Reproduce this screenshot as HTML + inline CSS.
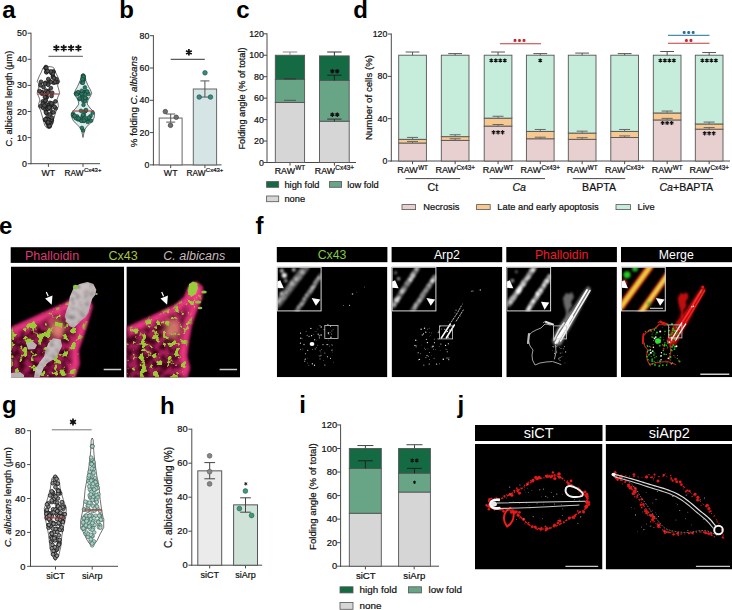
<!DOCTYPE html>
<html><head><meta charset="utf-8"><title>Figure</title>
<style>
html,body{margin:0;padding:0;background:#fff;}
body{width:732px;height:610px;overflow:hidden;}
svg text{font-family:"Liberation Sans",sans-serif;}
</style></head><body>
<svg width="732" height="610" viewBox="0 0 732 610" style="display:block">
<defs>
<filter id="bl2" x="-20%" y="-20%" width="140%" height="140%"><feGaussianBlur stdDeviation="2"/></filter>
<filter id="bl05"><feGaussianBlur stdDeviation="0.5"/></filter>
<filter id="bl03"><feGaussianBlur stdDeviation="0.35"/></filter>
<filter id="bl08" x="-20%" y="-20%" width="140%" height="140%"><feGaussianBlur stdDeviation="1"/></filter>
<filter id="bl15" x="-20%" y="-20%" width="140%" height="140%"><feGaussianBlur stdDeviation="1.5"/></filter>
<filter id="bl3" x="-50%" y="-50%" width="200%" height="200%"><feGaussianBlur stdDeviation="3"/></filter>

<filter id="funtex" color-interpolation-filters="sRGB" filterUnits="userSpaceOnUse" x="0" y="250" width="260" height="140">
<feTurbulence type="fractalNoise" baseFrequency="0.2" numOctaves="3" seed="21"/>
<feColorMatrix type="matrix" values="0 0 0 0 0.5  0 0 0 0 0.47  0 0 0 0 0.48  -2.6 0 0 0 1.4"/><feGaussianBlur stdDeviation="0.9"/></filter>
<linearGradient id="gdark" x1="0" y1="1" x2="1" y2="0"><stop offset="0" stop-color="#fff"/><stop offset="0.45" stop-color="#eee"/><stop offset="0.75" stop-color="#555"/><stop offset="1" stop-color="#222"/></linearGradient>
<linearGradient id="gfun" x1="0" y1="0" x2="1" y2="1"><stop offset="0" stop-color="#d6cfd0"/><stop offset="0.6" stop-color="#c2b9ba"/><stop offset="1" stop-color="#a39a9b"/></linearGradient>
<filter id="darke1" color-interpolation-filters="sRGB" filterUnits="userSpaceOnUse" x="0" y="250" width="260" height="140">
<feTurbulence type="fractalNoise" baseFrequency="0.16" numOctaves="3" seed="3"/>
<feColorMatrix type="matrix" values="0 0 0 0 0.22  0 0 0 0 0.01  0 0 0 0 0.08  -4 0 0 0 2.5"/><feGaussianBlur stdDeviation="0.8"/></filter>
<filter id="greene1" color-interpolation-filters="sRGB" filterUnits="userSpaceOnUse" x="0" y="250" width="260" height="140">
<feTurbulence type="fractalNoise" baseFrequency="0.13" numOctaves="3" seed="11"/>
<feColorMatrix type="matrix" values="0 0 0 0 0.60  0 0 0 0 0.80  0 0 0 0 0.20  16 0 0 0 -9.1"/></filter>
<filter id="darke2" color-interpolation-filters="sRGB" filterUnits="userSpaceOnUse" x="0" y="250" width="260" height="140">
<feTurbulence type="fractalNoise" baseFrequency="0.16" numOctaves="3" seed="5"/>
<feColorMatrix type="matrix" values="0 0 0 0 0.22  0 0 0 0 0.01  0 0 0 0 0.08  -4 0 0 0 2.5"/><feGaussianBlur stdDeviation="0.8"/></filter>
<filter id="greene2" color-interpolation-filters="sRGB" filterUnits="userSpaceOnUse" x="0" y="250" width="260" height="140">
<feTurbulence type="fractalNoise" baseFrequency="0.15" numOctaves="3" seed="13"/>
<feColorMatrix type="matrix" values="0 0 0 0 0.60  0 0 0 0 0.80  0 0 0 0 0.20  16 0 0 0 -9.1"/></filter>
</defs>
<text x="2.3" y="17.8" font-size="24" font-weight="bold" fill="#000" >a</text>
<line x1="31" y1="32.7" x2="31" y2="164.2" stroke="#4a4a4a" stroke-width="1" />
<line x1="27.6" y1="163.7" x2="31" y2="163.7" stroke="#4a4a4a" stroke-width="1" />
<text x="26.9" y="166.78" font-size="8.8" text-anchor="end" fill="#111" stroke="#111" stroke-width="0.22" >0</text>
<line x1="27.6" y1="137.6" x2="31" y2="137.6" stroke="#4a4a4a" stroke-width="1" />
<text x="26.9" y="140.68" font-size="8.8" text-anchor="end" fill="#111" stroke="#111" stroke-width="0.22" >10</text>
<line x1="27.6" y1="111.5" x2="31" y2="111.5" stroke="#4a4a4a" stroke-width="1" />
<text x="26.9" y="114.58" font-size="8.8" text-anchor="end" fill="#111" stroke="#111" stroke-width="0.22" >20</text>
<line x1="27.6" y1="85.4" x2="31" y2="85.4" stroke="#4a4a4a" stroke-width="1" />
<text x="26.9" y="88.48" font-size="8.8" text-anchor="end" fill="#111" stroke="#111" stroke-width="0.22" >30</text>
<line x1="27.6" y1="59.3" x2="31" y2="59.3" stroke="#4a4a4a" stroke-width="1" />
<text x="26.9" y="62.38" font-size="8.8" text-anchor="end" fill="#111" stroke="#111" stroke-width="0.22" >40</text>
<line x1="27.6" y1="33.2" x2="31" y2="33.2" stroke="#4a4a4a" stroke-width="1" />
<text x="26.9" y="36.28" font-size="8.8" text-anchor="end" fill="#111" stroke="#111" stroke-width="0.22" >50</text>
<line x1="30.5" y1="163.7" x2="100" y2="163.7" stroke="#4a4a4a" stroke-width="1" />
<line x1="48.4" y1="163.7" x2="48.4" y2="166.9" stroke="#4a4a4a" stroke-width="1" />
<line x1="83" y1="163.7" x2="83" y2="166.9" stroke="#4a4a4a" stroke-width="1" />
<text x="48.4" y="175.8" font-size="8.8" text-anchor="middle" fill="#111" stroke="#111" stroke-width="0.22" >WT</text>
<text x="64.56" y="175.8" font-size="8.3" fill="#111" stroke="#111" stroke-width="0.22" >RAW</text>
<text x="83.93" y="172" font-size="6" fill="#111" stroke="#111" stroke-width="0.22" >Cx43+</text>
<text x="11.6" y="98.6" font-size="9.3" text-anchor="middle" fill="#111" transform="rotate(-90 11.6 98.6)" stroke="#111" stroke-width="0.22" >C. albicans length (μm)</text>
<line x1="48.4" y1="56.3" x2="82.9" y2="56.3" stroke="#7a7a7a" stroke-width="1.2" />
<path d="M56.38,44.7L56.38,51.5M53.43,46.4L59.32,49.8M59.32,46.4L53.43,49.8M63.73,44.7L63.73,51.5M60.78,46.4L66.67,49.8M66.67,46.4L60.78,49.8M71.08,44.7L71.08,51.5M68.13,46.4L74.02,49.8M74.02,46.4L68.13,49.8M78.43,44.7L78.43,51.5M75.48,46.4L81.37,49.8M81.37,46.4L75.48,49.8" stroke="#111" stroke-width="1.7" stroke-linecap="butt" fill="none"/>
<path d="M48.4,66.5 L44.4,67 L42.9,68 L41.4,72 L38.9,77 L37.2,81.5 L38.9,84 L39.1,86 L37.9,90 L37.2,93.5 L38.9,97 L39.9,100 L38.9,103 L38.4,106.5 L40.4,110 L41.9,115 L43.4,120 L44.6,125 L46.4,127.5 L48.4,128.5 L48.4,128.5 L50.4,127.5 L52.2,125 L53.4,120 L54.9,115 L56.4,110 L58.4,106.5 L57.9,103 L56.9,100 L57.9,97 L59.6,93.5 L58.9,90 L57.7,86 L57.9,84 L59.6,81.5 L57.9,77 L55.4,72 L53.9,68 L52.4,67 L48.4,66.5Z" fill="none" stroke="#333" stroke-width="0.7" stroke-linejoin="round"/>
<circle cx="51.9" cy="112.49" r="1.9" fill="#505050" stroke="#111" stroke-width="0.7"/>
<circle cx="53.43" cy="112.37" r="1.9" fill="#505050" stroke="#111" stroke-width="0.7"/>
<circle cx="40.67" cy="106.2" r="1.9" fill="#505050" stroke="#111" stroke-width="0.7"/>
<circle cx="47.81" cy="91.81" r="1.9" fill="#505050" stroke="#111" stroke-width="0.7"/>
<circle cx="49.88" cy="121.97" r="1.9" fill="#505050" stroke="#111" stroke-width="0.7"/>
<circle cx="56.21" cy="82.22" r="1.9" fill="#505050" stroke="#111" stroke-width="0.7"/>
<circle cx="53.08" cy="76.4" r="1.9" fill="#505050" stroke="#111" stroke-width="0.7"/>
<circle cx="51.82" cy="120.2" r="1.9" fill="#505050" stroke="#111" stroke-width="0.7"/>
<circle cx="57.3" cy="81.79" r="1.9" fill="#505050" stroke="#111" stroke-width="0.7"/>
<circle cx="49.14" cy="80.5" r="1.9" fill="#505050" stroke="#111" stroke-width="0.7"/>
<circle cx="56.34" cy="79.2" r="1.9" fill="#505050" stroke="#111" stroke-width="0.7"/>
<circle cx="49.54" cy="126.43" r="1.9" fill="#505050" stroke="#111" stroke-width="0.7"/>
<circle cx="47.01" cy="96.96" r="1.9" fill="#505050" stroke="#111" stroke-width="0.7"/>
<circle cx="45.39" cy="82.86" r="1.9" fill="#505050" stroke="#111" stroke-width="0.7"/>
<circle cx="49.96" cy="102.84" r="1.9" fill="#505050" stroke="#111" stroke-width="0.7"/>
<circle cx="46.91" cy="70.59" r="1.9" fill="#505050" stroke="#111" stroke-width="0.7"/>
<circle cx="42.08" cy="93.72" r="1.9" fill="#505050" stroke="#111" stroke-width="0.7"/>
<circle cx="53.38" cy="71.66" r="1.9" fill="#505050" stroke="#111" stroke-width="0.7"/>
<circle cx="46.43" cy="108.8" r="1.9" fill="#505050" stroke="#111" stroke-width="0.7"/>
<circle cx="45.89" cy="67.06" r="1.9" fill="#505050" stroke="#111" stroke-width="0.7"/>
<circle cx="41.04" cy="81.82" r="1.9" fill="#505050" stroke="#111" stroke-width="0.7"/>
<circle cx="48.82" cy="105.16" r="1.9" fill="#505050" stroke="#111" stroke-width="0.7"/>
<circle cx="51.51" cy="73.2" r="1.9" fill="#505050" stroke="#111" stroke-width="0.7"/>
<circle cx="44.94" cy="119.8" r="1.9" fill="#505050" stroke="#111" stroke-width="0.7"/>
<circle cx="46.57" cy="72.15" r="1.9" fill="#505050" stroke="#111" stroke-width="0.7"/>
<circle cx="47.49" cy="123.42" r="1.9" fill="#505050" stroke="#111" stroke-width="0.7"/>
<circle cx="45.67" cy="100.3" r="1.9" fill="#505050" stroke="#111" stroke-width="0.7"/>
<circle cx="53.79" cy="82.74" r="1.9" fill="#505050" stroke="#111" stroke-width="0.7"/>
<circle cx="45.99" cy="111.21" r="1.9" fill="#505050" stroke="#111" stroke-width="0.7"/>
<circle cx="53.17" cy="71.89" r="1.9" fill="#505050" stroke="#111" stroke-width="0.7"/>
<circle cx="47.41" cy="122.06" r="1.9" fill="#505050" stroke="#111" stroke-width="0.7"/>
<circle cx="50.45" cy="108.71" r="1.9" fill="#505050" stroke="#111" stroke-width="0.7"/>
<circle cx="43.52" cy="87.22" r="1.9" fill="#505050" stroke="#111" stroke-width="0.7"/>
<circle cx="42.77" cy="101.47" r="1.9" fill="#505050" stroke="#111" stroke-width="0.7"/>
<circle cx="42.04" cy="92.16" r="1.9" fill="#505050" stroke="#111" stroke-width="0.7"/>
<circle cx="52.84" cy="73.53" r="1.9" fill="#505050" stroke="#111" stroke-width="0.7"/>
<circle cx="43.22" cy="107.96" r="1.9" fill="#505050" stroke="#111" stroke-width="0.7"/>
<circle cx="51.59" cy="104.95" r="1.9" fill="#505050" stroke="#111" stroke-width="0.7"/>
<circle cx="41.55" cy="92.59" r="1.9" fill="#505050" stroke="#111" stroke-width="0.7"/>
<circle cx="51.21" cy="122.57" r="1.9" fill="#505050" stroke="#111" stroke-width="0.7"/>
<circle cx="45.81" cy="97.46" r="1.9" fill="#505050" stroke="#111" stroke-width="0.7"/>
<circle cx="48.45" cy="90.99" r="1.9" fill="#505050" stroke="#111" stroke-width="0.7"/>
<circle cx="52.19" cy="92.81" r="1.9" fill="#505050" stroke="#111" stroke-width="0.7"/>
<circle cx="46.87" cy="113.6" r="1.9" fill="#505050" stroke="#111" stroke-width="0.7"/>
<circle cx="48.16" cy="83.91" r="1.9" fill="#505050" stroke="#111" stroke-width="0.7"/>
<circle cx="45.49" cy="109.33" r="1.9" fill="#505050" stroke="#111" stroke-width="0.7"/>
<circle cx="49.77" cy="106.78" r="1.9" fill="#505050" stroke="#111" stroke-width="0.7"/>
<circle cx="46.87" cy="121.21" r="1.9" fill="#505050" stroke="#111" stroke-width="0.7"/>
<circle cx="49.52" cy="119.59" r="1.9" fill="#505050" stroke="#111" stroke-width="0.7"/>
<circle cx="50.88" cy="88.07" r="1.9" fill="#505050" stroke="#111" stroke-width="0.7"/>
<circle cx="47.11" cy="117.85" r="1.9" fill="#505050" stroke="#111" stroke-width="0.7"/>
<circle cx="49.74" cy="120.43" r="1.9" fill="#505050" stroke="#111" stroke-width="0.7"/>
<circle cx="48.47" cy="125.8" r="1.9" fill="#505050" stroke="#111" stroke-width="0.7"/>
<circle cx="55.15" cy="81.98" r="1.9" fill="#505050" stroke="#111" stroke-width="0.7"/>
<circle cx="50.8" cy="71.44" r="1.9" fill="#505050" stroke="#111" stroke-width="0.7"/>
<circle cx="53.01" cy="77.15" r="1.9" fill="#505050" stroke="#111" stroke-width="0.7"/>
<circle cx="47.14" cy="107.76" r="1.9" fill="#505050" stroke="#111" stroke-width="0.7"/>
<circle cx="49.85" cy="114.53" r="1.9" fill="#505050" stroke="#111" stroke-width="0.7"/>
<circle cx="45.51" cy="68.21" r="1.9" fill="#505050" stroke="#111" stroke-width="0.7"/>
<circle cx="50.9" cy="81.97" r="1.9" fill="#505050" stroke="#111" stroke-width="0.7"/>
<circle cx="55.68" cy="108.39" r="1.9" fill="#505050" stroke="#111" stroke-width="0.7"/>
<circle cx="48.12" cy="84.72" r="1.9" fill="#505050" stroke="#111" stroke-width="0.7"/>
<circle cx="47.89" cy="108.69" r="1.9" fill="#505050" stroke="#111" stroke-width="0.7"/>
<circle cx="49.79" cy="121.97" r="1.9" fill="#505050" stroke="#111" stroke-width="0.7"/>
<circle cx="46.53" cy="93.47" r="1.9" fill="#505050" stroke="#111" stroke-width="0.7"/>
<circle cx="49.16" cy="107.63" r="1.9" fill="#505050" stroke="#111" stroke-width="0.7"/>
<circle cx="45.47" cy="100.6" r="1.9" fill="#505050" stroke="#111" stroke-width="0.7"/>
<circle cx="47.14" cy="119.18" r="1.9" fill="#505050" stroke="#111" stroke-width="0.7"/>
<circle cx="49.55" cy="125.91" r="1.9" fill="#505050" stroke="#111" stroke-width="0.7"/>
<circle cx="45.78" cy="120.04" r="1.9" fill="#505050" stroke="#111" stroke-width="0.7"/>
<circle cx="55.4" cy="101.46" r="1.9" fill="#505050" stroke="#111" stroke-width="0.7"/>
<circle cx="45.91" cy="104.23" r="1.9" fill="#505050" stroke="#111" stroke-width="0.7"/>
<circle cx="51.51" cy="119.8" r="1.9" fill="#505050" stroke="#111" stroke-width="0.7"/>
<circle cx="46.09" cy="90.68" r="1.9" fill="#505050" stroke="#111" stroke-width="0.7"/>
<circle cx="48.28" cy="79.05" r="1.9" fill="#505050" stroke="#111" stroke-width="0.7"/>
<circle cx="42.76" cy="103.66" r="1.9" fill="#505050" stroke="#111" stroke-width="0.7"/>
<circle cx="46.03" cy="112.44" r="1.9" fill="#505050" stroke="#111" stroke-width="0.7"/>
<circle cx="46.33" cy="72.1" r="1.9" fill="#505050" stroke="#111" stroke-width="0.7"/>
<circle cx="44.91" cy="96.99" r="1.9" fill="#505050" stroke="#111" stroke-width="0.7"/>
<circle cx="46.42" cy="67.82" r="1.9" fill="#505050" stroke="#111" stroke-width="0.7"/>
<circle cx="54" cy="78.06" r="1.9" fill="#505050" stroke="#111" stroke-width="0.7"/>
<circle cx="48.21" cy="119.89" r="1.9" fill="#505050" stroke="#111" stroke-width="0.7"/>
<circle cx="44.43" cy="105.56" r="1.9" fill="#505050" stroke="#111" stroke-width="0.7"/>
<circle cx="47.91" cy="92.41" r="1.9" fill="#505050" stroke="#111" stroke-width="0.7"/>
<circle cx="52.44" cy="103.94" r="1.9" fill="#505050" stroke="#111" stroke-width="0.7"/>
<circle cx="45.04" cy="83.61" r="1.9" fill="#505050" stroke="#111" stroke-width="0.7"/>
<circle cx="39.52" cy="91.04" r="1.9" fill="#505050" stroke="#111" stroke-width="0.7"/>
<circle cx="45.55" cy="119.3" r="1.9" fill="#505050" stroke="#111" stroke-width="0.7"/>
<circle cx="51.81" cy="117.57" r="1.9" fill="#505050" stroke="#111" stroke-width="0.7"/>
<circle cx="47.66" cy="70.98" r="1.9" fill="#505050" stroke="#111" stroke-width="0.7"/>
<circle cx="51.51" cy="103.38" r="1.9" fill="#505050" stroke="#111" stroke-width="0.7"/>
<circle cx="54.53" cy="106.73" r="1.9" fill="#505050" stroke="#111" stroke-width="0.7"/>
<circle cx="51.56" cy="95.99" r="1.9" fill="#505050" stroke="#111" stroke-width="0.7"/>
<circle cx="48.18" cy="122.23" r="1.9" fill="#505050" stroke="#111" stroke-width="0.7"/>
<circle cx="40.41" cy="85.33" r="1.9" fill="#505050" stroke="#111" stroke-width="0.7"/>
<line x1="37.5" y1="94" x2="59.3" y2="94" stroke="#a33" stroke-width="1.1" />
<path d="M83,74 L81.4,74.5 L80.4,80 L77.5,86.5 L75.5,90 L74.3,93.3 L76,97 L78,100 L78.8,104 L76,108 L73,111 L71.3,114 L72,118 L73.5,121 L76.5,124 L79.5,127 L81.5,130 L82.3,134 L83,137.5 L83,137.5 L83.7,134 L84.5,130 L86.5,127 L89.5,124 L92.5,121 L94,118 L94.7,114 L93,111 L90,108 L87.2,104 L88,100 L90,97 L91.7,93.3 L90.5,90 L88.5,86.5 L85.6,80 L84.6,74.5 L83,74Z" fill="#d9eeee" stroke="#333" stroke-width="0.7" stroke-linejoin="round"/>
<circle cx="85.57" cy="110.96" r="1.85" fill="#2b7a64" stroke="#173d33" stroke-width="0.6"/>
<circle cx="78.18" cy="93.75" r="1.85" fill="#2b7a64" stroke="#173d33" stroke-width="0.6"/>
<circle cx="83.11" cy="130.43" r="1.85" fill="#2b7a64" stroke="#173d33" stroke-width="0.6"/>
<circle cx="83.29" cy="101.02" r="1.85" fill="#2b7a64" stroke="#173d33" stroke-width="0.6"/>
<circle cx="88.26" cy="119.37" r="1.85" fill="#2b7a64" stroke="#173d33" stroke-width="0.6"/>
<circle cx="83.23" cy="75.62" r="1.85" fill="#2b7a64" stroke="#173d33" stroke-width="0.6"/>
<circle cx="83.53" cy="77.1" r="1.85" fill="#2b7a64" stroke="#173d33" stroke-width="0.6"/>
<circle cx="87.71" cy="121.94" r="1.85" fill="#2b7a64" stroke="#173d33" stroke-width="0.6"/>
<circle cx="82.21" cy="95.5" r="1.85" fill="#2b7a64" stroke="#173d33" stroke-width="0.6"/>
<circle cx="81.75" cy="92.91" r="1.85" fill="#2b7a64" stroke="#173d33" stroke-width="0.6"/>
<circle cx="85.87" cy="119.47" r="1.85" fill="#2b7a64" stroke="#173d33" stroke-width="0.6"/>
<circle cx="83.97" cy="91.77" r="1.85" fill="#2b7a64" stroke="#173d33" stroke-width="0.6"/>
<circle cx="90.61" cy="115.98" r="1.85" fill="#2b7a64" stroke="#173d33" stroke-width="0.6"/>
<circle cx="82.79" cy="116.04" r="1.85" fill="#2b7a64" stroke="#173d33" stroke-width="0.6"/>
<circle cx="80.85" cy="120.32" r="1.85" fill="#2b7a64" stroke="#173d33" stroke-width="0.6"/>
<circle cx="86.38" cy="118.42" r="1.85" fill="#2b7a64" stroke="#173d33" stroke-width="0.6"/>
<circle cx="83.82" cy="120.99" r="1.85" fill="#2b7a64" stroke="#173d33" stroke-width="0.6"/>
<circle cx="86.44" cy="91.84" r="1.85" fill="#2b7a64" stroke="#173d33" stroke-width="0.6"/>
<circle cx="81.72" cy="82.5" r="1.85" fill="#2b7a64" stroke="#173d33" stroke-width="0.6"/>
<circle cx="80.91" cy="118.61" r="1.85" fill="#2b7a64" stroke="#173d33" stroke-width="0.6"/>
<circle cx="85.4" cy="92.62" r="1.85" fill="#2b7a64" stroke="#173d33" stroke-width="0.6"/>
<circle cx="83.09" cy="92.44" r="1.85" fill="#2b7a64" stroke="#173d33" stroke-width="0.6"/>
<circle cx="82.66" cy="98.76" r="1.85" fill="#2b7a64" stroke="#173d33" stroke-width="0.6"/>
<circle cx="83.1" cy="80.83" r="1.85" fill="#2b7a64" stroke="#173d33" stroke-width="0.6"/>
<circle cx="86.31" cy="98.42" r="1.85" fill="#2b7a64" stroke="#173d33" stroke-width="0.6"/>
<circle cx="85.03" cy="101.26" r="1.85" fill="#2b7a64" stroke="#173d33" stroke-width="0.6"/>
<circle cx="83.97" cy="79.32" r="1.85" fill="#2b7a64" stroke="#173d33" stroke-width="0.6"/>
<circle cx="84.91" cy="87.43" r="1.85" fill="#2b7a64" stroke="#173d33" stroke-width="0.6"/>
<circle cx="85.86" cy="92.09" r="1.85" fill="#2b7a64" stroke="#173d33" stroke-width="0.6"/>
<circle cx="85.24" cy="98.01" r="1.85" fill="#2b7a64" stroke="#173d33" stroke-width="0.6"/>
<circle cx="88.96" cy="117.58" r="1.85" fill="#2b7a64" stroke="#173d33" stroke-width="0.6"/>
<circle cx="84.35" cy="111.87" r="1.85" fill="#2b7a64" stroke="#173d33" stroke-width="0.6"/>
<circle cx="79.54" cy="99.11" r="1.85" fill="#2b7a64" stroke="#173d33" stroke-width="0.6"/>
<circle cx="78.61" cy="92.76" r="1.85" fill="#2b7a64" stroke="#173d33" stroke-width="0.6"/>
<circle cx="82.11" cy="96.13" r="1.85" fill="#2b7a64" stroke="#173d33" stroke-width="0.6"/>
<circle cx="82.35" cy="120.25" r="1.85" fill="#2b7a64" stroke="#173d33" stroke-width="0.6"/>
<circle cx="76.5" cy="118.33" r="1.85" fill="#2b7a64" stroke="#173d33" stroke-width="0.6"/>
<circle cx="84.06" cy="115.22" r="1.85" fill="#2b7a64" stroke="#173d33" stroke-width="0.6"/>
<circle cx="86.41" cy="91.68" r="1.85" fill="#2b7a64" stroke="#173d33" stroke-width="0.6"/>
<circle cx="83.47" cy="76.11" r="1.85" fill="#2b7a64" stroke="#173d33" stroke-width="0.6"/>
<circle cx="73.17" cy="113.78" r="1.85" fill="#2b7a64" stroke="#173d33" stroke-width="0.6"/>
<circle cx="81.9" cy="127.9" r="1.85" fill="#2b7a64" stroke="#173d33" stroke-width="0.6"/>
<circle cx="82.37" cy="94.59" r="1.85" fill="#2b7a64" stroke="#173d33" stroke-width="0.6"/>
<circle cx="76.18" cy="93.51" r="1.85" fill="#2b7a64" stroke="#173d33" stroke-width="0.6"/>
<circle cx="85.57" cy="110.49" r="1.85" fill="#2b7a64" stroke="#173d33" stroke-width="0.6"/>
<circle cx="76.79" cy="117.21" r="1.85" fill="#2b7a64" stroke="#173d33" stroke-width="0.6"/>
<circle cx="78.16" cy="92.72" r="1.85" fill="#2b7a64" stroke="#173d33" stroke-width="0.6"/>
<circle cx="77.19" cy="116.47" r="1.85" fill="#2b7a64" stroke="#173d33" stroke-width="0.6"/>
<circle cx="72.91" cy="115.05" r="1.85" fill="#2b7a64" stroke="#173d33" stroke-width="0.6"/>
<circle cx="81.51" cy="120.84" r="1.85" fill="#2b7a64" stroke="#173d33" stroke-width="0.6"/>
<circle cx="84.1" cy="120.56" r="1.85" fill="#2b7a64" stroke="#173d33" stroke-width="0.6"/>
<circle cx="78.29" cy="119.5" r="1.85" fill="#2b7a64" stroke="#173d33" stroke-width="0.6"/>
<circle cx="82.93" cy="79.84" r="1.85" fill="#2b7a64" stroke="#173d33" stroke-width="0.6"/>
<circle cx="82.95" cy="114.91" r="1.85" fill="#2b7a64" stroke="#173d33" stroke-width="0.6"/>
<circle cx="83.51" cy="77.04" r="1.85" fill="#2b7a64" stroke="#173d33" stroke-width="0.6"/>
<circle cx="74.04" cy="116.38" r="1.85" fill="#2b7a64" stroke="#173d33" stroke-width="0.6"/>
<circle cx="81.6" cy="93.82" r="1.85" fill="#2b7a64" stroke="#173d33" stroke-width="0.6"/>
<circle cx="82.56" cy="79.36" r="1.85" fill="#2b7a64" stroke="#173d33" stroke-width="0.6"/>
<circle cx="91.1" cy="120.72" r="1.85" fill="#2b7a64" stroke="#173d33" stroke-width="0.6"/>
<circle cx="76.03" cy="93.69" r="1.85" fill="#2b7a64" stroke="#173d33" stroke-width="0.6"/>
<circle cx="83.5" cy="104.9" r="1.85" fill="#2b7a64" stroke="#173d33" stroke-width="0.6"/>
<circle cx="75.92" cy="118.13" r="1.85" fill="#2b7a64" stroke="#173d33" stroke-width="0.6"/>
<circle cx="92.68" cy="112.73" r="1.85" fill="#2b7a64" stroke="#173d33" stroke-width="0.6"/>
<circle cx="82.91" cy="82.81" r="1.85" fill="#2b7a64" stroke="#173d33" stroke-width="0.6"/>
<circle cx="81.74" cy="90.73" r="1.85" fill="#2b7a64" stroke="#173d33" stroke-width="0.6"/>
<circle cx="74.58" cy="115.88" r="1.85" fill="#2b7a64" stroke="#173d33" stroke-width="0.6"/>
<circle cx="85.32" cy="94.27" r="1.85" fill="#2b7a64" stroke="#173d33" stroke-width="0.6"/>
<circle cx="86.09" cy="110" r="1.85" fill="#2b7a64" stroke="#173d33" stroke-width="0.6"/>
<circle cx="88.48" cy="93.95" r="1.85" fill="#2b7a64" stroke="#173d33" stroke-width="0.6"/>
<circle cx="80.95" cy="110.83" r="1.85" fill="#2b7a64" stroke="#173d33" stroke-width="0.6"/>
<circle cx="87.27" cy="91.46" r="1.85" fill="#2b7a64" stroke="#173d33" stroke-width="0.6"/>
<circle cx="78.61" cy="118.52" r="1.85" fill="#2b7a64" stroke="#173d33" stroke-width="0.6"/>
<circle cx="79.41" cy="98.28" r="1.85" fill="#2b7a64" stroke="#173d33" stroke-width="0.6"/>
<circle cx="77.91" cy="92.22" r="1.85" fill="#2b7a64" stroke="#173d33" stroke-width="0.6"/>
<circle cx="76.62" cy="94.52" r="1.85" fill="#2b7a64" stroke="#173d33" stroke-width="0.6"/>
<line x1="72.5" y1="111" x2="94" y2="111" stroke="#a33" stroke-width="1.1" />
<text x="119.3" y="17.8" font-size="24" font-weight="bold" fill="#000" >b</text>
<line x1="153.4" y1="35.2" x2="153.4" y2="165.4" stroke="#4a4a4a" stroke-width="1" />
<line x1="150" y1="164.9" x2="153.4" y2="164.9" stroke="#4a4a4a" stroke-width="1" />
<text x="149.4" y="167.98" font-size="8.8" text-anchor="end" fill="#111" stroke="#111" stroke-width="0.22" >0</text>
<line x1="150" y1="132.6" x2="153.4" y2="132.6" stroke="#4a4a4a" stroke-width="1" />
<text x="149.4" y="135.68" font-size="8.8" text-anchor="end" fill="#111" stroke="#111" stroke-width="0.22" >20</text>
<line x1="150" y1="100.3" x2="153.4" y2="100.3" stroke="#4a4a4a" stroke-width="1" />
<text x="149.4" y="103.38" font-size="8.8" text-anchor="end" fill="#111" stroke="#111" stroke-width="0.22" >40</text>
<line x1="150" y1="68" x2="153.4" y2="68" stroke="#4a4a4a" stroke-width="1" />
<text x="149.4" y="71.08" font-size="8.8" text-anchor="end" fill="#111" stroke="#111" stroke-width="0.22" >60</text>
<line x1="150" y1="35.7" x2="153.4" y2="35.7" stroke="#4a4a4a" stroke-width="1" />
<text x="149.4" y="38.78" font-size="8.8" text-anchor="end" fill="#111" stroke="#111" stroke-width="0.22" >80</text>
<line x1="152.9" y1="164.9" x2="221.5" y2="164.9" stroke="#4a4a4a" stroke-width="1" />
<line x1="170.7" y1="164.9" x2="170.7" y2="168.1" stroke="#4a4a4a" stroke-width="1" />
<line x1="204.9" y1="164.9" x2="204.9" y2="168.1" stroke="#4a4a4a" stroke-width="1" />
<rect x="159.2" y="118.06" width="22.9" height="46.84" fill="#fff" stroke="#666" stroke-width="1" />
<rect x="193.3" y="89" width="23.3" height="75.91" fill="#d5e5e5" stroke="#666" stroke-width="1" />
<line x1="170.7" y1="122.1" x2="170.7" y2="114.03" stroke="#555" stroke-width="1" />
<line x1="166.2" y1="114.03" x2="175.2" y2="114.03" stroke="#555" stroke-width="1" />
<line x1="166.2" y1="122.1" x2="175.2" y2="122.1" stroke="#555" stroke-width="1" />
<line x1="204.9" y1="97.07" x2="204.9" y2="80.92" stroke="#555" stroke-width="1" />
<line x1="200.4" y1="80.92" x2="209.4" y2="80.92" stroke="#555" stroke-width="1" />
<line x1="200.4" y1="97.07" x2="209.4" y2="97.07" stroke="#555" stroke-width="1" />
<circle cx="165.3" cy="111.61" r="2.3" fill="#707070" stroke="#333" stroke-width="0.6"/>
<circle cx="176.2" cy="117.26" r="2.3" fill="#707070" stroke="#333" stroke-width="0.6"/>
<circle cx="170.5" cy="125.33" r="2.3" fill="#707070" stroke="#333" stroke-width="0.6"/>
<circle cx="205" cy="72.85" r="2.3" fill="#3b8a82" stroke="#1c4a45" stroke-width="0.6"/>
<circle cx="199.2" cy="97.07" r="2.3" fill="#3b8a82" stroke="#1c4a45" stroke-width="0.6"/>
<circle cx="210.5" cy="97.07" r="2.3" fill="#3b8a82" stroke="#1c4a45" stroke-width="0.6"/>
<line x1="170.7" y1="59.3" x2="204.8" y2="59.3" stroke="#333" stroke-width="1" />
<path d="M188.9,49L188.9,55.6M186.04,50.65L191.76,53.95M191.76,50.65L186.04,53.95" stroke="#111" stroke-width="1.7" stroke-linecap="butt" fill="none"/>
<text x="170.7" y="176.2" font-size="8.8" text-anchor="middle" fill="#111" stroke="#111" stroke-width="0.22" >WT</text>
<text x="186.46" y="176.2" font-size="8.3" fill="#111" stroke="#111" stroke-width="0.22" >RAW</text>
<text x="205.83" y="172.4" font-size="6" fill="#111" stroke="#111" stroke-width="0.22" >Cx43+</text>
<text x="137.4" y="101.7" font-size="9.75" text-anchor="middle" fill="#111" transform="rotate(-90 137.4 101.7)" stroke="#111" stroke-width="0.22" >% folding <tspan font-style="italic">C. albicans</tspan></text>
<text x="236.3" y="17.8" font-size="24" font-weight="bold" fill="#000" >c</text>
<line x1="267" y1="33.3" x2="267" y2="163" stroke="#4a4a4a" stroke-width="1" />
<line x1="263.6" y1="162.5" x2="267" y2="162.5" stroke="#4a4a4a" stroke-width="1" />
<text x="263.9" y="165.58" font-size="8.8" text-anchor="end" fill="#111" stroke="#111" stroke-width="0.22" >0</text>
<line x1="263.6" y1="141.05" x2="267" y2="141.05" stroke="#4a4a4a" stroke-width="1" />
<text x="263.9" y="144.13" font-size="8.8" text-anchor="end" fill="#111" stroke="#111" stroke-width="0.22" >20</text>
<line x1="263.6" y1="119.6" x2="267" y2="119.6" stroke="#4a4a4a" stroke-width="1" />
<text x="263.9" y="122.68" font-size="8.8" text-anchor="end" fill="#111" stroke="#111" stroke-width="0.22" >40</text>
<line x1="263.6" y1="98.15" x2="267" y2="98.15" stroke="#4a4a4a" stroke-width="1" />
<text x="263.9" y="101.23" font-size="8.8" text-anchor="end" fill="#111" stroke="#111" stroke-width="0.22" >60</text>
<line x1="263.6" y1="76.7" x2="267" y2="76.7" stroke="#4a4a4a" stroke-width="1" />
<text x="263.9" y="79.78" font-size="8.8" text-anchor="end" fill="#111" stroke="#111" stroke-width="0.22" >80</text>
<line x1="263.6" y1="55.25" x2="267" y2="55.25" stroke="#4a4a4a" stroke-width="1" />
<text x="263.9" y="58.33" font-size="8.8" text-anchor="end" fill="#111" stroke="#111" stroke-width="0.22" >100</text>
<line x1="263.6" y1="33.8" x2="267" y2="33.8" stroke="#4a4a4a" stroke-width="1" />
<text x="263.9" y="36.88" font-size="8.8" text-anchor="end" fill="#111" stroke="#111" stroke-width="0.22" >120</text>
<line x1="266.5" y1="162.5" x2="356" y2="162.5" stroke="#4a4a4a" stroke-width="1" />
<line x1="290" y1="162.5" x2="290" y2="165.7" stroke="#4a4a4a" stroke-width="1" />
<line x1="334.4" y1="162.5" x2="334.4" y2="165.7" stroke="#4a4a4a" stroke-width="1" />
<rect x="275.3" y="102.44" width="29.3" height="60.06" fill="#d6d6d6" stroke="#555" stroke-width="0.9" />
<rect x="275.3" y="79.38" width="29.3" height="23.06" fill="#68a486" stroke="#555" stroke-width="0.9" />
<rect x="275.3" y="55.25" width="29.3" height="24.13" fill="#146a43" stroke="#555" stroke-width="0.9" />
<rect x="319.5" y="121.21" width="29.7" height="41.29" fill="#d6d6d6" stroke="#555" stroke-width="0.9" />
<rect x="319.5" y="80.45" width="29.7" height="40.76" fill="#68a486" stroke="#555" stroke-width="0.9" />
<rect x="319.5" y="55.89" width="29.7" height="24.56" fill="#146a43" stroke="#555" stroke-width="0.9" />
<line x1="290" y1="55.25" x2="290" y2="52" stroke="#8a8a8a" stroke-width="1" />
<line x1="282.8" y1="52" x2="297.2" y2="52" stroke="#8a8a8a" stroke-width="1" />
<line x1="334.4" y1="55.89" x2="334.4" y2="52" stroke="#333" stroke-width="1" />
<line x1="327.2" y1="52" x2="341.6" y2="52" stroke="#333" stroke-width="1" />
<line x1="284" y1="78.84" x2="296" y2="78.84" stroke="#333" stroke-width="1" />
<line x1="284" y1="100.3" x2="296" y2="100.3" stroke="#555" stroke-width="1" />
<line x1="334.4" y1="80.5" x2="334.4" y2="75.2" stroke="#222" stroke-width="1" />
<line x1="327.2" y1="75.2" x2="341.6" y2="75.2" stroke="#222" stroke-width="1" />
<line x1="334.4" y1="121.4" x2="334.4" y2="119.1" stroke="#333" stroke-width="1" />
<line x1="327.2" y1="119.1" x2="341.6" y2="119.1" stroke="#333" stroke-width="1" />
<path d="M332.35,69L332.35,73.4M330.44,70.1L334.26,72.3M334.26,70.1L330.44,72.3M337.25,69L337.25,73.4M335.34,70.1L339.16,72.3M339.16,70.1L335.34,72.3" stroke="#111" stroke-width="1.3" stroke-linecap="butt" fill="none"/>
<path d="M332.35,112.5L332.35,116.9M330.44,113.6L334.26,115.8M334.26,113.6L330.44,115.8M337.25,112.5L337.25,116.9M335.34,113.6L339.16,115.8M339.16,113.6L335.34,115.8" stroke="#111" stroke-width="1.3" stroke-linecap="butt" fill="none"/>
<text x="274.76" y="173.8" font-size="8.8" fill="#111" stroke="#111" stroke-width="0.22" >RAW</text>
<text x="295.29" y="170" font-size="6.4" fill="#111" stroke="#111" stroke-width="0.22" >WT</text>
<text x="314.8" y="173.8" font-size="8.8" fill="#111" stroke="#111" stroke-width="0.22" >RAW</text>
<text x="335.33" y="170" font-size="6.4" fill="#111" stroke="#111" stroke-width="0.22" >Cx43+</text>
<text x="244.6" y="98.5" font-size="9.2" text-anchor="middle" fill="#111" transform="rotate(-90 244.6 98.5)" stroke="#111" stroke-width="0.22" >Folding angle (% of total)</text>
<rect x="266.6" y="181.6" width="12.1" height="5.7" fill="#146a43" stroke="#555" stroke-width="0.8" />
<text x="284.4" y="187.5" font-size="9.3" fill="#111" stroke="#111" stroke-width="0.22" >high fold</text>
<rect x="329.5" y="181.6" width="12.1" height="5.7" fill="#68a486" stroke="#555" stroke-width="0.8" />
<text x="347.2" y="187.5" font-size="9.3" fill="#111" stroke="#111" stroke-width="0.22" >low fold</text>
<rect x="266.6" y="196" width="12.1" height="5.7" fill="#d6d6d6" stroke="#555" stroke-width="0.8" />
<text x="284.4" y="201.8" font-size="9.3" fill="#111" stroke="#111" stroke-width="0.22" >none</text>
<text x="353.3" y="17.8" font-size="24" font-weight="bold" fill="#000" >d</text>
<line x1="391.3" y1="33.54" x2="391.3" y2="161.5" stroke="#4a4a4a" stroke-width="1" />
<line x1="387.9" y1="161" x2="391.3" y2="161" stroke="#4a4a4a" stroke-width="1" />
<text x="387.4" y="164.08" font-size="8.8" text-anchor="end" fill="#111" stroke="#111" stroke-width="0.22" >0</text>
<line x1="387.9" y1="118.68" x2="391.3" y2="118.68" stroke="#4a4a4a" stroke-width="1" />
<text x="387.4" y="121.76" font-size="8.8" text-anchor="end" fill="#111" stroke="#111" stroke-width="0.22" >40</text>
<line x1="387.9" y1="76.36" x2="391.3" y2="76.36" stroke="#4a4a4a" stroke-width="1" />
<text x="387.4" y="79.44" font-size="8.8" text-anchor="end" fill="#111" stroke="#111" stroke-width="0.22" >80</text>
<line x1="387.9" y1="34.04" x2="391.3" y2="34.04" stroke="#4a4a4a" stroke-width="1" />
<text x="387.4" y="37.12" font-size="8.8" text-anchor="end" fill="#111" stroke="#111" stroke-width="0.22" >120</text>
<line x1="390.8" y1="161" x2="730" y2="161" stroke="#4a4a4a" stroke-width="1" />
<line x1="412.55" y1="161" x2="412.55" y2="164.2" stroke="#4a4a4a" stroke-width="1" />
<line x1="455.15" y1="161" x2="455.15" y2="164.2" stroke="#4a4a4a" stroke-width="1" />
<line x1="498.05" y1="161" x2="498.05" y2="164.2" stroke="#4a4a4a" stroke-width="1" />
<line x1="540.25" y1="161" x2="540.25" y2="164.2" stroke="#4a4a4a" stroke-width="1" />
<line x1="582.15" y1="161" x2="582.15" y2="164.2" stroke="#4a4a4a" stroke-width="1" />
<line x1="624.65" y1="161" x2="624.65" y2="164.2" stroke="#4a4a4a" stroke-width="1" />
<line x1="667.15" y1="161" x2="667.15" y2="164.2" stroke="#4a4a4a" stroke-width="1" />
<line x1="709.15" y1="161" x2="709.15" y2="164.2" stroke="#4a4a4a" stroke-width="1" />
<rect x="398.7" y="143.01" width="27.7" height="17.99" fill="#e8d0d0" stroke="#555" stroke-width="0.9" />
<rect x="398.7" y="139.31" width="27.7" height="3.7" fill="#f8c891" stroke="#555" stroke-width="0.9" />
<rect x="398.7" y="55.2" width="27.7" height="84.11" fill="#c6ecdc" stroke="#555" stroke-width="0.9" />
<line x1="412.55" y1="55.2" x2="412.55" y2="52.03" stroke="#555" stroke-width="1" />
<line x1="405.65" y1="52.03" x2="419.45" y2="52.03" stroke="#555" stroke-width="1" />
<line x1="412.55" y1="139.31" x2="412.55" y2="137.41" stroke="#666" stroke-width="1" />
<line x1="407.05" y1="137.41" x2="418.05" y2="137.41" stroke="#666" stroke-width="1" />
<line x1="412.55" y1="143.01" x2="412.55" y2="141.43" stroke="#666" stroke-width="1" />
<line x1="407.05" y1="141.43" x2="418.05" y2="141.43" stroke="#666" stroke-width="1" />
<rect x="441.3" y="140.37" width="27.7" height="20.63" fill="#e8d0d0" stroke="#555" stroke-width="0.9" />
<rect x="441.3" y="136.67" width="27.7" height="3.7" fill="#f8c891" stroke="#555" stroke-width="0.9" />
<rect x="441.3" y="55.2" width="27.7" height="81.47" fill="#c6ecdc" stroke="#555" stroke-width="0.9" />
<line x1="455.15" y1="55.2" x2="455.15" y2="53.61" stroke="#555" stroke-width="1" />
<line x1="448.25" y1="53.61" x2="462.05" y2="53.61" stroke="#555" stroke-width="1" />
<line x1="455.15" y1="136.67" x2="455.15" y2="134.76" stroke="#666" stroke-width="1" />
<line x1="449.65" y1="134.76" x2="460.65" y2="134.76" stroke="#666" stroke-width="1" />
<line x1="455.15" y1="140.37" x2="455.15" y2="138.78" stroke="#666" stroke-width="1" />
<line x1="449.65" y1="138.78" x2="460.65" y2="138.78" stroke="#666" stroke-width="1" />
<rect x="484.2" y="126.09" width="27.7" height="34.91" fill="#e8d0d0" stroke="#555" stroke-width="0.9" />
<rect x="484.2" y="118.15" width="27.7" height="7.94" fill="#f8c891" stroke="#555" stroke-width="0.9" />
<rect x="484.2" y="55.2" width="27.7" height="62.95" fill="#c6ecdc" stroke="#555" stroke-width="0.9" />
<line x1="498.05" y1="55.2" x2="498.05" y2="52.03" stroke="#555" stroke-width="1" />
<line x1="491.15" y1="52.03" x2="504.95" y2="52.03" stroke="#555" stroke-width="1" />
<line x1="498.05" y1="118.15" x2="498.05" y2="116.25" stroke="#666" stroke-width="1" />
<line x1="492.55" y1="116.25" x2="503.55" y2="116.25" stroke="#666" stroke-width="1" />
<line x1="498.05" y1="126.09" x2="498.05" y2="124.5" stroke="#666" stroke-width="1" />
<line x1="492.55" y1="124.5" x2="503.55" y2="124.5" stroke="#666" stroke-width="1" />
<rect x="526.4" y="138.78" width="27.7" height="22.22" fill="#e8d0d0" stroke="#555" stroke-width="0.9" />
<rect x="526.4" y="131.38" width="27.7" height="7.41" fill="#f8c891" stroke="#555" stroke-width="0.9" />
<rect x="526.4" y="55.2" width="27.7" height="76.18" fill="#c6ecdc" stroke="#555" stroke-width="0.9" />
<line x1="540.25" y1="55.2" x2="540.25" y2="53.61" stroke="#555" stroke-width="1" />
<line x1="533.35" y1="53.61" x2="547.15" y2="53.61" stroke="#555" stroke-width="1" />
<line x1="540.25" y1="131.38" x2="540.25" y2="129.47" stroke="#666" stroke-width="1" />
<line x1="534.75" y1="129.47" x2="545.75" y2="129.47" stroke="#666" stroke-width="1" />
<line x1="540.25" y1="138.78" x2="540.25" y2="137.19" stroke="#666" stroke-width="1" />
<line x1="534.75" y1="137.19" x2="545.75" y2="137.19" stroke="#666" stroke-width="1" />
<rect x="568.3" y="139.31" width="27.7" height="21.69" fill="#e8d0d0" stroke="#555" stroke-width="0.9" />
<rect x="568.3" y="133.07" width="27.7" height="6.24" fill="#f8c891" stroke="#555" stroke-width="0.9" />
<rect x="568.3" y="55.2" width="27.7" height="77.87" fill="#c6ecdc" stroke="#555" stroke-width="0.9" />
<line x1="582.15" y1="55.2" x2="582.15" y2="53.08" stroke="#555" stroke-width="1" />
<line x1="575.25" y1="53.08" x2="589.05" y2="53.08" stroke="#555" stroke-width="1" />
<line x1="582.15" y1="133.07" x2="582.15" y2="131.16" stroke="#666" stroke-width="1" />
<line x1="576.65" y1="131.16" x2="587.65" y2="131.16" stroke="#666" stroke-width="1" />
<line x1="582.15" y1="139.31" x2="582.15" y2="137.72" stroke="#666" stroke-width="1" />
<line x1="576.65" y1="137.72" x2="587.65" y2="137.72" stroke="#666" stroke-width="1" />
<rect x="610.8" y="137.51" width="27.7" height="23.49" fill="#e8d0d0" stroke="#555" stroke-width="0.9" />
<rect x="610.8" y="131.38" width="27.7" height="6.14" fill="#f8c891" stroke="#555" stroke-width="0.9" />
<rect x="610.8" y="55.2" width="27.7" height="76.18" fill="#c6ecdc" stroke="#555" stroke-width="0.9" />
<line x1="624.65" y1="55.2" x2="624.65" y2="53.61" stroke="#555" stroke-width="1" />
<line x1="617.75" y1="53.61" x2="631.55" y2="53.61" stroke="#555" stroke-width="1" />
<line x1="624.65" y1="131.38" x2="624.65" y2="129.47" stroke="#666" stroke-width="1" />
<line x1="619.15" y1="129.47" x2="630.15" y2="129.47" stroke="#666" stroke-width="1" />
<line x1="624.65" y1="137.51" x2="624.65" y2="135.93" stroke="#666" stroke-width="1" />
<line x1="619.15" y1="135.93" x2="630.15" y2="135.93" stroke="#666" stroke-width="1" />
<rect x="653.3" y="119.95" width="27.7" height="41.05" fill="#e8d0d0" stroke="#555" stroke-width="0.9" />
<rect x="653.3" y="112.97" width="27.7" height="6.98" fill="#f8c891" stroke="#555" stroke-width="0.9" />
<rect x="653.3" y="55.2" width="27.7" height="57.77" fill="#c6ecdc" stroke="#555" stroke-width="0.9" />
<line x1="667.15" y1="55.2" x2="667.15" y2="51.5" stroke="#555" stroke-width="1" />
<line x1="660.25" y1="51.5" x2="674.05" y2="51.5" stroke="#555" stroke-width="1" />
<line x1="667.15" y1="112.97" x2="667.15" y2="111.06" stroke="#666" stroke-width="1" />
<line x1="661.65" y1="111.06" x2="672.65" y2="111.06" stroke="#666" stroke-width="1" />
<line x1="667.15" y1="119.95" x2="667.15" y2="118.36" stroke="#666" stroke-width="1" />
<line x1="661.65" y1="118.36" x2="672.65" y2="118.36" stroke="#666" stroke-width="1" />
<rect x="695.3" y="129.15" width="27.7" height="31.85" fill="#e8d0d0" stroke="#555" stroke-width="0.9" />
<rect x="695.3" y="123.97" width="27.7" height="5.18" fill="#f8c891" stroke="#555" stroke-width="0.9" />
<rect x="695.3" y="55.2" width="27.7" height="68.77" fill="#c6ecdc" stroke="#555" stroke-width="0.9" />
<line x1="709.15" y1="55.2" x2="709.15" y2="52.55" stroke="#555" stroke-width="1" />
<line x1="702.25" y1="52.55" x2="716.05" y2="52.55" stroke="#555" stroke-width="1" />
<line x1="709.15" y1="123.97" x2="709.15" y2="122.07" stroke="#666" stroke-width="1" />
<line x1="703.65" y1="122.07" x2="714.65" y2="122.07" stroke="#666" stroke-width="1" />
<line x1="709.15" y1="129.15" x2="709.15" y2="127.57" stroke="#666" stroke-width="1" />
<line x1="703.65" y1="127.57" x2="714.65" y2="127.57" stroke="#666" stroke-width="1" />
<path d="M491.3,58.4L491.3,62.6M489.48,59.45L493.12,61.55M493.12,59.45L489.48,61.55M495.8,58.4L495.8,62.6M493.98,59.45L497.62,61.55M497.62,59.45L493.98,61.55M500.3,58.4L500.3,62.6M498.48,59.45L502.12,61.55M502.12,59.45L498.48,61.55M504.8,58.4L504.8,62.6M502.98,59.45L506.62,61.55M506.62,59.45L502.98,61.55" stroke="#111" stroke-width="1.15" stroke-linecap="butt" fill="none"/>
<path d="M540.25,58.4L540.25,62.6M538.43,59.45L542.07,61.55M542.07,59.45L538.43,61.55" stroke="#111" stroke-width="1.15" stroke-linecap="butt" fill="none"/>
<path d="M660.4,58.4L660.4,62.6M658.58,59.45L662.22,61.55M662.22,59.45L658.58,61.55M664.9,58.4L664.9,62.6M663.08,59.45L666.72,61.55M666.72,59.45L663.08,61.55M669.4,58.4L669.4,62.6M667.58,59.45L671.22,61.55M671.22,59.45L667.58,61.55M673.9,58.4L673.9,62.6M672.08,59.45L675.72,61.55M675.72,59.45L672.08,61.55" stroke="#111" stroke-width="1.15" stroke-linecap="butt" fill="none"/>
<path d="M702.4,58.4L702.4,62.6M700.58,59.45L704.22,61.55M704.22,59.45L700.58,61.55M706.9,58.4L706.9,62.6M705.08,59.45L708.72,61.55M708.72,59.45L705.08,61.55M711.4,58.4L711.4,62.6M709.58,59.45L713.22,61.55M713.22,59.45L709.58,61.55M715.9,58.4L715.9,62.6M714.08,59.45L717.72,61.55M717.72,59.45L714.08,61.55" stroke="#111" stroke-width="1.15" stroke-linecap="butt" fill="none"/>
<path d="M493.55,130.2L493.55,134.4M491.73,131.25L495.37,133.35M495.37,131.25L491.73,133.35M498.05,130.2L498.05,134.4M496.23,131.25L499.87,133.35M499.87,131.25L496.23,133.35M502.55,130.2L502.55,134.4M500.73,131.25L504.37,133.35M504.37,131.25L500.73,133.35" stroke="#111" stroke-width="1.15" stroke-linecap="butt" fill="none"/>
<path d="M662.65,120.9L662.65,125.1M660.83,121.95L664.47,124.05M664.47,121.95L660.83,124.05M667.15,120.9L667.15,125.1M665.33,121.95L668.97,124.05M668.97,121.95L665.33,124.05M671.65,120.9L671.65,125.1M669.83,121.95L673.47,124.05M673.47,121.95L669.83,124.05" stroke="#111" stroke-width="1.15" stroke-linecap="butt" fill="none"/>
<path d="M704.65,131.2L704.65,135.4M702.83,132.25L706.47,134.35M706.47,132.25L702.83,134.35M709.15,131.2L709.15,135.4M707.33,132.25L710.97,134.35M710.97,132.25L707.33,134.35M713.65,131.2L713.65,135.4M711.83,132.25L715.47,134.35M715.47,132.25L711.83,134.35" stroke="#111" stroke-width="1.15" stroke-linecap="butt" fill="none"/>
<line x1="499.9" y1="43.7" x2="541" y2="43.7" stroke="#c8383a" stroke-width="1.1" />
<path d="M515,38.9L515,42.1M513.61,39.7L516.39,41.3M516.39,39.7L513.61,41.3M519.5,38.9L519.5,42.1M518.11,39.7L520.89,41.3M520.89,39.7L518.11,41.3M524,38.9L524,42.1M522.61,39.7L525.39,41.3M525.39,39.7L522.61,41.3" stroke="#c0282a" stroke-width="1.1" stroke-linecap="butt" fill="none"/>
<line x1="668" y1="35.4" x2="709.5" y2="35.4" stroke="#4a8cad" stroke-width="1.1" />
<path d="M684.2,30.9L684.2,34.1M682.81,31.7L685.59,33.3M685.59,31.7L682.81,33.3M688.7,30.9L688.7,34.1M687.31,31.7L690.09,33.3M690.09,31.7L687.31,33.3M693.2,30.9L693.2,34.1M691.81,31.7L694.59,33.3M694.59,31.7L691.81,33.3" stroke="#2b6f95" stroke-width="1.1" stroke-linecap="butt" fill="none"/>
<line x1="668" y1="43.3" x2="709.5" y2="43.3" stroke="#c8383a" stroke-width="1.1" />
<path d="M686.45,38.9L686.45,42.1M685.06,39.7L687.84,41.3M687.84,39.7L685.06,41.3M690.95,38.9L690.95,42.1M689.56,39.7L692.34,41.3M692.34,39.7L689.56,41.3" stroke="#c0282a" stroke-width="1.1" stroke-linecap="butt" fill="none"/>
<text x="397.15" y="173.4" font-size="9" fill="#111" stroke="#111" stroke-width="0.22" >RAW</text>
<text x="418.15" y="169.6" font-size="6.3" fill="#111" stroke="#111" stroke-width="0.22" >WT</text>
<text x="435.46" y="173.4" font-size="9" fill="#111" stroke="#111" stroke-width="0.22" >RAW</text>
<text x="456.46" y="169.6" font-size="6.3" fill="#111" stroke="#111" stroke-width="0.22" >Cx43+</text>
<text x="482.65" y="173.4" font-size="9" fill="#111" stroke="#111" stroke-width="0.22" >RAW</text>
<text x="503.65" y="169.6" font-size="6.3" fill="#111" stroke="#111" stroke-width="0.22" >WT</text>
<text x="520.56" y="173.4" font-size="9" fill="#111" stroke="#111" stroke-width="0.22" >RAW</text>
<text x="541.56" y="169.6" font-size="6.3" fill="#111" stroke="#111" stroke-width="0.22" >Cx43+</text>
<text x="566.75" y="173.4" font-size="9" fill="#111" stroke="#111" stroke-width="0.22" >RAW</text>
<text x="587.75" y="169.6" font-size="6.3" fill="#111" stroke="#111" stroke-width="0.22" >WT</text>
<text x="604.96" y="173.4" font-size="9" fill="#111" stroke="#111" stroke-width="0.22" >RAW</text>
<text x="625.96" y="169.6" font-size="6.3" fill="#111" stroke="#111" stroke-width="0.22" >Cx43+</text>
<text x="651.75" y="173.4" font-size="9" fill="#111" stroke="#111" stroke-width="0.22" >RAW</text>
<text x="672.75" y="169.6" font-size="6.3" fill="#111" stroke="#111" stroke-width="0.22" >WT</text>
<text x="689.46" y="173.4" font-size="9" fill="#111" stroke="#111" stroke-width="0.22" >RAW</text>
<text x="710.46" y="169.6" font-size="6.3" fill="#111" stroke="#111" stroke-width="0.22" >Cx43+</text>
<line x1="405.5" y1="178.6" x2="460.2" y2="178.6" stroke="#333" stroke-width="0.9" />
<text x="432.85" y="191.2" font-size="10.6" text-anchor="middle" fill="#111" stroke="#111" stroke-width="0.22" >Ct</text>
<line x1="489.5" y1="178.6" x2="545" y2="178.6" stroke="#333" stroke-width="0.9" />
<text x="519.25" y="191.2" font-size="10.6" text-anchor="middle" fill="#111" stroke="#111" stroke-width="0.22" ><tspan font-style="italic">Ca</tspan></text>
<line x1="572.8" y1="178.6" x2="625.3" y2="178.6" stroke="#333" stroke-width="0.9" />
<text x="599.05" y="191.2" font-size="10.6" text-anchor="middle" fill="#111" stroke="#111" stroke-width="0.22" >BAPTA</text>
<line x1="659.4" y1="178.6" x2="713.2" y2="178.6" stroke="#333" stroke-width="0.9" />
<text x="686.3" y="191.2" font-size="10.6" text-anchor="middle" fill="#111" stroke="#111" stroke-width="0.22" ><tspan font-style="italic">Ca</tspan>+BAPTA</text>
<text x="372" y="97.5" font-size="9.7" text-anchor="middle" fill="#111" transform="rotate(-90 372 97.5)" stroke="#111" stroke-width="0.22" >Number of cells (%)</text>
<rect x="402" y="204.6" width="13.6" height="5" fill="#e8d0d0" stroke="#555" stroke-width="0.8" />
<text x="423.3" y="210.3" font-size="9.3" fill="#111" stroke="#111" stroke-width="0.22" >Necrosis</text>
<rect x="476.6" y="204.6" width="13.6" height="5" fill="#f8c891" stroke="#555" stroke-width="0.8" />
<text x="497.3" y="210.3" font-size="9.3" fill="#111" stroke="#111" stroke-width="0.22" >Late and early apoptosis</text>
<rect x="616" y="204.6" width="14.5" height="5" fill="#c6ecdc" stroke="#555" stroke-width="0.8" />
<text x="637.6" y="210.3" font-size="9.3" fill="#111" stroke="#111" stroke-width="0.22" >Live</text>
<text x="-1" y="233.8" font-size="24" font-weight="bold" fill="#000" >e</text>
<rect x="10.7" y="247.2" width="229.3" height="15.7" fill="#000" />
<text x="24.9" y="259.8" font-size="12.5" fill="#dc3a72" >Phalloidin</text>
<text x="108.6" y="259.8" font-size="12.5" fill="#a6c53a" >Cx43</text>
<text x="163.3" y="259.8" font-size="12.5" fill="#c9b9bb" font-style="italic" >C. albicans</text>
<svg x="11" y="266.5" width="113.2" height="111" viewBox="11 266.5 113.2 111" overflow="hidden">
<rect x="11" y="266.5" width="113.2" height="111" fill="#000" />
<mask id="cpe1" maskUnits="userSpaceOnUse" x="11" y="266.5" width="113.2" height="111"><path d="M11,329 L35,318 L55,309 L66,304 L76,297 L86,296 L91,306 L87,320 L82,336 L77,350 L78,364 L73,378 L11,378Z" fill="#fff" filter="url(#bl15)"/></mask>
<path d="M11,329 L35,318 L55,309 L66,304 L76,297 L86,296 L91,306 L87,320 L82,336 L77,350 L78,364 L73,378 L11,378Z" fill="#a81c5a" filter="url(#bl2)"/>
<mask id="mke1" maskUnits="userSpaceOnUse" x="11" y="266.5" width="113.2" height="111"><rect x="11" y="266.5" width="113.2" height="111" fill="url(#gdark)"/></mask>
<g mask="url(#cpe1)"><g mask="url(#mke1)"><rect x="11" y="266.5" width="113.2" height="111" filter="url(#darke1)"/></g></g>
<g mask="url(#cpe1)"><path d="M11,329 L35,318 L55,309 L66,304 L76,297 L86,296 L91,306 L87,320 L82,336 L77,350 L78,364 L73,378" fill="none" stroke="#ff3d8e" stroke-width="12" stroke-linejoin="round" filter="url(#bl3)"/></g>
<path d="M11,329 L35,318 L55,309 L66,304 L76,297 L86,296 L91,306 L87,320 L82,336 L77,350 L78,364 L73,378" fill="none" stroke="#e83080" stroke-width="3" stroke-linejoin="round" filter="url(#bl15)" opacity="0.8"/>
<g mask="url(#cpe1)"><ellipse cx="57" cy="329" rx="8" ry="10" fill="#f6a27e" opacity="0.75" filter="url(#bl3)"/></g>
<g mask="url(#cpe1)"><rect x="11" y="266.5" width="113.2" height="111" filter="url(#greene1)"/></g>
<path d="M69.8,296.7 L73.7,287.8 L79.6,283.9 L87.5,281.9 L93.4,283.9 L96.3,289.8 L95.4,294.7 L92.4,298.6 L90.4,304.5 L88.5,312.4 L85.5,317.3 L81.6,320.3 L77.6,324.2 L73.7,328.1 L69.8,326.2 L66.8,322.2 L64.8,316.3 L66.8,309.4 L68.8,304.5Z" fill="url(#gfun)" filter="url(#bl05)"/>
<path d="M53.2,338.3 L60.8,339.6 L62.1,346 L58.3,353.7 L54.5,358.8 L48.1,362.6 L44.2,366.5 L41.7,372.8 L39.1,378 L34,378 L35.3,369 L40.4,361.3 L44.2,356.2 L45.5,351.1 L48.1,343.4Z" fill="url(#gfun)" filter="url(#bl05)"/>
<path d="M26,343 L33,341.5 L37,345 L35,349 L28,349.5Z" fill="#b8b0b1" filter="url(#bl05)"/>
<clipPath id="fcl"><path d="M69.8,296.7 L73.7,287.8 L79.6,283.9 L87.5,281.9 L93.4,283.9 L96.3,289.8 L95.4,294.7 L92.4,298.6 L90.4,304.5 L88.5,312.4 L85.5,317.3 L81.6,320.3 L77.6,324.2 L73.7,328.1 L69.8,326.2 L66.8,322.2 L64.8,316.3 L66.8,309.4 L68.8,304.5Z M53.2,338.3 L60.8,339.6 L62.1,346 L58.3,353.7 L54.5,358.8 L48.1,362.6 L44.2,366.5 L41.7,372.8 L39.1,378 L34,378 L35.3,369 L40.4,361.3 L44.2,356.2 L45.5,351.1 L48.1,343.4Z"/></clipPath>
<g clip-path="url(#fcl)"><rect x="11" y="266" width="113" height="112" filter="url(#funtex)"/>
</g>
<path d="M11,373 L20,372 L24,375 L24,378 L11,378Z" fill="#b8b0b1" filter="url(#bl05)"/>
<ellipse cx="75.5" cy="287" rx="2.6" ry="2.2" fill="#8cc63f" filter="url(#bl03)"/>
<ellipse cx="96.5" cy="294" rx="1.2" ry="1" fill="#8cc63f"/>
<line x1="46.3" y1="291.9" x2="48.2" y2="296.3" stroke="#fff" stroke-width="1.2" />
<path d="M45.1,298.5 L52.5,295.6 L51.7,304.7Z" fill="#fff" />
<line x1="103.7" y1="369.5" x2="121.2" y2="369.5" stroke="#cfcfcf" stroke-width="1.5" />
</svg>
<svg x="126.4" y="266.5" width="113.7" height="111" viewBox="126.4 266.5 113.7 111" overflow="hidden">
<rect x="126.4" y="266.5" width="113.7" height="111" fill="#000" />
<mask id="cpe2" maskUnits="userSpaceOnUse" x="126.4" y="266.5" width="113.7" height="111"><path d="M126.4,329 L150.4,318 L167.4,310 L177.4,305 L185.4,298 L189.4,288 L195.4,283 L201.4,288 L200.4,298 L195.4,310 L190.4,324 L187.4,340 L185.4,356 L188.4,368 L185.4,378 L126.4,378Z" fill="#fff" filter="url(#bl15)"/></mask>
<path d="M126.4,329 L150.4,318 L167.4,310 L177.4,305 L185.4,298 L189.4,288 L195.4,283 L201.4,288 L200.4,298 L195.4,310 L190.4,324 L187.4,340 L185.4,356 L188.4,368 L185.4,378 L126.4,378Z" fill="#a81c5a" filter="url(#bl2)"/>
<mask id="mke2" maskUnits="userSpaceOnUse" x="126.4" y="266.5" width="113.7" height="111"><rect x="126.4" y="266.5" width="113.7" height="111" fill="url(#gdark)"/></mask>
<g mask="url(#cpe2)"><g mask="url(#mke2)"><rect x="126.4" y="266.5" width="113.7" height="111" filter="url(#darke2)"/></g></g>
<g mask="url(#cpe2)"><path d="M126.4,329 L150.4,318 L167.4,310 L177.4,305 L185.4,298 L189.4,288 L195.4,283 L201.4,288 L200.4,298 L195.4,310 L190.4,324 L187.4,340 L185.4,356 L188.4,368 L185.4,378" fill="none" stroke="#ff3d8e" stroke-width="12" stroke-linejoin="round" filter="url(#bl3)"/></g>
<path d="M126.4,329 L150.4,318 L167.4,310 L177.4,305 L185.4,298 L189.4,288 L195.4,283 L201.4,288 L200.4,298 L195.4,310 L190.4,324 L187.4,340 L185.4,356 L188.4,368 L185.4,378" fill="none" stroke="#e83080" stroke-width="3" stroke-linejoin="round" filter="url(#bl15)" opacity="0.8"/>
<g mask="url(#cpe2)"><ellipse cx="172.4" cy="329" rx="8" ry="10" fill="#f6a27e" opacity="0.75" filter="url(#bl3)"/></g>
<g mask="url(#cpe2)"><rect x="126.4" y="266.5" width="113.7" height="111" filter="url(#greene2)"/></g>
<path d="M189,284 L193,281.5 L197,283 L198,288 L196,294 L191,297 L188,292Z" fill="#98cc3c" filter="url(#bl03)"/>
<ellipse cx="204" cy="292" rx="2.8" ry="1.5" fill="#8cc63f"/>
<ellipse cx="198" cy="302" rx="3" ry="1.6" fill="#8cc63f"/>
<ellipse cx="200" cy="308" rx="2.4" ry="1.3" fill="#8cc63f"/>
<line x1="161.7" y1="291.9" x2="163.6" y2="296.3" stroke="#fff" stroke-width="1.2" />
<path d="M160.5,298.5 L167.9,295.6 L167.1,304.7Z" fill="#fff" />
<line x1="219.6" y1="369.5" x2="237.1" y2="369.5" stroke="#cfcfcf" stroke-width="1.5" />
</svg>
<text x="255.5" y="233.7" font-size="24" font-weight="bold" fill="#000" >f</text>
<rect x="276.8" y="247" width="110.6" height="15.2" fill="#000" />
<text x="332.1" y="259.2" font-size="12.3" text-anchor="middle" fill="#80cc3c" >Cx43</text>
<rect x="391.6" y="247" width="110.6" height="15.2" fill="#000" />
<text x="446.9" y="259.2" font-size="12.3" text-anchor="middle" fill="#fff" >Arp2</text>
<rect x="506.3" y="247" width="110.6" height="15.2" fill="#000" />
<text x="561.6" y="259.2" font-size="12.3" text-anchor="middle" fill="#ee1c24" >Phalloidin</text>
<rect x="621" y="247" width="111" height="15.2" fill="#000" />
<text x="676.3" y="259.2" font-size="12.3" text-anchor="middle" fill="#fff" >Merge</text>
<svg x="276.8" y="266.8" width="110.6" height="110.4" viewBox="276.8 266.8 110.6 110.4" overflow="hidden">
<rect x="276.8" y="266.8" width="110.6" height="110.4" fill="#000" />
<circle cx="305.6" cy="353.66" r="0.52" fill="#ddd"/>
<circle cx="322.99" cy="344.6" r="0.58" fill="#ddd"/>
<circle cx="307.49" cy="358.08" r="0.38" fill="#888"/>
<circle cx="329.39" cy="346.04" r="0.39" fill="#fff"/>
<circle cx="318.19" cy="334.15" r="0.57" fill="#fff"/>
<circle cx="321.16" cy="326.98" r="0.66" fill="#fff"/>
<circle cx="328.87" cy="333.99" r="0.47" fill="#fff"/>
<circle cx="331.88" cy="350.48" r="0.48" fill="#ddd"/>
<circle cx="300.76" cy="338.14" r="0.68" fill="#ddd"/>
<circle cx="317.91" cy="328.98" r="0.41" fill="#aaa"/>
<circle cx="305.23" cy="359.15" r="0.64" fill="#ddd"/>
<circle cx="316.27" cy="347.74" r="0.47" fill="#aaa"/>
<circle cx="312.19" cy="344.84" r="0.63" fill="#aaa"/>
<circle cx="331.54" cy="334.1" r="0.67" fill="#888"/>
<circle cx="328.37" cy="332.97" r="0.73" fill="#fff"/>
<circle cx="327.43" cy="356.8" r="0.55" fill="#fff"/>
<circle cx="320.99" cy="355.38" r="0.53" fill="#aaa"/>
<circle cx="304.03" cy="344.48" r="0.74" fill="#aaa"/>
<circle cx="330.1" cy="332.65" r="0.43" fill="#ddd"/>
<circle cx="333.66" cy="362.17" r="0.33" fill="#aaa"/>
<circle cx="314.66" cy="339.7" r="0.74" fill="#aaa"/>
<circle cx="316.2" cy="340.59" r="0.33" fill="#888"/>
<circle cx="317.85" cy="345.14" r="0.35" fill="#fff"/>
<circle cx="319.87" cy="356.17" r="0.59" fill="#888"/>
<circle cx="307.72" cy="350.18" r="0.53" fill="#fff"/>
<circle cx="320.09" cy="350.77" r="0.61" fill="#888"/>
<circle cx="306.19" cy="331.31" r="0.51" fill="#888"/>
<circle cx="312.38" cy="363.86" r="0.69" fill="#fff"/>
<circle cx="312.32" cy="349.68" r="0.4" fill="#fff"/>
<circle cx="310.84" cy="328.44" r="0.6" fill="#fff"/>
<circle cx="328.25" cy="340.12" r="0.41" fill="#888"/>
<circle cx="324.78" cy="353.06" r="0.63" fill="#888"/>
<circle cx="332.18" cy="345.11" r="0.66" fill="#888"/>
<circle cx="313.4" cy="334.63" r="0.47" fill="#888"/>
<circle cx="331.92" cy="330.98" r="0.4" fill="#fff"/>
<circle cx="328.13" cy="344.78" r="0.32" fill="#ddd"/>
<circle cx="330.47" cy="326.24" r="0.52" fill="#ddd"/>
<circle cx="309.05" cy="336.46" r="0.65" fill="#aaa"/>
<circle cx="315.02" cy="331.34" r="0.41" fill="#888"/>
<circle cx="302.07" cy="338.54" r="0.47" fill="#888"/>
<circle cx="327.1" cy="344.6" r="0.67" fill="#fff"/>
<circle cx="308.83" cy="365.23" r="0.37" fill="#ddd"/>
<circle cx="318.95" cy="355.33" r="0.44" fill="#888"/>
<circle cx="300.55" cy="333.12" r="0.62" fill="#fff"/>
<circle cx="330.52" cy="358.19" r="0.55" fill="#fff"/>
<circle cx="332.11" cy="349.86" r="0.54" fill="#888"/>
<circle cx="315.27" cy="348.99" r="0.63" fill="#888"/>
<circle cx="330.93" cy="337.24" r="0.74" fill="#ddd"/>
<circle cx="319.27" cy="335.87" r="0.62" fill="#ddd"/>
<circle cx="327.93" cy="324.44" r="0.61" fill="#aaa"/>
<circle cx="324.86" cy="365.02" r="0.59" fill="#ddd"/>
<circle cx="300.37" cy="349.53" r="0.42" fill="#fff"/>
<circle cx="323.32" cy="360.62" r="0.44" fill="#aaa"/>
<circle cx="321.12" cy="335.06" r="0.73" fill="#ddd"/>
<circle cx="314.51" cy="365.22" r="0.7" fill="#ddd"/>
<circle cx="333.01" cy="329.74" r="0.41" fill="#aaa"/>
<circle cx="300.44" cy="343.21" r="0.62" fill="#ddd"/>
<circle cx="304.71" cy="361.3" r="0.72" fill="#888"/>
<circle cx="323.75" cy="329.44" r="0.48" fill="#888"/>
<circle cx="319.43" cy="337.94" r="0.58" fill="#aaa"/>
<circle cx="343.59" cy="305.41" r="0.42" fill="#fff"/>
<circle cx="311.6" cy="335.66" r="0.59" fill="#fff"/>
<circle cx="302.85" cy="349" r="0.47" fill="#888"/>
<circle cx="356.83" cy="292.19" r="0.33" fill="#888"/>
<circle cx="307.14" cy="335.41" r="0.58" fill="#888"/>
<circle cx="320.99" cy="352.9" r="0.44" fill="#888"/>
<circle cx="316.81" cy="331.31" r="0.35" fill="#888"/>
<circle cx="332.61" cy="352.01" r="0.31" fill="#fff"/>
<circle cx="349.49" cy="305.26" r="0.54" fill="#fff"/>
<circle cx="324.76" cy="329.39" r="0.39" fill="#aaa"/>
<circle cx="331.65" cy="344.27" r="0.35" fill="#aaa"/>
<circle cx="321.33" cy="349.37" r="0.35" fill="#fff"/>
<circle cx="307.39" cy="362.91" r="0.32" fill="#fff"/>
<circle cx="320.03" cy="358.92" r="0.56" fill="#888"/>
<circle cx="320.01" cy="325.69" r="0.58" fill="#888"/>
<ellipse cx="312" cy="344" rx="2.4" ry="2.1" fill="#fff" filter="url(#bl03)"/>
<circle cx="352.5" cy="294" r="0.8" fill="#bbb"/>
<circle cx="364.5" cy="287" r="0.5" fill="#777"/>
<rect x="276.8" y="266.8" width="44.8" height="44.6" fill="#000" />
<svg x="276.8" y="266.8" width="44.8" height="44.6" viewBox="0 0 44.8 44.6" overflow="hidden">
<path d="M1,37 L29,0" stroke="#555" stroke-width="8" stroke-linecap="round" fill="none" filter="url(#bl08)"/>
<g filter="url(#bl08)">
<circle cx="1.97" cy="34.87" r="1.92" fill="#bbb"/>
<circle cx="3.71" cy="32.43" r="1.9" fill="#aaa"/>
<circle cx="6.65" cy="30.59" r="2.18" fill="#888"/>
<circle cx="8.06" cy="27.81" r="2.14" fill="#777"/>
<circle cx="9.54" cy="25.31" r="1.65" fill="#aaa"/>
<circle cx="12.35" cy="22.31" r="2.34" fill="#888"/>
<circle cx="13.75" cy="19.09" r="2.06" fill="#888"/>
<circle cx="15.91" cy="16.56" r="2.49" fill="#bbb"/>
<circle cx="17.47" cy="15.47" r="1.71" fill="#777"/>
<circle cx="19.61" cy="12.29" r="2.24" fill="#bbb"/>
<circle cx="22.04" cy="10.34" r="2.41" fill="#888"/>
<circle cx="23.55" cy="6.75" r="1.61" fill="#777"/>
<circle cx="25.51" cy="5.29" r="2.41" fill="#aaa"/>
<circle cx="29.18" cy="0.29" r="1.74" fill="#777"/>
</g>
<path d="M19.5,45 L44,8.5" stroke="#555" stroke-width="4.5" stroke-linecap="round" fill="none" filter="url(#bl08)"/>
<g filter="url(#bl08)">
<circle cx="20.74" cy="43.89" r="1.5" fill="#888"/>
<circle cx="21.62" cy="40.72" r="1.29" fill="#bbb"/>
<circle cx="22.23" cy="39.78" r="1.23" fill="#999"/>
<circle cx="24.8" cy="37.45" r="1.55" fill="#bbb"/>
<circle cx="26.66" cy="35.37" r="1.43" fill="#888"/>
<circle cx="27.51" cy="32.09" r="1.39" fill="#bbb"/>
<circle cx="29.6" cy="28.97" r="1.36" fill="#888"/>
<circle cx="29.93" cy="28.21" r="1.28" fill="#bbb"/>
<circle cx="32.54" cy="25.38" r="1.8" fill="#888"/>
<circle cx="34.19" cy="24.07" r="1.82" fill="#999"/>
<circle cx="35.61" cy="21.02" r="1.84" fill="#bbb"/>
<circle cx="37.45" cy="19.43" r="1.34" fill="#bbb"/>
<circle cx="38.34" cy="16.02" r="1.65" fill="#999"/>
<circle cx="39.73" cy="13.58" r="1.44" fill="#999"/>
<circle cx="41.87" cy="11.42" r="1.42" fill="#bbb"/>
<circle cx="42.19" cy="10.85" r="1.45" fill="#bbb"/>
</g>
<g filter="url(#bl08)"><circle cx="7.5" cy="8.5" r="2.6" fill="#eee"/><circle cx="5" cy="4" r="2" fill="#bbb"/><circle cx="9" cy="14" r="1.8" fill="#999"/><circle cx="5" cy="27" r="2.2" fill="#aaa"/><circle cx="17" cy="3" r="2" fill="#aaa"/><circle cx="3" cy="20" r="1.8" fill="#888"/></g>
<path d="M0 15 L3.5 13.5 L7 21.5 L0 21 Z" fill="#fff"/>
<path d="M34.8 31.3 L43.6 32.6 L39.1 39 Z" fill="#fff"/>
</svg>
<rect x="277.3" y="267.3" width="43.8" height="43.6" fill="none" stroke="#d8d8d8" stroke-width="1" />
<rect x="324.8" y="325.5" width="13.2" height="13" fill="none" stroke="#cfcfcf" stroke-width="0.8" />
</svg>
<svg x="391.6" y="266.8" width="110.6" height="110.4" viewBox="391.6 266.8 110.6 110.4" overflow="hidden">
<rect x="391.6" y="266.8" width="110.6" height="110.4" fill="#000" />
<circle cx="449.75" cy="330.04" r="0.57" fill="#fff"/>
<circle cx="421.12" cy="329.19" r="0.68" fill="#fff"/>
<circle cx="438.4" cy="338.86" r="0.42" fill="#fff"/>
<circle cx="447.21" cy="333.96" r="0.4" fill="#888"/>
<circle cx="436.54" cy="364.08" r="0.68" fill="#ddd"/>
<circle cx="439.65" cy="363.73" r="0.5" fill="#888"/>
<circle cx="440.5" cy="326.08" r="0.36" fill="#aaa"/>
<circle cx="446.91" cy="349.35" r="0.42" fill="#fff"/>
<circle cx="425.8" cy="332.18" r="0.62" fill="#fff"/>
<circle cx="445.74" cy="349.06" r="0.38" fill="#aaa"/>
<circle cx="449.01" cy="357.28" r="0.43" fill="#aaa"/>
<circle cx="440.14" cy="350.33" r="0.38" fill="#aaa"/>
<circle cx="423.86" cy="365.14" r="0.54" fill="#aaa"/>
<circle cx="425.86" cy="357.59" r="0.68" fill="#888"/>
<circle cx="419.56" cy="359.48" r="0.61" fill="#ddd"/>
<circle cx="439" cy="331.96" r="0.74" fill="#ddd"/>
<circle cx="416.12" cy="346.87" r="0.52" fill="#aaa"/>
<circle cx="433.03" cy="346.24" r="0.69" fill="#fff"/>
<circle cx="429.45" cy="352.42" r="0.47" fill="#ddd"/>
<circle cx="448.21" cy="337.21" r="0.62" fill="#fff"/>
<circle cx="428.13" cy="349.05" r="0.32" fill="#888"/>
<circle cx="425.3" cy="349.61" r="0.45" fill="#fff"/>
<circle cx="434.4" cy="342.64" r="0.53" fill="#ddd"/>
<circle cx="439.21" cy="346.71" r="0.39" fill="#aaa"/>
<circle cx="427.46" cy="342.57" r="0.69" fill="#fff"/>
<circle cx="429.2" cy="363.97" r="0.54" fill="#fff"/>
<circle cx="429.12" cy="328.15" r="0.35" fill="#fff"/>
<circle cx="447.43" cy="331.37" r="0.66" fill="#fff"/>
<circle cx="434.53" cy="339.01" r="0.34" fill="#fff"/>
<circle cx="426.45" cy="339.36" r="0.71" fill="#aaa"/>
<circle cx="434.11" cy="358.22" r="0.53" fill="#aaa"/>
<circle cx="438.24" cy="332.66" r="0.71" fill="#888"/>
<circle cx="439.97" cy="326.24" r="0.56" fill="#aaa"/>
<circle cx="429.5" cy="359.61" r="0.44" fill="#fff"/>
<circle cx="448.38" cy="343.8" r="0.71" fill="#aaa"/>
<circle cx="445.62" cy="345.44" r="0.61" fill="#fff"/>
<circle cx="433.69" cy="349.14" r="0.41" fill="#fff"/>
<circle cx="431.8" cy="355.27" r="0.35" fill="#aaa"/>
<circle cx="438.1" cy="339.21" r="0.43" fill="#fff"/>
<circle cx="443.31" cy="359.25" r="0.72" fill="#fff"/>
<circle cx="436.81" cy="364.54" r="0.35" fill="#888"/>
<circle cx="414.97" cy="345.5" r="0.67" fill="#ddd"/>
<circle cx="437.78" cy="338.64" r="0.37" fill="#aaa"/>
<circle cx="420.64" cy="353.76" r="0.49" fill="#aaa"/>
<circle cx="430.37" cy="335.57" r="0.36" fill="#888"/>
<circle cx="427.33" cy="329.08" r="0.44" fill="#ddd"/>
<circle cx="422.3" cy="334.96" r="0.7" fill="#aaa"/>
<circle cx="446.35" cy="331.77" r="0.71" fill="#888"/>
<circle cx="424.53" cy="328.19" r="0.73" fill="#ddd"/>
<circle cx="431.69" cy="332.93" r="0.34" fill="#ddd"/>
<circle cx="427.03" cy="355.6" r="0.64" fill="#ddd"/>
<circle cx="448.53" cy="359.87" r="0.5" fill="#aaa"/>
<circle cx="415.72" cy="340.24" r="0.75" fill="#ddd"/>
<circle cx="421.82" cy="345.07" r="0.35" fill="#888"/>
<circle cx="428.45" cy="356.26" r="0.45" fill="#ddd"/>
<circle cx="440.87" cy="343.97" r="0.53" fill="#fff"/>
<circle cx="423.51" cy="333.92" r="0.6" fill="#ddd"/>
<circle cx="438.93" cy="330.79" r="0.47" fill="#888"/>
<circle cx="447.21" cy="351.78" r="0.5" fill="#fff"/>
<circle cx="416.4" cy="345.45" r="0.48" fill="#888"/>
<circle cx="418.16" cy="352.64" r="0.51" fill="#fff"/>
<circle cx="462.38" cy="303.93" r="0.48" fill="#aaa"/>
<circle cx="418.51" cy="359.75" r="0.54" fill="#aaa"/>
<circle cx="472.87" cy="290.92" r="0.51" fill="#fff"/>
<circle cx="429.22" cy="336.55" r="0.31" fill="#aaa"/>
<circle cx="434.23" cy="339.42" r="0.42" fill="#aaa"/>
<circle cx="432.12" cy="346.96" r="0.52" fill="#fff"/>
<circle cx="456.04" cy="310.14" r="0.57" fill="#aaa"/>
<circle cx="471.43" cy="291.14" r="0.52" fill="#888"/>
<circle cx="460.3" cy="316.32" r="0.36" fill="#aaa"/>
<circle cx="448.17" cy="321.6" r="0.36" fill="#888"/>
<circle cx="435.6" cy="349.39" r="0.4" fill="#aaa"/>
<circle cx="444.77" cy="329.32" r="0.55" fill="#fff"/>
<circle cx="424.33" cy="348.1" r="0.4" fill="#fff"/>
<circle cx="429.31" cy="332.25" r="0.36" fill="#fff"/>
<circle cx="454.98" cy="312.79" r="0.39" fill="#fff"/>
<circle cx="441.64" cy="329" r="0.58" fill="#888"/>
<circle cx="448.87" cy="358.93" r="0.55" fill="#fff"/>
<circle cx="427.08" cy="348.78" r="0.37" fill="#aaa"/>
<circle cx="447" cy="357.98" r="0.56" fill="#fff"/>
<g transform="translate(-114.7,0)" fill="none" stroke-linecap="round">
<path d="M556,338 L565,324 M561,338 L569,325" stroke="#fff" stroke-width="1.5"/>
<path d="M566,322 L572,313 L576,306 M571,321 L578,310" stroke="#ccc" stroke-width="0.9" stroke-dasharray="1.5 1.5"/>
</g>
<circle cx="480.3" cy="290" r="0.8" fill="#aaa"/>
<rect x="391.6" y="266.8" width="44.8" height="44.6" fill="#000" />
<svg x="391.6" y="266.8" width="44.8" height="44.6" viewBox="0 0 44.8 44.6" overflow="hidden">
<path d="M1.5,39 L26,1" stroke="#5a5a5a" stroke-width="5.5" stroke-linecap="round" fill="none" filter="url(#bl08)"/>
<g filter="url(#bl08)">
<circle cx="2.59" cy="37.85" r="1.8" fill="#bbb"/>
<circle cx="4.9" cy="33.5" r="2.22" fill="#bbb"/>
<circle cx="5.24" cy="33.16" r="2.25" fill="#ddd"/>
<circle cx="7.17" cy="30.8" r="1.65" fill="#ddd"/>
<circle cx="9.69" cy="26.06" r="1.8" fill="#999"/>
<circle cx="10.92" cy="24.02" r="2.14" fill="#ddd"/>
<circle cx="12.26" cy="22.34" r="1.9" fill="#999"/>
<circle cx="15.3" cy="17.27" r="1.7" fill="#888"/>
<circle cx="15.74" cy="16.57" r="2.23" fill="#888"/>
<circle cx="18.72" cy="13.06" r="2.12" fill="#ddd"/>
<circle cx="20.82" cy="9.59" r="1.91" fill="#ddd"/>
<circle cx="21.57" cy="7.91" r="2.2" fill="#bbb"/>
<circle cx="24.45" cy="4.13" r="1.6" fill="#888"/>
<circle cx="25.05" cy="2.02" r="1.42" fill="#ddd"/>
</g>
<path d="M21,43.5 L43.5,10" stroke="#5a5a5a" stroke-width="5" stroke-linecap="round" fill="none" filter="url(#bl08)"/>
<g filter="url(#bl08)">
<circle cx="22.71" cy="41.9" r="1.57" fill="#888"/>
<circle cx="23.36" cy="40.2" r="1.6" fill="#bbb"/>
<circle cx="24.41" cy="37.8" r="1.71" fill="#bbb"/>
<circle cx="26.86" cy="35.38" r="1.41" fill="#999"/>
<circle cx="28.26" cy="33.51" r="1.79" fill="#bbb"/>
<circle cx="30.39" cy="30.26" r="2" fill="#888"/>
<circle cx="31.12" cy="28.05" r="2.14" fill="#888"/>
<circle cx="32.91" cy="25" r="1.37" fill="#999"/>
<circle cx="34.57" cy="23.23" r="1.76" fill="#999"/>
<circle cx="37" cy="19.74" r="2.18" fill="#888"/>
<circle cx="37.96" cy="18" r="1.42" fill="#bbb"/>
<circle cx="40.15" cy="15.07" r="1.83" fill="#999"/>
<circle cx="41.13" cy="13.73" r="2.08" fill="#eee"/>
<circle cx="42.83" cy="11.11" r="2.16" fill="#888"/>
</g>
<g filter="url(#bl08)"><circle cx="7" cy="12" r="1.8" fill="#999"/><circle cx="4" cy="6" r="1.5" fill="#777"/></g>
<path d="M0 15 L3.5 13.5 L7 21.5 L0 21 Z" fill="#fff"/>
<path d="M34.8 31.3 L43.6 32.6 L39.1 39 Z" fill="#fff"/>
</svg>
<rect x="392.1" y="267.3" width="43.8" height="43.6" fill="none" stroke="#d8d8d8" stroke-width="1" />
<rect x="439.4" y="325.9" width="13.2" height="13" fill="none" stroke="#cfcfcf" stroke-width="0.8" />
</svg>
<svg x="506.3" y="266.8" width="110.6" height="110.4" viewBox="506.3 266.8 110.6 110.4" overflow="hidden">
<rect x="506.3" y="266.8" width="110.6" height="110.4" fill="#000" />
<g transform="translate(0,0)" fill="none" stroke-linecap="round" stroke-linejoin="round">
<path d="M552,341 L556,331 L561,323 L566,316 L572,309 L578,300 L584,291 L588,286 L591,289 L587,297 L582,306 L577,316 L572,325 L566,335 L561,345 L555,346 Z" fill="#7a7a7a" stroke="none" filter="url(#bl08)"/>
<path d="M564,305 L563,298 L566,293 L569,294 L572,292 L574,297 L571,302 L572,306 L569,310 L568,318 L566,318 L566,311 Z" fill="#6a6a6a" stroke="none" filter="url(#bl08)"/>
<path d="M554,340 L559,330 L564,323 M557,343 L563,333 L569,324" stroke="#e8e8e8" stroke-width="1.6" filter="url(#bl05)"/>
<path d="M555.5,343 L561,333.5 L567,323 L574,312 L581,300 L587,290" stroke="#fff" stroke-width="1.8" filter="url(#bl03)"/>
<path d="M560.5,341 L566,331.5 L572,321 L579,309 L585,299 L590,290.5" stroke="#f0f0f0" stroke-width="1.5" filter="url(#bl03)"/>
<path d="M558,338 L566,326 L572,316" stroke="#fff" stroke-width="2.6" filter="url(#bl05)"/>
<path d="M551,325 L545,324 L541,328 L536,330 L531.5,332.5 L528.5,336 L528.5,341 L530,346 L533,350 L532,355 L532.5,360 L535,365 L540,363 L546,362 L552.5,361.5 L557,363 L561,364.5 M555.5,345 L556,352 L554.5,359 M549,325 L546,321 L543.5,322.5" stroke="#a0a0a0" stroke-width="1" filter="url(#bl03)"/>
<path d="M546,322 L553,324.5" stroke="#ddd" stroke-width="2"/>
<path d="M529,334 L528,343" stroke="#bbb" stroke-width="2.2" filter="url(#bl05)"/>
</g>
<circle cx="564.95" cy="363.02" r="0.42" fill="#888"/>
<circle cx="564.49" cy="346.59" r="0.66" fill="#888"/>
<circle cx="560.29" cy="353.05" r="0.52" fill="#888"/>
<circle cx="559.42" cy="347.48" r="0.36" fill="#ccc"/>
<circle cx="554.69" cy="353.45" r="0.61" fill="#ccc"/>
<circle cx="555.09" cy="353.65" r="0.62" fill="#888"/>
<circle cx="552.35" cy="346.63" r="0.4" fill="#ccc"/>
<circle cx="561.94" cy="353" r="0.36" fill="#ccc"/>
<circle cx="559.18" cy="358.95" r="0.54" fill="#888"/>
<circle cx="557.03" cy="346.09" r="0.37" fill="#aaa"/>
<circle cx="562.96" cy="356.19" r="0.32" fill="#888"/>
<circle cx="561.21" cy="356.8" r="0.46" fill="#aaa"/>
<circle cx="565.59" cy="351.89" r="0.62" fill="#ccc"/>
<circle cx="562.64" cy="352" r="0.31" fill="#aaa"/>
<circle cx="560.01" cy="357.55" r="0.62" fill="#aaa"/>
<circle cx="556.4" cy="346.63" r="0.52" fill="#888"/>
<circle cx="558.64" cy="358.64" r="0.6" fill="#888"/>
<circle cx="560.27" cy="353.5" r="0.31" fill="#888"/>
<circle cx="560.99" cy="348.46" r="0.5" fill="#aaa"/>
<circle cx="554.5" cy="351.14" r="0.33" fill="#888"/>
<circle cx="563.42" cy="348.72" r="0.52" fill="#888"/>
<circle cx="553.6" cy="346.87" r="0.68" fill="#aaa"/>
<circle cx="552.55" cy="350.24" r="0.34" fill="#ccc"/>
<circle cx="560.02" cy="360.59" r="0.51" fill="#aaa"/>
<circle cx="556.63" cy="352.02" r="0.58" fill="#ccc"/>
<rect x="506.3" y="266.8" width="44.8" height="44.6" fill="#000" />
<svg x="506.3" y="266.8" width="44.8" height="44.6" viewBox="0 0 44.8 44.6" overflow="hidden">
<path d="M2.5,37.5 L28,1" stroke="#707070" stroke-width="5.5" stroke-linecap="round" fill="none" filter="url(#bl08)"/>
<g filter="url(#bl08)">
<circle cx="4.14" cy="35.29" r="1.97" fill="#ddd"/>
<circle cx="5.54" cy="32.57" r="2.49" fill="#aaa"/>
<circle cx="7.38" cy="30.85" r="2.16" fill="#bbb"/>
<circle cx="9.18" cy="28.09" r="1.55" fill="#bbb"/>
<circle cx="11.77" cy="24.86" r="2.36" fill="#fff"/>
<circle cx="13.11" cy="23.01" r="2.27" fill="#fff"/>
<circle cx="14.18" cy="20.39" r="1.7" fill="#fff"/>
<circle cx="16.96" cy="17.45" r="2.26" fill="#ddd"/>
<circle cx="17.15" cy="15.51" r="1.97" fill="#bbb"/>
<circle cx="20.1" cy="12.29" r="1.56" fill="#ddd"/>
<circle cx="22.22" cy="10.37" r="1.63" fill="#ddd"/>
<circle cx="22.73" cy="8.15" r="1.64" fill="#aaa"/>
<circle cx="25.12" cy="3.99" r="2.25" fill="#aaa"/>
<circle cx="26.98" cy="3.15" r="1.65" fill="#fff"/>
</g>
<path d="M21.5,43.5 L43.5,9.5" stroke="#707070" stroke-width="5" stroke-linecap="round" fill="none" filter="url(#bl08)"/>
<g filter="url(#bl08)">
<circle cx="22.13" cy="42.69" r="1.7" fill="#fff"/>
<circle cx="23.38" cy="40.12" r="1.64" fill="#fff"/>
<circle cx="25.17" cy="37.18" r="1.98" fill="#aaa"/>
<circle cx="26.94" cy="34.35" r="1.8" fill="#fff"/>
<circle cx="29.54" cy="31.4" r="1.8" fill="#aaa"/>
<circle cx="30.6" cy="29.97" r="1.85" fill="#bbb"/>
<circle cx="31.56" cy="27.05" r="2.26" fill="#fff"/>
<circle cx="33.92" cy="24.61" r="2.34" fill="#aaa"/>
<circle cx="34.57" cy="23.1" r="1.57" fill="#fff"/>
<circle cx="37.16" cy="20.05" r="1.62" fill="#aaa"/>
<circle cx="37.84" cy="18.14" r="1.49" fill="#fff"/>
<circle cx="38.9" cy="15.82" r="1.78" fill="#aaa"/>
<circle cx="40.77" cy="14.19" r="2.29" fill="#ddd"/>
<circle cx="43.46" cy="10.17" r="2.14" fill="#aaa"/>
</g>
<g filter="url(#bl08)"><circle cx="6" cy="14" r="2" fill="#888"/><circle cx="10" cy="5" r="1.5" fill="#666"/></g>
<path d="M0 15 L3.5 13.5 L7 21.5 L0 21 Z" fill="#fff"/>
<path d="M34.7 35 L43 35.6 L38.3 43 Z" fill="#fff"/>
</svg>
<rect x="506.8" y="267.3" width="43.8" height="43.6" fill="none" stroke="#d8d8d8" stroke-width="1" />
<rect x="553.4" y="325.9" width="13.2" height="13" fill="none" stroke="#cfcfcf" stroke-width="0.8" />
</svg>
<svg x="621" y="266.8" width="111" height="110.4" viewBox="621 266.8 111 110.4" overflow="hidden">
<rect x="621" y="266.8" width="111" height="110.4" fill="#000" />
<g transform="translate(114.7,0)" fill="none" stroke-linecap="round" stroke-linejoin="round">
<path d="M552,341 L556,331 L561,323 L566,316 L572,309 L578,300 L584,291 L588,286 L591,289 L587,297 L582,306 L577,316 L572,325 L566,335 L561,345 L555,346 Z" fill="#b80e0e" stroke="none" filter="url(#bl08)"/>
<path d="M564,305 L563,298 L566,293 L569,294 L572,292 L574,297 L571,302 L572,306 L569,310 L568,318 L566,318 L566,311 Z" fill="#c01010" stroke="none" filter="url(#bl08)"/>
<path d="M555.5,343 L561,333.5 L567,323 L574,312 L581,300 L587,290" stroke="#ff2a2a" stroke-width="1.8" filter="url(#bl03)"/>
<path d="M560.5,341 L566,331.5 L572,321 L579,309 L585,299 L590,290.5" stroke="#f02020" stroke-width="1.5" filter="url(#bl03)"/>
<path d="M556.5,340 L562,331 L567,323 M561,340 L567,330 L571,324" stroke="#fff" stroke-width="1.3"/>
<path d="M551,325 L545,324 L541,328 L536,330 L531.5,332.5 L528.5,336 L528.5,341 L530,346 L533,350 L532,355 L532.5,360 L535,365 L540,363 L546,362 L552.5,361.5 L557,363 L561,364.5 M555.5,345 L556,352 L554.5,359 M549,325 L546,321 L543.5,322.5" stroke="#d01818" stroke-width="1.2" filter="url(#bl03)"/>
<path d="M546,322 L553,324.5" stroke="#e01818" stroke-width="2.2"/>
<path d="M529,334 L528,343" stroke="#e01818" stroke-width="2.2" filter="url(#bl05)"/>
<circle cx="588" cy="287" r="1.5" fill="#e01818" stroke="none"/>
</g>
<circle cx="670.06" cy="360.11" r="0.58" fill="#e02020"/>
<circle cx="650.88" cy="352.85" r="1.03" fill="#fff"/>
<circle cx="647.1" cy="356.58" r="0.68" fill="#18b818"/>
<circle cx="649.3" cy="354.38" r="0.98" fill="#1aa01a"/>
<circle cx="670.5" cy="356.94" r="1.03" fill="#22c822"/>
<circle cx="660.03" cy="361.23" r="0.93" fill="#22c822"/>
<circle cx="662.83" cy="365.2" r="0.93" fill="#1aa01a"/>
<circle cx="671.05" cy="343.1" r="0.41" fill="#e02020"/>
<circle cx="654.97" cy="364.98" r="0.98" fill="#18b818"/>
<circle cx="646.85" cy="356.7" r="0.81" fill="#22c822"/>
<circle cx="674.9" cy="330.78" r="1.05" fill="#22c822"/>
<circle cx="655.79" cy="337.13" r="0.83" fill="#fff"/>
<circle cx="663.76" cy="339.78" r="0.59" fill="#18b818"/>
<circle cx="655.4" cy="362.48" r="0.51" fill="#22c822"/>
<circle cx="668.31" cy="358.36" r="0.78" fill="#fff"/>
<circle cx="675.51" cy="335.46" r="0.56" fill="#e02020"/>
<circle cx="671.18" cy="363.76" r="0.63" fill="#fff"/>
<circle cx="647.16" cy="345.26" r="0.61" fill="#2ad82a"/>
<circle cx="649.41" cy="330.15" r="0.84" fill="#e02020"/>
<circle cx="661.44" cy="352.83" r="0.77" fill="#fff"/>
<circle cx="679.73" cy="329.65" r="0.63" fill="#2ad82a"/>
<circle cx="672.01" cy="346.88" r="1.03" fill="#1aa01a"/>
<circle cx="652.68" cy="351.13" r="0.84" fill="#fff"/>
<circle cx="653.36" cy="351.69" r="0.55" fill="#1aa01a"/>
<circle cx="667.7" cy="340.82" r="0.96" fill="#e02020"/>
<circle cx="673.11" cy="341.35" r="0.55" fill="#18b818"/>
<circle cx="661.05" cy="359.76" r="0.65" fill="#fff"/>
<circle cx="652.97" cy="331.98" r="0.47" fill="#2ad82a"/>
<circle cx="664.95" cy="342.69" r="0.66" fill="#22c822"/>
<circle cx="676.04" cy="334.7" r="0.6" fill="#18b818"/>
<circle cx="660.38" cy="337.44" r="1.03" fill="#18b818"/>
<circle cx="660.3" cy="356.85" r="0.48" fill="#2ad82a"/>
<circle cx="670.02" cy="358.89" r="0.48" fill="#18b818"/>
<circle cx="663.64" cy="348.78" r="0.95" fill="#e02020"/>
<circle cx="658.85" cy="341.04" r="0.61" fill="#e02020"/>
<circle cx="651.87" cy="337.03" r="0.77" fill="#1aa01a"/>
<circle cx="654.57" cy="338.45" r="0.87" fill="#fff"/>
<circle cx="677.27" cy="358.33" r="0.61" fill="#22c822"/>
<circle cx="667.42" cy="324.74" r="0.84" fill="#22c822"/>
<circle cx="653.41" cy="347.36" r="0.76" fill="#fff"/>
<circle cx="669.31" cy="342.03" r="0.9" fill="#fff"/>
<circle cx="667.11" cy="362.92" r="0.55" fill="#1aa01a"/>
<circle cx="653.6" cy="340.43" r="0.53" fill="#2ad82a"/>
<circle cx="671.83" cy="337.7" r="1" fill="#fff"/>
<circle cx="670.39" cy="341.08" r="0.69" fill="#e02020"/>
<circle cx="644.42" cy="343.89" r="0.69" fill="#1aa01a"/>
<circle cx="674.97" cy="346.77" r="0.99" fill="#2ad82a"/>
<circle cx="676.97" cy="333.16" r="0.84" fill="#1aa01a"/>
<circle cx="660.19" cy="331.55" r="1.04" fill="#fff"/>
<circle cx="664.3" cy="354.13" r="0.97" fill="#18b818"/>
<circle cx="673.07" cy="328.46" r="0.99" fill="#22c822"/>
<circle cx="650.47" cy="330.05" r="0.83" fill="#2ad82a"/>
<circle cx="662.35" cy="327.38" r="0.49" fill="#1aa01a"/>
<circle cx="673.24" cy="345.35" r="0.99" fill="#18b818"/>
<circle cx="669.75" cy="334.95" r="0.95" fill="#1aa01a"/>
<circle cx="667.9" cy="343.5" r="0.58" fill="#2ad82a"/>
<circle cx="667.69" cy="341.66" r="0.63" fill="#18b818"/>
<circle cx="674.51" cy="338.67" r="1.03" fill="#2ad82a"/>
<circle cx="650.77" cy="330.6" r="0.45" fill="#1aa01a"/>
<circle cx="654.14" cy="361.43" r="0.61" fill="#18b818"/>
<circle cx="652.29" cy="350.65" r="0.7" fill="#18b818"/>
<circle cx="652.92" cy="337.21" r="0.7" fill="#2ad82a"/>
<circle cx="671.36" cy="350.16" r="0.97" fill="#1aa01a"/>
<circle cx="678.7" cy="334.21" r="1.02" fill="#1aa01a"/>
<circle cx="664.56" cy="344.45" r="0.89" fill="#22c822"/>
<circle cx="656.31" cy="356.67" r="0.65" fill="#18b818"/>
<circle cx="669.2" cy="330.69" r="0.93" fill="#18b818"/>
<circle cx="645.41" cy="331.46" r="0.68" fill="#1aa01a"/>
<circle cx="673.93" cy="355.51" r="0.55" fill="#22c822"/>
<circle cx="652.08" cy="334.07" r="0.57" fill="#1aa01a"/>
<circle cx="655.07" cy="353.21" r="0.47" fill="#1aa01a"/>
<circle cx="671.39" cy="334.25" r="1.05" fill="#1aa01a"/>
<circle cx="655.87" cy="334.2" r="0.59" fill="#1aa01a"/>
<circle cx="678.47" cy="334.41" r="0.45" fill="#fff"/>
<circle cx="667.11" cy="348.46" r="0.45" fill="#e02020"/>
<circle cx="678.18" cy="339.67" r="0.55" fill="#e02020"/>
<circle cx="652.15" cy="359.16" r="0.85" fill="#18b818"/>
<circle cx="656.01" cy="327.67" r="0.95" fill="#e02020"/>
<circle cx="660.14" cy="363.78" r="0.57" fill="#2ad82a"/>
<circle cx="656.92" cy="343.29" r="0.64" fill="#22c822"/>
<circle cx="664.58" cy="334.23" r="0.48" fill="#1aa01a"/>
<circle cx="647.71" cy="346.32" r="0.82" fill="#2ad82a"/>
<circle cx="679.49" cy="361.49" r="1.04" fill="#18b818"/>
<circle cx="654.87" cy="357.72" r="0.71" fill="#1aa01a"/>
<circle cx="674.48" cy="349.08" r="0.92" fill="#22c822"/>
<circle cx="657" cy="332.42" r="1.02" fill="#2ad82a"/>
<circle cx="669.73" cy="353.52" r="0.57" fill="#2ad82a"/>
<circle cx="651.61" cy="330.08" r="0.51" fill="#2ad82a"/>
<circle cx="647.92" cy="359.62" r="0.9" fill="#18b818"/>
<circle cx="676.46" cy="346.22" r="1.01" fill="#fff"/>
<circle cx="666.3" cy="354.42" r="0.7" fill="#22c822"/>
<circle cx="649.5" cy="346.34" r="0.59" fill="#22c822"/>
<circle cx="660.28" cy="361.39" r="0.42" fill="#2ad82a"/>
<circle cx="649.76" cy="360.42" r="0.45" fill="#18b818"/>
<circle cx="648.96" cy="350.26" r="0.85" fill="#1aa01a"/>
<circle cx="676.69" cy="327.28" r="0.87" fill="#1aa01a"/>
<circle cx="662.54" cy="344.88" r="0.82" fill="#e02020"/>
<circle cx="677.35" cy="355.36" r="0.46" fill="#fff"/>
<circle cx="674.85" cy="339.06" r="0.92" fill="#22c822"/>
<circle cx="647.24" cy="351.41" r="0.51" fill="#22c822"/>
<circle cx="647.86" cy="350.93" r="0.69" fill="#22c822"/>
<circle cx="650.33" cy="349.99" r="0.78" fill="#fff"/>
<circle cx="651.14" cy="331.52" r="0.77" fill="#e02020"/>
<circle cx="659.27" cy="365.88" r="0.91" fill="#22c822"/>
<circle cx="653.12" cy="344.43" r="0.52" fill="#22c822"/>
<circle cx="663.66" cy="337.19" r="0.41" fill="#e02020"/>
<circle cx="661.09" cy="355.79" r="0.9" fill="#fff"/>
<circle cx="668.39" cy="334.53" r="0.4" fill="#18b818"/>
<circle cx="667.66" cy="347.07" r="0.6" fill="#2ad82a"/>
<circle cx="672" cy="324.15" r="1.03" fill="#22c822"/>
<circle cx="654.1" cy="352.94" r="0.64" fill="#18b818"/>
<circle cx="664.32" cy="345.69" r="1.04" fill="#22c822"/>
<circle cx="663.28" cy="350.55" r="0.81" fill="#18b818"/>
<circle cx="670.93" cy="359.9" r="0.41" fill="#2ad82a"/>
<circle cx="672.5" cy="362.98" r="0.62" fill="#2ad82a"/>
<circle cx="665" cy="331.38" r="0.87" fill="#1aa01a"/>
<circle cx="657.38" cy="361.06" r="0.46" fill="#1aa01a"/>
<circle cx="672.27" cy="350.65" r="0.68" fill="#1aa01a"/>
<circle cx="648.42" cy="330.9" r="0.53" fill="#2ad82a"/>
<circle cx="667.97" cy="342.16" r="0.65" fill="#2ad82a"/>
<circle cx="650.65" cy="365.73" r="0.43" fill="#18b818"/>
<circle cx="652.26" cy="363.84" r="0.83" fill="#18b818"/>
<circle cx="666.7" cy="365.07" r="0.77" fill="#2ad82a"/>
<circle cx="672.38" cy="332.65" r="0.88" fill="#18b818"/>
<circle cx="652.13" cy="361.1" r="1.03" fill="#18b818"/>
<circle cx="659.77" cy="345.65" r="1" fill="#1aa01a"/>
<circle cx="671.35" cy="349.92" r="0.63" fill="#2ad82a"/>
<circle cx="670.32" cy="346.42" r="0.7" fill="#e02020"/>
<circle cx="653.89" cy="355.03" r="0.78" fill="#2ad82a"/>
<circle cx="648.37" cy="355.13" r="0.51" fill="#18b818"/>
<circle cx="673.15" cy="330.11" r="0.82" fill="#22c822"/>
<circle cx="650.6" cy="346.92" r="0.73" fill="#e02020"/>
<circle cx="654.43" cy="329.89" r="0.8" fill="#2ad82a"/>
<circle cx="675.02" cy="357.09" r="0.61" fill="#e02020"/>
<circle cx="672.69" cy="330.32" r="0.9" fill="#18b818"/>
<circle cx="655.67" cy="328.19" r="0.62" fill="#1aa01a"/>
<circle cx="678.79" cy="360.26" r="0.7" fill="#e02020"/>
<circle cx="666.38" cy="345.39" r="0.81" fill="#18b818"/>
<circle cx="666.61" cy="365.36" r="0.46" fill="#2ad82a"/>
<circle cx="663" cy="361.89" r="0.46" fill="#18b818"/>
<circle cx="665.94" cy="360.44" r="0.41" fill="#22c822"/>
<circle cx="693.46" cy="306.27" r="0.69" fill="#fff"/>
<circle cx="668.72" cy="334.73" r="0.55" fill="#fff"/>
<circle cx="651.04" cy="342.19" r="0.31" fill="#22c822"/>
<circle cx="692.36" cy="303.75" r="0.47" fill="#e02020"/>
<circle cx="664.86" cy="325.67" r="0.44" fill="#22c822"/>
<circle cx="649.84" cy="363.96" r="0.64" fill="#22c822"/>
<circle cx="678.08" cy="321.5" r="0.34" fill="#e02020"/>
<circle cx="676.92" cy="329.13" r="0.37" fill="#e02020"/>
<circle cx="651.2" cy="356.51" r="0.6" fill="#22c822"/>
<circle cx="691.91" cy="306.78" r="0.67" fill="#fff"/>
<circle cx="668.73" cy="332.53" r="0.38" fill="#e02020"/>
<circle cx="669.4" cy="327.55" r="0.53" fill="#e02020"/>
<circle cx="673.48" cy="326.69" r="0.62" fill="#e02020"/>
<circle cx="647.1" cy="352.04" r="0.48" fill="#fff"/>
<ellipse cx="658" cy="341" rx="3" ry="2.8" fill="#30e030" filter="url(#bl03)"/>
<circle cx="700.7" cy="292" r="0.8" fill="#2c2"/>
<line x1="700.3" y1="374.2" x2="729.3" y2="374.2" stroke="#cfcfcf" stroke-width="1.4" />
<rect x="621" y="266.8" width="44.8" height="44.6" fill="#000" />
<svg x="621" y="266.8" width="44.8" height="44.6" viewBox="0 0 44.8 44.6" overflow="hidden">
<g filter="url(#bl08)" stroke-linecap="round" fill="none">
<path d="M0 40 L29 0" stroke="#d82a1a" stroke-width="7.5"/><path d="M0 40 L29 0" stroke="#f0d040" stroke-width="3.8"/>
<path d="M19 47 L46 9" stroke="#d82a1a" stroke-width="7"/><path d="M19 47 L46 9" stroke="#f0d84a" stroke-width="3.5"/>
<circle cx="6" cy="8" r="3.5" fill="#22cc22"/><circle cx="14" cy="2" r="3" fill="#22aa22"/><circle cx="28" cy="37" r="2" fill="#22aa22"/><circle cx="3" cy="16" r="3" fill="#dd2222"/>
</g>
<line x1="29" y1="41.5" x2="42" y2="41.5" stroke="#ddd" stroke-width="1"/>
<path d="M0 15 L3.5 13.5 L7 21.5 L0 21 Z" fill="#fff"/>
<path d="M34.8 31.3 L43.6 32.6 L39.1 39 Z" fill="#fff"/>
</svg>
<rect x="621.5" y="267.3" width="43.8" height="43.6" fill="none" stroke="#d8d8d8" stroke-width="1" />
<rect x="668.7" y="324.9" width="13.2" height="13" fill="none" stroke="#cfcfcf" stroke-width="0.8" />
</svg>
<text x="2" y="412.5" font-size="24" font-weight="bold" fill="#000" >g</text>
<line x1="30.5" y1="430.2" x2="30.5" y2="566.8" stroke="#4a4a4a" stroke-width="1" />
<line x1="27.1" y1="566.3" x2="30.5" y2="566.3" stroke="#4a4a4a" stroke-width="1" />
<text x="25.4" y="569.55" font-size="9.3" text-anchor="end" fill="#111" stroke="#111" stroke-width="0.22" >0</text>
<line x1="27.1" y1="532.4" x2="30.5" y2="532.4" stroke="#4a4a4a" stroke-width="1" />
<text x="25.4" y="535.65" font-size="9.3" text-anchor="end" fill="#111" stroke="#111" stroke-width="0.22" >20</text>
<line x1="27.1" y1="498.5" x2="30.5" y2="498.5" stroke="#4a4a4a" stroke-width="1" />
<text x="25.4" y="501.75" font-size="9.3" text-anchor="end" fill="#111" stroke="#111" stroke-width="0.22" >40</text>
<line x1="27.1" y1="464.6" x2="30.5" y2="464.6" stroke="#4a4a4a" stroke-width="1" />
<text x="25.4" y="467.85" font-size="9.3" text-anchor="end" fill="#111" stroke="#111" stroke-width="0.22" >60</text>
<line x1="27.1" y1="430.7" x2="30.5" y2="430.7" stroke="#4a4a4a" stroke-width="1" />
<text x="25.4" y="433.95" font-size="9.3" text-anchor="end" fill="#111" stroke="#111" stroke-width="0.22" >80</text>
<line x1="30" y1="566.3" x2="118" y2="566.3" stroke="#4a4a4a" stroke-width="1" />
<line x1="55.5" y1="566.3" x2="55.5" y2="569.5" stroke="#4a4a4a" stroke-width="1" />
<line x1="92.2" y1="566.3" x2="92.2" y2="569.5" stroke="#4a4a4a" stroke-width="1" />
<text x="55.5" y="579.3" font-size="9" text-anchor="middle" fill="#111" stroke="#111" stroke-width="0.22" >siCT</text>
<text x="92.2" y="579.3" font-size="9" text-anchor="middle" fill="#111" stroke="#111" stroke-width="0.22" >siArp</text>
<text x="11.2" y="497" font-size="9.7" text-anchor="middle" fill="#111" transform="rotate(-90 11.2 497)" stroke="#111" stroke-width="0.22" ><tspan font-style="italic">C. albicans</tspan> length (μm)</text>
<line x1="51.8" y1="429.8" x2="91.7" y2="429.8" stroke="#777" stroke-width="1" />
<path d="M73,418.6L73,425.4M70.06,420.3L75.94,423.7M75.94,420.3L70.06,423.7" stroke="#111" stroke-width="1.7" stroke-linecap="butt" fill="none"/>
<path d="M55.3,475.2 L51.8,478.4 L50.3,489 L47.3,499.7 L44.3,508.3 L44.8,516.8 L46.8,525.3 L48.8,536 L49.8,546.7 L51.8,555.2 L55.3,560.5 L55.3,560.5 L58.8,555.2 L60.8,546.7 L61.8,536 L63.8,525.3 L65.8,516.8 L66.3,508.3 L63.3,499.7 L60.3,489 L58.8,478.4 L55.3,475.2Z" fill="none" stroke="#333" stroke-width="0.7" stroke-linejoin="round"/>
<circle cx="63.42" cy="513.79" r="1.85" fill="#8f8f8f" stroke="#111" stroke-width="0.75"/>
<circle cx="56.96" cy="514.92" r="1.85" fill="#8f8f8f" stroke="#111" stroke-width="0.75"/>
<circle cx="52.78" cy="483.23" r="1.85" fill="#8f8f8f" stroke="#111" stroke-width="0.75"/>
<circle cx="48.57" cy="527.71" r="1.85" fill="#8f8f8f" stroke="#111" stroke-width="0.75"/>
<circle cx="49.99" cy="520.27" r="1.85" fill="#8f8f8f" stroke="#111" stroke-width="0.75"/>
<circle cx="54.88" cy="495.84" r="1.85" fill="#8f8f8f" stroke="#111" stroke-width="0.75"/>
<circle cx="55.67" cy="512.78" r="1.85" fill="#8f8f8f" stroke="#111" stroke-width="0.75"/>
<circle cx="57.43" cy="529.82" r="1.85" fill="#8f8f8f" stroke="#111" stroke-width="0.75"/>
<circle cx="64.8" cy="514.21" r="1.85" fill="#8f8f8f" stroke="#111" stroke-width="0.75"/>
<circle cx="52.04" cy="502.09" r="1.85" fill="#8f8f8f" stroke="#111" stroke-width="0.75"/>
<circle cx="53.07" cy="509.35" r="1.85" fill="#8f8f8f" stroke="#111" stroke-width="0.75"/>
<circle cx="57.85" cy="509.1" r="1.85" fill="#8f8f8f" stroke="#111" stroke-width="0.75"/>
<circle cx="51.28" cy="541.61" r="1.85" fill="#8f8f8f" stroke="#111" stroke-width="0.75"/>
<circle cx="52.75" cy="539.86" r="1.85" fill="#8f8f8f" stroke="#111" stroke-width="0.75"/>
<circle cx="57.18" cy="483.82" r="1.85" fill="#8f8f8f" stroke="#111" stroke-width="0.75"/>
<circle cx="59.75" cy="513.37" r="1.85" fill="#8f8f8f" stroke="#111" stroke-width="0.75"/>
<circle cx="60.11" cy="493.36" r="1.85" fill="#8f8f8f" stroke="#111" stroke-width="0.75"/>
<circle cx="58.89" cy="543.73" r="1.85" fill="#8f8f8f" stroke="#111" stroke-width="0.75"/>
<circle cx="58.89" cy="493.17" r="1.85" fill="#8f8f8f" stroke="#111" stroke-width="0.75"/>
<circle cx="61.68" cy="529.95" r="1.85" fill="#8f8f8f" stroke="#111" stroke-width="0.75"/>
<circle cx="58.09" cy="493.39" r="1.85" fill="#8f8f8f" stroke="#111" stroke-width="0.75"/>
<circle cx="48.36" cy="503.26" r="1.85" fill="#8f8f8f" stroke="#111" stroke-width="0.75"/>
<circle cx="63.94" cy="506.91" r="1.85" fill="#8f8f8f" stroke="#111" stroke-width="0.75"/>
<circle cx="62.2" cy="516.46" r="1.85" fill="#8f8f8f" stroke="#111" stroke-width="0.75"/>
<circle cx="58.89" cy="490.8" r="1.85" fill="#8f8f8f" stroke="#111" stroke-width="0.75"/>
<circle cx="52.48" cy="544.96" r="1.85" fill="#8f8f8f" stroke="#111" stroke-width="0.75"/>
<circle cx="46.33" cy="511.15" r="1.85" fill="#8f8f8f" stroke="#111" stroke-width="0.75"/>
<circle cx="58.87" cy="535.3" r="1.85" fill="#8f8f8f" stroke="#111" stroke-width="0.75"/>
<circle cx="50.6" cy="526.08" r="1.85" fill="#8f8f8f" stroke="#111" stroke-width="0.75"/>
<circle cx="52.4" cy="536.65" r="1.85" fill="#8f8f8f" stroke="#111" stroke-width="0.75"/>
<circle cx="61.11" cy="527.6" r="1.85" fill="#8f8f8f" stroke="#111" stroke-width="0.75"/>
<circle cx="53.04" cy="492.6" r="1.85" fill="#8f8f8f" stroke="#111" stroke-width="0.75"/>
<circle cx="49.08" cy="513.22" r="1.85" fill="#8f8f8f" stroke="#111" stroke-width="0.75"/>
<circle cx="48.43" cy="506.66" r="1.85" fill="#8f8f8f" stroke="#111" stroke-width="0.75"/>
<circle cx="48.37" cy="525.05" r="1.85" fill="#8f8f8f" stroke="#111" stroke-width="0.75"/>
<circle cx="51.89" cy="516.33" r="1.85" fill="#8f8f8f" stroke="#111" stroke-width="0.75"/>
<circle cx="62.36" cy="505.21" r="1.85" fill="#8f8f8f" stroke="#111" stroke-width="0.75"/>
<circle cx="53.49" cy="524.06" r="1.85" fill="#8f8f8f" stroke="#111" stroke-width="0.75"/>
<circle cx="49.02" cy="524.9" r="1.85" fill="#8f8f8f" stroke="#111" stroke-width="0.75"/>
<circle cx="56.9" cy="508.33" r="1.85" fill="#8f8f8f" stroke="#111" stroke-width="0.75"/>
<circle cx="47.29" cy="512.78" r="1.85" fill="#8f8f8f" stroke="#111" stroke-width="0.75"/>
<circle cx="56.33" cy="539.19" r="1.85" fill="#8f8f8f" stroke="#111" stroke-width="0.75"/>
<circle cx="59.04" cy="516.23" r="1.85" fill="#8f8f8f" stroke="#111" stroke-width="0.75"/>
<circle cx="63.03" cy="517.62" r="1.85" fill="#8f8f8f" stroke="#111" stroke-width="0.75"/>
<circle cx="52.86" cy="497.02" r="1.85" fill="#8f8f8f" stroke="#111" stroke-width="0.75"/>
<circle cx="51.37" cy="533.05" r="1.85" fill="#8f8f8f" stroke="#111" stroke-width="0.75"/>
<circle cx="51.97" cy="512.9" r="1.85" fill="#8f8f8f" stroke="#111" stroke-width="0.75"/>
<circle cx="54.45" cy="532" r="1.85" fill="#8f8f8f" stroke="#111" stroke-width="0.75"/>
<circle cx="55.89" cy="550.29" r="1.85" fill="#8f8f8f" stroke="#111" stroke-width="0.75"/>
<circle cx="55.25" cy="502.2" r="1.85" fill="#8f8f8f" stroke="#111" stroke-width="0.75"/>
<circle cx="54.64" cy="498.81" r="1.85" fill="#8f8f8f" stroke="#111" stroke-width="0.75"/>
<circle cx="54.16" cy="498.67" r="1.85" fill="#8f8f8f" stroke="#111" stroke-width="0.75"/>
<circle cx="52.8" cy="528.58" r="1.85" fill="#8f8f8f" stroke="#111" stroke-width="0.75"/>
<circle cx="46.34" cy="513.8" r="1.85" fill="#8f8f8f" stroke="#111" stroke-width="0.75"/>
<circle cx="56.84" cy="549.65" r="1.85" fill="#8f8f8f" stroke="#111" stroke-width="0.75"/>
<circle cx="59.8" cy="523.87" r="1.85" fill="#8f8f8f" stroke="#111" stroke-width="0.75"/>
<circle cx="55.24" cy="476.83" r="1.85" fill="#8f8f8f" stroke="#111" stroke-width="0.75"/>
<circle cx="50.14" cy="495.45" r="1.85" fill="#8f8f8f" stroke="#111" stroke-width="0.75"/>
<circle cx="57.05" cy="528.87" r="1.85" fill="#8f8f8f" stroke="#111" stroke-width="0.75"/>
<circle cx="52.22" cy="492.2" r="1.85" fill="#8f8f8f" stroke="#111" stroke-width="0.75"/>
<circle cx="49.22" cy="515.48" r="1.85" fill="#8f8f8f" stroke="#111" stroke-width="0.75"/>
<circle cx="57.88" cy="498.43" r="1.85" fill="#8f8f8f" stroke="#111" stroke-width="0.75"/>
<circle cx="59.77" cy="519.59" r="1.85" fill="#8f8f8f" stroke="#111" stroke-width="0.75"/>
<circle cx="63.31" cy="508.77" r="1.85" fill="#8f8f8f" stroke="#111" stroke-width="0.75"/>
<circle cx="54.81" cy="536.82" r="1.85" fill="#8f8f8f" stroke="#111" stroke-width="0.75"/>
<circle cx="62.55" cy="507.34" r="1.85" fill="#8f8f8f" stroke="#111" stroke-width="0.75"/>
<circle cx="49.69" cy="514.75" r="1.85" fill="#8f8f8f" stroke="#111" stroke-width="0.75"/>
<circle cx="59.21" cy="542.65" r="1.85" fill="#8f8f8f" stroke="#111" stroke-width="0.75"/>
<circle cx="51.93" cy="548.2" r="1.85" fill="#8f8f8f" stroke="#111" stroke-width="0.75"/>
<circle cx="60.46" cy="512.81" r="1.85" fill="#8f8f8f" stroke="#111" stroke-width="0.75"/>
<circle cx="61.11" cy="516.78" r="1.85" fill="#8f8f8f" stroke="#111" stroke-width="0.75"/>
<circle cx="57.69" cy="489.95" r="1.85" fill="#8f8f8f" stroke="#111" stroke-width="0.75"/>
<circle cx="55.42" cy="487.18" r="1.85" fill="#8f8f8f" stroke="#111" stroke-width="0.75"/>
<circle cx="55.46" cy="482.54" r="1.85" fill="#8f8f8f" stroke="#111" stroke-width="0.75"/>
<circle cx="59.81" cy="529.7" r="1.85" fill="#8f8f8f" stroke="#111" stroke-width="0.75"/>
<circle cx="53.41" cy="522.97" r="1.85" fill="#8f8f8f" stroke="#111" stroke-width="0.75"/>
<circle cx="55.85" cy="524.08" r="1.85" fill="#8f8f8f" stroke="#111" stroke-width="0.75"/>
<circle cx="46.72" cy="518.12" r="1.85" fill="#8f8f8f" stroke="#111" stroke-width="0.75"/>
<circle cx="56.54" cy="509.37" r="1.85" fill="#8f8f8f" stroke="#111" stroke-width="0.75"/>
<circle cx="47.21" cy="517.09" r="1.85" fill="#8f8f8f" stroke="#111" stroke-width="0.75"/>
<circle cx="62.94" cy="521.15" r="1.85" fill="#8f8f8f" stroke="#111" stroke-width="0.75"/>
<circle cx="55.16" cy="553.97" r="1.85" fill="#8f8f8f" stroke="#111" stroke-width="0.75"/>
<circle cx="49.47" cy="515.85" r="1.85" fill="#8f8f8f" stroke="#111" stroke-width="0.75"/>
<circle cx="57.2" cy="502.67" r="1.85" fill="#8f8f8f" stroke="#111" stroke-width="0.75"/>
<circle cx="55.67" cy="496.57" r="1.85" fill="#8f8f8f" stroke="#111" stroke-width="0.75"/>
<circle cx="53.63" cy="512.46" r="1.85" fill="#8f8f8f" stroke="#111" stroke-width="0.75"/>
<circle cx="50.24" cy="520.35" r="1.85" fill="#8f8f8f" stroke="#111" stroke-width="0.75"/>
<circle cx="55.7" cy="529.05" r="1.85" fill="#8f8f8f" stroke="#111" stroke-width="0.75"/>
<circle cx="57.23" cy="548.28" r="1.85" fill="#8f8f8f" stroke="#111" stroke-width="0.75"/>
<circle cx="61.85" cy="502.14" r="1.85" fill="#8f8f8f" stroke="#111" stroke-width="0.75"/>
<circle cx="53.53" cy="550.91" r="1.85" fill="#8f8f8f" stroke="#111" stroke-width="0.75"/>
<circle cx="51.04" cy="537.18" r="1.85" fill="#8f8f8f" stroke="#111" stroke-width="0.75"/>
<circle cx="57.87" cy="546.18" r="1.85" fill="#8f8f8f" stroke="#111" stroke-width="0.75"/>
<circle cx="51.81" cy="533.65" r="1.85" fill="#8f8f8f" stroke="#111" stroke-width="0.75"/>
<circle cx="55.31" cy="557.8" r="1.85" fill="#8f8f8f" stroke="#111" stroke-width="0.75"/>
<circle cx="57.17" cy="539.87" r="1.85" fill="#8f8f8f" stroke="#111" stroke-width="0.75"/>
<circle cx="51.72" cy="491.32" r="1.85" fill="#8f8f8f" stroke="#111" stroke-width="0.75"/>
<circle cx="49.05" cy="519.11" r="1.85" fill="#8f8f8f" stroke="#111" stroke-width="0.75"/>
<circle cx="58.32" cy="490.94" r="1.85" fill="#8f8f8f" stroke="#111" stroke-width="0.75"/>
<circle cx="53.01" cy="554.26" r="1.85" fill="#8f8f8f" stroke="#111" stroke-width="0.75"/>
<circle cx="54.97" cy="540.43" r="1.85" fill="#8f8f8f" stroke="#111" stroke-width="0.75"/>
<circle cx="57.08" cy="519.15" r="1.85" fill="#8f8f8f" stroke="#111" stroke-width="0.75"/>
<circle cx="54.91" cy="547.22" r="1.85" fill="#8f8f8f" stroke="#111" stroke-width="0.75"/>
<circle cx="52.14" cy="538.27" r="1.85" fill="#8f8f8f" stroke="#111" stroke-width="0.75"/>
<circle cx="55.38" cy="509.7" r="1.85" fill="#8f8f8f" stroke="#111" stroke-width="0.75"/>
<circle cx="59.13" cy="543.85" r="1.85" fill="#8f8f8f" stroke="#111" stroke-width="0.75"/>
<circle cx="58.93" cy="544.69" r="1.85" fill="#8f8f8f" stroke="#111" stroke-width="0.75"/>
<circle cx="46.88" cy="509.81" r="1.85" fill="#8f8f8f" stroke="#111" stroke-width="0.75"/>
<circle cx="46.97" cy="504.35" r="1.85" fill="#8f8f8f" stroke="#111" stroke-width="0.75"/>
<circle cx="57.51" cy="505.54" r="1.85" fill="#8f8f8f" stroke="#111" stroke-width="0.75"/>
<circle cx="57.26" cy="532.02" r="1.85" fill="#8f8f8f" stroke="#111" stroke-width="0.75"/>
<circle cx="53.59" cy="523.78" r="1.85" fill="#8f8f8f" stroke="#111" stroke-width="0.75"/>
<circle cx="54.28" cy="538.22" r="1.85" fill="#8f8f8f" stroke="#111" stroke-width="0.75"/>
<circle cx="54.67" cy="479.5" r="1.85" fill="#8f8f8f" stroke="#111" stroke-width="0.75"/>
<circle cx="57.84" cy="483.6" r="1.85" fill="#8f8f8f" stroke="#111" stroke-width="0.75"/>
<circle cx="62.9" cy="522.12" r="1.85" fill="#8f8f8f" stroke="#111" stroke-width="0.75"/>
<circle cx="59.62" cy="539.96" r="1.85" fill="#8f8f8f" stroke="#111" stroke-width="0.75"/>
<circle cx="61.54" cy="527.33" r="1.85" fill="#8f8f8f" stroke="#111" stroke-width="0.75"/>
<circle cx="57.2" cy="511.09" r="1.85" fill="#8f8f8f" stroke="#111" stroke-width="0.75"/>
<circle cx="58.16" cy="506.38" r="1.85" fill="#8f8f8f" stroke="#111" stroke-width="0.75"/>
<circle cx="58.73" cy="523.02" r="1.85" fill="#8f8f8f" stroke="#111" stroke-width="0.75"/>
<circle cx="51.65" cy="500.45" r="1.85" fill="#8f8f8f" stroke="#111" stroke-width="0.75"/>
<circle cx="56.55" cy="478.85" r="1.85" fill="#8f8f8f" stroke="#111" stroke-width="0.75"/>
<circle cx="60.21" cy="508.46" r="1.85" fill="#8f8f8f" stroke="#111" stroke-width="0.75"/>
<circle cx="56.94" cy="555.76" r="1.85" fill="#8f8f8f" stroke="#111" stroke-width="0.75"/>
<line x1="45.2" y1="517.9" x2="65.3" y2="517.9" stroke="#a33" stroke-width="1.1" />
<path d="M92.2,438 L91.2,440 L90.7,450.7 L89.7,461.3 L87.2,478.4 L85.2,489 L84.2,499.7 L82.7,510.4 L80.7,521 L80.7,527.5 L84.2,533.9 L87.2,540.3 L90.2,544.5 L92.2,546.7 L92.2,546.7 L94.2,544.5 L97.2,540.3 L100.2,533.9 L103.7,527.5 L103.7,521 L101.7,510.4 L100.2,499.7 L99.2,489 L97.2,478.4 L94.7,461.3 L93.7,450.7 L93.2,440 L92.2,438Z" fill="#fff" stroke="#333" stroke-width="0.7" stroke-linejoin="round"/>
<circle cx="97" cy="484.69" r="1.85" fill="#a3d6c6" stroke="#44524e" stroke-width="0.55"/>
<circle cx="84.2" cy="526.77" r="1.85" fill="#a3d6c6" stroke="#44524e" stroke-width="0.55"/>
<circle cx="87.6" cy="505.86" r="1.85" fill="#a3d6c6" stroke="#44524e" stroke-width="0.55"/>
<circle cx="88.19" cy="510.6" r="1.85" fill="#a3d6c6" stroke="#44524e" stroke-width="0.55"/>
<circle cx="96.15" cy="501.29" r="1.85" fill="#a3d6c6" stroke="#44524e" stroke-width="0.55"/>
<circle cx="93.59" cy="463.92" r="1.85" fill="#a3d6c6" stroke="#44524e" stroke-width="0.55"/>
<circle cx="89.27" cy="523.25" r="1.85" fill="#a3d6c6" stroke="#44524e" stroke-width="0.55"/>
<circle cx="94.03" cy="499.4" r="1.85" fill="#a3d6c6" stroke="#44524e" stroke-width="0.55"/>
<circle cx="87.09" cy="519.89" r="1.85" fill="#a3d6c6" stroke="#44524e" stroke-width="0.55"/>
<circle cx="85.97" cy="533.52" r="1.85" fill="#a3d6c6" stroke="#44524e" stroke-width="0.55"/>
<circle cx="92.84" cy="505.76" r="1.85" fill="#a3d6c6" stroke="#44524e" stroke-width="0.55"/>
<circle cx="92.26" cy="445.88" r="1.85" fill="#a3d6c6" stroke="#44524e" stroke-width="0.55"/>
<circle cx="90.5" cy="497.85" r="1.85" fill="#a3d6c6" stroke="#44524e" stroke-width="0.55"/>
<circle cx="90.33" cy="490.02" r="1.85" fill="#a3d6c6" stroke="#44524e" stroke-width="0.55"/>
<circle cx="83.68" cy="518.96" r="1.85" fill="#a3d6c6" stroke="#44524e" stroke-width="0.55"/>
<circle cx="90.75" cy="519.1" r="1.85" fill="#a3d6c6" stroke="#44524e" stroke-width="0.55"/>
<circle cx="95.09" cy="478.14" r="1.85" fill="#a3d6c6" stroke="#44524e" stroke-width="0.55"/>
<circle cx="92.23" cy="446.53" r="1.85" fill="#a3d6c6" stroke="#44524e" stroke-width="0.55"/>
<circle cx="88.93" cy="509.97" r="1.85" fill="#a3d6c6" stroke="#44524e" stroke-width="0.55"/>
<circle cx="88.03" cy="516.81" r="1.85" fill="#a3d6c6" stroke="#44524e" stroke-width="0.55"/>
<circle cx="84.84" cy="516.91" r="1.85" fill="#a3d6c6" stroke="#44524e" stroke-width="0.55"/>
<circle cx="99.97" cy="515.1" r="1.85" fill="#a3d6c6" stroke="#44524e" stroke-width="0.55"/>
<circle cx="91.63" cy="471.13" r="1.85" fill="#a3d6c6" stroke="#44524e" stroke-width="0.55"/>
<circle cx="91.41" cy="477.74" r="1.85" fill="#a3d6c6" stroke="#44524e" stroke-width="0.55"/>
<circle cx="92.74" cy="480.13" r="1.85" fill="#a3d6c6" stroke="#44524e" stroke-width="0.55"/>
<circle cx="99.19" cy="524.64" r="1.85" fill="#a3d6c6" stroke="#44524e" stroke-width="0.55"/>
<circle cx="95.74" cy="499.17" r="1.85" fill="#a3d6c6" stroke="#44524e" stroke-width="0.55"/>
<circle cx="85.54" cy="533.75" r="1.85" fill="#a3d6c6" stroke="#44524e" stroke-width="0.55"/>
<circle cx="93.06" cy="494.05" r="1.85" fill="#a3d6c6" stroke="#44524e" stroke-width="0.55"/>
<circle cx="93.17" cy="525.43" r="1.85" fill="#a3d6c6" stroke="#44524e" stroke-width="0.55"/>
<circle cx="83.51" cy="523.66" r="1.85" fill="#a3d6c6" stroke="#44524e" stroke-width="0.55"/>
<circle cx="84.02" cy="518.12" r="1.85" fill="#a3d6c6" stroke="#44524e" stroke-width="0.55"/>
<circle cx="96.09" cy="506.93" r="1.85" fill="#a3d6c6" stroke="#44524e" stroke-width="0.55"/>
<circle cx="87.65" cy="508.55" r="1.85" fill="#a3d6c6" stroke="#44524e" stroke-width="0.55"/>
<circle cx="97.7" cy="521.19" r="1.85" fill="#a3d6c6" stroke="#44524e" stroke-width="0.55"/>
<circle cx="96.28" cy="480.87" r="1.85" fill="#a3d6c6" stroke="#44524e" stroke-width="0.55"/>
<circle cx="92.84" cy="511.09" r="1.85" fill="#a3d6c6" stroke="#44524e" stroke-width="0.55"/>
<circle cx="100.1" cy="516.37" r="1.85" fill="#a3d6c6" stroke="#44524e" stroke-width="0.55"/>
<circle cx="100.28" cy="525.6" r="1.85" fill="#a3d6c6" stroke="#44524e" stroke-width="0.55"/>
<circle cx="90.55" cy="525.2" r="1.85" fill="#a3d6c6" stroke="#44524e" stroke-width="0.55"/>
<circle cx="89.85" cy="478.82" r="1.85" fill="#a3d6c6" stroke="#44524e" stroke-width="0.55"/>
<circle cx="96.88" cy="484.19" r="1.85" fill="#a3d6c6" stroke="#44524e" stroke-width="0.55"/>
<circle cx="83.11" cy="522.34" r="1.85" fill="#a3d6c6" stroke="#44524e" stroke-width="0.55"/>
<circle cx="87.89" cy="536.84" r="1.85" fill="#a3d6c6" stroke="#44524e" stroke-width="0.55"/>
<circle cx="87.6" cy="502.65" r="1.85" fill="#a3d6c6" stroke="#44524e" stroke-width="0.55"/>
<circle cx="93.46" cy="468.55" r="1.85" fill="#a3d6c6" stroke="#44524e" stroke-width="0.55"/>
<circle cx="87.22" cy="526.82" r="1.85" fill="#a3d6c6" stroke="#44524e" stroke-width="0.55"/>
<circle cx="93.54" cy="462.02" r="1.85" fill="#a3d6c6" stroke="#44524e" stroke-width="0.55"/>
<circle cx="92.77" cy="525.11" r="1.85" fill="#a3d6c6" stroke="#44524e" stroke-width="0.55"/>
<circle cx="98.44" cy="494.07" r="1.85" fill="#a3d6c6" stroke="#44524e" stroke-width="0.55"/>
<circle cx="84.12" cy="509.48" r="1.85" fill="#a3d6c6" stroke="#44524e" stroke-width="0.55"/>
<circle cx="95.72" cy="489.38" r="1.85" fill="#a3d6c6" stroke="#44524e" stroke-width="0.55"/>
<circle cx="85.79" cy="515.53" r="1.85" fill="#a3d6c6" stroke="#44524e" stroke-width="0.55"/>
<circle cx="98.89" cy="527.29" r="1.85" fill="#a3d6c6" stroke="#44524e" stroke-width="0.55"/>
<circle cx="91.82" cy="515.89" r="1.85" fill="#a3d6c6" stroke="#44524e" stroke-width="0.55"/>
<circle cx="96.49" cy="495.14" r="1.85" fill="#a3d6c6" stroke="#44524e" stroke-width="0.55"/>
<circle cx="89.71" cy="471.85" r="1.85" fill="#a3d6c6" stroke="#44524e" stroke-width="0.55"/>
<circle cx="95.72" cy="515.74" r="1.85" fill="#a3d6c6" stroke="#44524e" stroke-width="0.55"/>
<circle cx="82.44" cy="528.19" r="1.85" fill="#a3d6c6" stroke="#44524e" stroke-width="0.55"/>
<circle cx="97.77" cy="487.79" r="1.85" fill="#a3d6c6" stroke="#44524e" stroke-width="0.55"/>
<circle cx="94.61" cy="524.9" r="1.85" fill="#a3d6c6" stroke="#44524e" stroke-width="0.55"/>
<circle cx="90.05" cy="496.67" r="1.85" fill="#a3d6c6" stroke="#44524e" stroke-width="0.55"/>
<circle cx="93.15" cy="465.88" r="1.85" fill="#a3d6c6" stroke="#44524e" stroke-width="0.55"/>
<circle cx="90.39" cy="514.99" r="1.85" fill="#a3d6c6" stroke="#44524e" stroke-width="0.55"/>
<circle cx="84.34" cy="528.97" r="1.85" fill="#a3d6c6" stroke="#44524e" stroke-width="0.55"/>
<circle cx="91.01" cy="462.63" r="1.85" fill="#a3d6c6" stroke="#44524e" stroke-width="0.55"/>
<circle cx="96.08" cy="482.22" r="1.85" fill="#a3d6c6" stroke="#44524e" stroke-width="0.55"/>
<circle cx="97.4" cy="508.36" r="1.85" fill="#a3d6c6" stroke="#44524e" stroke-width="0.55"/>
<circle cx="91.46" cy="479.95" r="1.85" fill="#a3d6c6" stroke="#44524e" stroke-width="0.55"/>
<circle cx="84.21" cy="509.77" r="1.85" fill="#a3d6c6" stroke="#44524e" stroke-width="0.55"/>
<circle cx="93.18" cy="473.98" r="1.85" fill="#a3d6c6" stroke="#44524e" stroke-width="0.55"/>
<circle cx="85.17" cy="527.7" r="1.85" fill="#a3d6c6" stroke="#44524e" stroke-width="0.55"/>
<circle cx="93.2" cy="521.32" r="1.85" fill="#a3d6c6" stroke="#44524e" stroke-width="0.55"/>
<circle cx="86.51" cy="515.76" r="1.85" fill="#a3d6c6" stroke="#44524e" stroke-width="0.55"/>
<circle cx="91.58" cy="459.51" r="1.85" fill="#a3d6c6" stroke="#44524e" stroke-width="0.55"/>
<circle cx="93" cy="497.07" r="1.85" fill="#a3d6c6" stroke="#44524e" stroke-width="0.55"/>
<circle cx="84.36" cy="526.86" r="1.85" fill="#a3d6c6" stroke="#44524e" stroke-width="0.55"/>
<circle cx="100.39" cy="527.64" r="1.85" fill="#a3d6c6" stroke="#44524e" stroke-width="0.55"/>
<circle cx="93.15" cy="528.3" r="1.85" fill="#a3d6c6" stroke="#44524e" stroke-width="0.55"/>
<circle cx="92.08" cy="446.29" r="1.85" fill="#a3d6c6" stroke="#44524e" stroke-width="0.55"/>
<circle cx="95.03" cy="509.57" r="1.85" fill="#a3d6c6" stroke="#44524e" stroke-width="0.55"/>
<circle cx="94.01" cy="518.19" r="1.85" fill="#a3d6c6" stroke="#44524e" stroke-width="0.55"/>
<circle cx="85.96" cy="525.37" r="1.85" fill="#a3d6c6" stroke="#44524e" stroke-width="0.55"/>
<circle cx="90.87" cy="488.87" r="1.85" fill="#a3d6c6" stroke="#44524e" stroke-width="0.55"/>
<circle cx="92.47" cy="499.91" r="1.85" fill="#a3d6c6" stroke="#44524e" stroke-width="0.55"/>
<circle cx="100" cy="510.94" r="1.85" fill="#a3d6c6" stroke="#44524e" stroke-width="0.55"/>
<circle cx="90.89" cy="503.23" r="1.85" fill="#a3d6c6" stroke="#44524e" stroke-width="0.55"/>
<circle cx="96.2" cy="505.81" r="1.85" fill="#a3d6c6" stroke="#44524e" stroke-width="0.55"/>
<circle cx="102.24" cy="519.71" r="1.85" fill="#a3d6c6" stroke="#44524e" stroke-width="0.55"/>
<circle cx="90.47" cy="529.12" r="1.85" fill="#a3d6c6" stroke="#44524e" stroke-width="0.55"/>
<circle cx="92.49" cy="536.4" r="1.85" fill="#a3d6c6" stroke="#44524e" stroke-width="0.55"/>
<circle cx="93.59" cy="472.86" r="1.85" fill="#a3d6c6" stroke="#44524e" stroke-width="0.55"/>
<circle cx="91.08" cy="486.58" r="1.85" fill="#a3d6c6" stroke="#44524e" stroke-width="0.55"/>
<circle cx="89.69" cy="495.2" r="1.85" fill="#a3d6c6" stroke="#44524e" stroke-width="0.55"/>
<circle cx="88.42" cy="480.99" r="1.85" fill="#a3d6c6" stroke="#44524e" stroke-width="0.55"/>
<circle cx="90.6" cy="541.37" r="1.85" fill="#a3d6c6" stroke="#44524e" stroke-width="0.55"/>
<circle cx="89.22" cy="526.64" r="1.85" fill="#a3d6c6" stroke="#44524e" stroke-width="0.55"/>
<circle cx="85.48" cy="501.64" r="1.85" fill="#a3d6c6" stroke="#44524e" stroke-width="0.55"/>
<circle cx="92.18" cy="535.67" r="1.85" fill="#a3d6c6" stroke="#44524e" stroke-width="0.55"/>
<circle cx="89.77" cy="489.38" r="1.85" fill="#a3d6c6" stroke="#44524e" stroke-width="0.55"/>
<circle cx="99.9" cy="516.89" r="1.85" fill="#a3d6c6" stroke="#44524e" stroke-width="0.55"/>
<circle cx="86.62" cy="532.52" r="1.85" fill="#a3d6c6" stroke="#44524e" stroke-width="0.55"/>
<circle cx="89.21" cy="486.39" r="1.85" fill="#a3d6c6" stroke="#44524e" stroke-width="0.55"/>
<circle cx="91.56" cy="459.36" r="1.85" fill="#a3d6c6" stroke="#44524e" stroke-width="0.55"/>
<circle cx="88.53" cy="534.14" r="1.85" fill="#a3d6c6" stroke="#44524e" stroke-width="0.55"/>
<circle cx="94.55" cy="510.51" r="1.85" fill="#a3d6c6" stroke="#44524e" stroke-width="0.55"/>
<circle cx="92.53" cy="485.87" r="1.85" fill="#a3d6c6" stroke="#44524e" stroke-width="0.55"/>
<circle cx="93.72" cy="468.93" r="1.85" fill="#a3d6c6" stroke="#44524e" stroke-width="0.55"/>
<circle cx="87.68" cy="520.14" r="1.85" fill="#a3d6c6" stroke="#44524e" stroke-width="0.55"/>
<circle cx="97.51" cy="497.58" r="1.85" fill="#a3d6c6" stroke="#44524e" stroke-width="0.55"/>
<circle cx="92.19" cy="545.37" r="1.85" fill="#a3d6c6" stroke="#44524e" stroke-width="0.55"/>
<circle cx="100.89" cy="519.59" r="1.85" fill="#a3d6c6" stroke="#44524e" stroke-width="0.55"/>
<circle cx="92.89" cy="492.34" r="1.85" fill="#a3d6c6" stroke="#44524e" stroke-width="0.55"/>
<circle cx="94.75" cy="508.11" r="1.85" fill="#a3d6c6" stroke="#44524e" stroke-width="0.55"/>
<circle cx="92.32" cy="523.11" r="1.85" fill="#a3d6c6" stroke="#44524e" stroke-width="0.55"/>
<circle cx="92.57" cy="529.89" r="1.85" fill="#a3d6c6" stroke="#44524e" stroke-width="0.55"/>
<circle cx="93.92" cy="541.43" r="1.85" fill="#a3d6c6" stroke="#44524e" stroke-width="0.55"/>
<circle cx="98.25" cy="522.03" r="1.85" fill="#a3d6c6" stroke="#44524e" stroke-width="0.55"/>
<circle cx="93.4" cy="492.24" r="1.85" fill="#a3d6c6" stroke="#44524e" stroke-width="0.55"/>
<circle cx="99.2" cy="515.69" r="1.85" fill="#a3d6c6" stroke="#44524e" stroke-width="0.55"/>
<circle cx="91.2" cy="457.57" r="1.85" fill="#a3d6c6" stroke="#44524e" stroke-width="0.55"/>
<circle cx="91.48" cy="491.93" r="1.85" fill="#a3d6c6" stroke="#44524e" stroke-width="0.55"/>
<circle cx="96.23" cy="499.84" r="1.85" fill="#a3d6c6" stroke="#44524e" stroke-width="0.55"/>
<circle cx="91.53" cy="463.87" r="1.85" fill="#a3d6c6" stroke="#44524e" stroke-width="0.55"/>
<circle cx="88.57" cy="505.52" r="1.85" fill="#a3d6c6" stroke="#44524e" stroke-width="0.55"/>
<circle cx="96.82" cy="501.99" r="1.85" fill="#a3d6c6" stroke="#44524e" stroke-width="0.55"/>
<circle cx="83.47" cy="528.32" r="1.85" fill="#a3d6c6" stroke="#44524e" stroke-width="0.55"/>
<circle cx="89.54" cy="482.64" r="1.85" fill="#a3d6c6" stroke="#44524e" stroke-width="0.55"/>
<circle cx="92.17" cy="543.5" r="1.85" fill="#a3d6c6" stroke="#44524e" stroke-width="0.55"/>
<circle cx="87.01" cy="518.98" r="1.85" fill="#a3d6c6" stroke="#44524e" stroke-width="0.55"/>
<circle cx="90.81" cy="534.75" r="1.85" fill="#a3d6c6" stroke="#44524e" stroke-width="0.55"/>
<circle cx="92.38" cy="446.31" r="1.85" fill="#a3d6c6" stroke="#44524e" stroke-width="0.55"/>
<circle cx="86.59" cy="520.97" r="1.85" fill="#a3d6c6" stroke="#44524e" stroke-width="0.55"/>
<circle cx="90.79" cy="539.36" r="1.85" fill="#a3d6c6" stroke="#44524e" stroke-width="0.55"/>
<circle cx="96.15" cy="488.28" r="1.85" fill="#a3d6c6" stroke="#44524e" stroke-width="0.55"/>
<circle cx="88.59" cy="477.44" r="1.85" fill="#a3d6c6" stroke="#44524e" stroke-width="0.55"/>
<circle cx="89.59" cy="515.74" r="1.85" fill="#a3d6c6" stroke="#44524e" stroke-width="0.55"/>
<circle cx="90.84" cy="494.45" r="1.85" fill="#a3d6c6" stroke="#44524e" stroke-width="0.55"/>
<circle cx="90.96" cy="463.9" r="1.85" fill="#a3d6c6" stroke="#44524e" stroke-width="0.55"/>
<circle cx="89.45" cy="502.72" r="1.85" fill="#a3d6c6" stroke="#44524e" stroke-width="0.55"/>
<circle cx="87.25" cy="510.41" r="1.85" fill="#a3d6c6" stroke="#44524e" stroke-width="0.55"/>
<circle cx="95.55" cy="482.06" r="1.85" fill="#a3d6c6" stroke="#44524e" stroke-width="0.55"/>
<circle cx="89.02" cy="475.5" r="1.85" fill="#a3d6c6" stroke="#44524e" stroke-width="0.55"/>
<circle cx="97.05" cy="506.52" r="1.85" fill="#a3d6c6" stroke="#44524e" stroke-width="0.55"/>
<circle cx="94.24" cy="532.39" r="1.85" fill="#a3d6c6" stroke="#44524e" stroke-width="0.55"/>
<circle cx="91.19" cy="480.66" r="1.85" fill="#a3d6c6" stroke="#44524e" stroke-width="0.55"/>
<circle cx="91.73" cy="468.42" r="1.85" fill="#a3d6c6" stroke="#44524e" stroke-width="0.55"/>
<circle cx="94.17" cy="489.66" r="1.85" fill="#a3d6c6" stroke="#44524e" stroke-width="0.55"/>
<circle cx="91.63" cy="464.07" r="1.85" fill="#a3d6c6" stroke="#44524e" stroke-width="0.55"/>
<circle cx="93.01" cy="483.9" r="1.85" fill="#a3d6c6" stroke="#44524e" stroke-width="0.55"/>
<line x1="83.6" y1="510" x2="102.2" y2="510" stroke="#a33" stroke-width="1.1" />
<text x="160" y="413.5" font-size="24" font-weight="bold" fill="#000" >h</text>
<line x1="191.8" y1="428.7" x2="191.8" y2="565.7" stroke="#4a4a4a" stroke-width="1" />
<line x1="188.4" y1="565.2" x2="191.8" y2="565.2" stroke="#4a4a4a" stroke-width="1" />
<text x="187.6" y="568.46" font-size="9.3" text-anchor="end" fill="#111" stroke="#111" stroke-width="0.22" >0</text>
<line x1="188.4" y1="531.2" x2="191.8" y2="531.2" stroke="#4a4a4a" stroke-width="1" />
<text x="187.6" y="534.46" font-size="9.3" text-anchor="end" fill="#111" stroke="#111" stroke-width="0.22" >20</text>
<line x1="188.4" y1="497.2" x2="191.8" y2="497.2" stroke="#4a4a4a" stroke-width="1" />
<text x="187.6" y="500.46" font-size="9.3" text-anchor="end" fill="#111" stroke="#111" stroke-width="0.22" >40</text>
<line x1="188.4" y1="463.2" x2="191.8" y2="463.2" stroke="#4a4a4a" stroke-width="1" />
<text x="187.6" y="466.46" font-size="9.3" text-anchor="end" fill="#111" stroke="#111" stroke-width="0.22" >60</text>
<line x1="188.4" y1="429.2" x2="191.8" y2="429.2" stroke="#4a4a4a" stroke-width="1" />
<text x="187.6" y="432.46" font-size="9.3" text-anchor="end" fill="#111" stroke="#111" stroke-width="0.22" >80</text>
<line x1="191.3" y1="565.2" x2="262.2" y2="565.2" stroke="#4a4a4a" stroke-width="1" />
<line x1="209.7" y1="565.2" x2="209.7" y2="568.4" stroke="#4a4a4a" stroke-width="1" />
<line x1="245.5" y1="565.2" x2="245.5" y2="568.4" stroke="#4a4a4a" stroke-width="1" />
<rect x="197.8" y="470.85" width="23.9" height="94.35" fill="#ebebeb" stroke="#555" stroke-width="1" />
<rect x="233.6" y="504.85" width="23.9" height="60.35" fill="#cfe3d9" stroke="#555" stroke-width="1" />
<line x1="209.7" y1="478.8" x2="209.7" y2="462.6" stroke="#444" stroke-width="1" />
<line x1="204.35" y1="462.6" x2="215.05" y2="462.6" stroke="#444" stroke-width="1" />
<line x1="204.35" y1="478.8" x2="215.05" y2="478.8" stroke="#444" stroke-width="1" />
<line x1="245.5" y1="512.2" x2="245.5" y2="497.8" stroke="#444" stroke-width="1" />
<line x1="240.15" y1="497.8" x2="250.85" y2="497.8" stroke="#444" stroke-width="1" />
<line x1="240.15" y1="512.2" x2="250.85" y2="512.2" stroke="#444" stroke-width="1" />
<circle cx="209.6" cy="455.8" r="2.4" fill="#858585" stroke="#555" stroke-width="0.6"/>
<circle cx="209.6" cy="471.7" r="2.4" fill="#858585" stroke="#555" stroke-width="0.6"/>
<circle cx="209.6" cy="483.9" r="2.4" fill="#858585" stroke="#555" stroke-width="0.6"/>
<circle cx="245.4" cy="491" r="2.4" fill="#3d9a78" stroke="#2a5a48" stroke-width="0.6"/>
<circle cx="239.4" cy="508.6" r="2.4" fill="#3d9a78" stroke="#2a5a48" stroke-width="0.6"/>
<circle cx="251.6" cy="515.5" r="2.4" fill="#3d9a78" stroke="#2a5a48" stroke-width="0.6"/>
<path d="M245.8,482.1L245.8,485.5M244.33,482.95L247.27,484.65M247.27,482.95L244.33,484.65" stroke="#111" stroke-width="0.9" stroke-linecap="butt" fill="none"/>
<text x="209.7" y="578" font-size="9" text-anchor="middle" fill="#111" stroke="#111" stroke-width="0.22" >siCT</text>
<text x="245.5" y="578" font-size="9" text-anchor="middle" fill="#111" stroke="#111" stroke-width="0.22" >siArp</text>
<text x="171.6" y="497.4" font-size="10.1" text-anchor="middle" fill="#111" transform="rotate(-90 171.6 497.4)" stroke="#111" stroke-width="0.22" >C. albicans folding (%)</text>
<text x="299.3" y="413.2" font-size="24" font-weight="bold" fill="#000" >i</text>
<line x1="340.6" y1="424.46" x2="340.6" y2="566.7" stroke="#4a4a4a" stroke-width="1" />
<line x1="337.2" y1="566.2" x2="340.6" y2="566.2" stroke="#4a4a4a" stroke-width="1" />
<text x="337.1" y="569.46" font-size="9.3" text-anchor="end" fill="#111" stroke="#111" stroke-width="0.22" >0</text>
<line x1="337.2" y1="542.66" x2="340.6" y2="542.66" stroke="#4a4a4a" stroke-width="1" />
<text x="337.1" y="545.92" font-size="9.3" text-anchor="end" fill="#111" stroke="#111" stroke-width="0.22" >20</text>
<line x1="337.2" y1="519.12" x2="340.6" y2="519.12" stroke="#4a4a4a" stroke-width="1" />
<text x="337.1" y="522.38" font-size="9.3" text-anchor="end" fill="#111" stroke="#111" stroke-width="0.22" >40</text>
<line x1="337.2" y1="495.58" x2="340.6" y2="495.58" stroke="#4a4a4a" stroke-width="1" />
<text x="337.1" y="498.84" font-size="9.3" text-anchor="end" fill="#111" stroke="#111" stroke-width="0.22" >60</text>
<line x1="337.2" y1="472.04" x2="340.6" y2="472.04" stroke="#4a4a4a" stroke-width="1" />
<text x="337.1" y="475.3" font-size="9.3" text-anchor="end" fill="#111" stroke="#111" stroke-width="0.22" >80</text>
<line x1="337.2" y1="448.5" x2="340.6" y2="448.5" stroke="#4a4a4a" stroke-width="1" />
<text x="337.1" y="451.76" font-size="9.3" text-anchor="end" fill="#111" stroke="#111" stroke-width="0.22" >100</text>
<line x1="337.2" y1="424.96" x2="340.6" y2="424.96" stroke="#4a4a4a" stroke-width="1" />
<text x="337.1" y="428.22" font-size="9.3" text-anchor="end" fill="#111" stroke="#111" stroke-width="0.22" >120</text>
<line x1="340" y1="566.2" x2="439" y2="566.2" stroke="#4a4a4a" stroke-width="1" />
<line x1="365.4" y1="566.2" x2="365.4" y2="569.4" stroke="#4a4a4a" stroke-width="1" />
<line x1="414.2" y1="566.2" x2="414.2" y2="569.4" stroke="#4a4a4a" stroke-width="1" />
<rect x="349.3" y="513.24" width="32" height="52.97" fill="#d6d6d6" stroke="#555" stroke-width="0.9" />
<rect x="349.3" y="468.51" width="32" height="44.73" fill="#68a486" stroke="#555" stroke-width="0.9" />
<rect x="349.3" y="448.5" width="32" height="20.01" fill="#146a43" stroke="#555" stroke-width="0.9" />
<rect x="398.6" y="492.05" width="31.8" height="74.15" fill="#d6d6d6" stroke="#555" stroke-width="0.9" />
<rect x="398.6" y="473.22" width="31.8" height="18.83" fill="#68a486" stroke="#555" stroke-width="0.9" />
<rect x="398.6" y="448.5" width="31.8" height="24.72" fill="#146a43" stroke="#555" stroke-width="0.9" />
<line x1="365.4" y1="448.5" x2="365.4" y2="445.56" stroke="#444" stroke-width="1" />
<line x1="357.4" y1="445.56" x2="373.4" y2="445.56" stroke="#444" stroke-width="1" />
<line x1="414.5" y1="448.5" x2="414.5" y2="444.73" stroke="#444" stroke-width="1" />
<line x1="406.5" y1="444.73" x2="422.5" y2="444.73" stroke="#444" stroke-width="1" />
<line x1="365.4" y1="468.51" x2="365.4" y2="460.8" stroke="#222" stroke-width="1" />
<line x1="357.9" y1="460.8" x2="372.9" y2="460.8" stroke="#222" stroke-width="1" />
<line x1="414.5" y1="473.22" x2="414.5" y2="468.4" stroke="#222" stroke-width="1" />
<line x1="407" y1="468.4" x2="422" y2="468.4" stroke="#222" stroke-width="1" />
<path d="M412.2,458.6L412.2,462.4M410.55,459.55L413.85,461.45M413.85,459.55L410.55,461.45M416.8,458.6L416.8,462.4M415.15,459.55L418.45,461.45M418.45,459.55L415.15,461.45" stroke="#111" stroke-width="1.2" stroke-linecap="butt" fill="none"/>
<path d="M414.5,480.7L414.5,483.9M413.11,481.5L415.89,483.1M415.89,481.5L413.11,483.1" stroke="#111" stroke-width="1" stroke-linecap="butt" fill="none"/>
<text x="365.8" y="578.6" font-size="9.6" text-anchor="middle" fill="#111" stroke="#111" stroke-width="0.22" >siCT</text>
<text x="414.3" y="578.6" font-size="9.6" text-anchor="middle" fill="#111" stroke="#111" stroke-width="0.22" >siArp</text>
<text x="316.4" y="496.6" font-size="9.6" text-anchor="middle" fill="#111" transform="rotate(-90 316.4 496.6)" stroke="#111" stroke-width="0.22" >Folding angle (% of total)</text>
<rect x="340" y="586.8" width="13" height="6.1" fill="#146a43" stroke="#555" stroke-width="0.8" />
<text x="359.6" y="593" font-size="9.9" fill="#111" stroke="#111" stroke-width="0.22" >high fold</text>
<rect x="408.4" y="586.8" width="13" height="6.1" fill="#68a486" stroke="#555" stroke-width="0.8" />
<text x="428.5" y="593" font-size="9.9" fill="#111" stroke="#111" stroke-width="0.22" >low fold</text>
<rect x="340" y="602.5" width="13" height="6.8" fill="#d6d6d6" stroke="#555" stroke-width="0.8" />
<text x="359.6" y="609.4" font-size="9.9" fill="#111" stroke="#111" stroke-width="0.22" >none</text>
<text x="457.5" y="413" font-size="24" font-weight="bold" fill="#000" >j</text>
<rect x="475" y="425" width="127.5" height="16" fill="#000" />
<text x="538.6" y="438.4" font-size="14.5" text-anchor="middle" fill="#fff" >siCT</text>
<svg x="475" y="444" width="127.5" height="125.5" viewBox="475 444 127.5 125.5" overflow="hidden">
<rect x="475" y="444" width="127.5" height="125.5" fill="#000" />
<path d="M490,499 L490.67,498.67 L491.53,498.5 L492.55,498.46 L493.7,498.51 L494.93,498.61 L496.22,498.71 L497.54,498.8 L498.85,498.81 L500.11,498.73 L501.3,498.5 L502.45,498.14 L503.61,497.68 L504.79,497.15 L505.97,496.56 L507.14,495.93 L508.31,495.27 L509.47,494.62 L510.61,493.97 L511.72,493.36 L512.8,492.8 L513.84,492.29 L514.84,491.81 L515.81,491.35 L516.77,490.9 L517.71,490.46 L518.65,490 L519.6,489.53 L520.56,489.03 L521.56,488.49 L522.6,487.9 L523.67,487.24 L524.77,486.51 L525.9,485.73 L527.04,484.91 L528.19,484.08 L529.35,483.26 L530.51,482.48 L531.68,481.74 L532.84,481.07 L534,480.5 L535.15,480.01 L536.28,479.59 L537.42,479.22 L538.55,478.89 L539.69,478.61 L540.84,478.35 L542,478.12 L543.18,477.91 L544.38,477.7 L545.6,477.5 L546.88,477.29 L548.23,477.07 L549.63,476.85 L551.05,476.65 L552.47,476.48 L553.86,476.34 L555.21,476.25 L556.48,476.22 L557.65,476.27 L558.7,476.4 L559.6,476.62 L560.37,476.93 L561.03,477.32 L561.62,477.76 L562.16,478.26 L562.68,478.79 L563.22,479.34 L563.79,479.9 L564.45,480.46 L565.2,481 L566.05,481.53 L566.95,482.08 L567.89,482.63 L568.87,483.2 L569.88,483.79 L570.91,484.39 L571.94,485.01 L572.97,485.65 L574,486.31 L575,487 L576.02,487.71 L577.1,488.46 L578.2,489.22 L579.31,490.01 L580.41,490.81 L581.48,491.63 L582.49,492.46 L583.43,493.3 L584.27,494.15 L585,495 L585.63,495.87 L586.19,496.78 L586.69,497.72 L587.12,498.67 L587.49,499.62 L587.78,500.57 L588,501.49 L588.14,502.38 L588.21,503.22 L588.2,504 L588.09,504.74 L587.86,505.44 L587.53,506.12 L587.12,506.76 L586.65,507.38 L586.14,507.96 L585.6,508.51 L585.05,509.04 L584.51,509.54 L584,510 L583.52,510.41 L583.04,510.74 L582.56,511.03 L582.07,511.27 L581.56,511.5 L581.02,511.73 L580.44,511.97 L579.82,512.26 L579.14,512.59 L578.4,513 L577.59,513.48 L576.72,514 L575.8,514.56 L574.83,515.16 L573.82,515.77 L572.78,516.41 L571.72,517.06 L570.65,517.71 L569.57,518.36 L568.5,519 L567.41,519.65 L566.3,520.33 L565.16,521.04 L564.01,521.76 L562.84,522.47 L561.67,523.17 L560.49,523.84 L559.32,524.48 L558.15,525.07 L557,525.6 L555.86,526.09 L554.72,526.55 L553.58,526.99 L552.44,527.4 L551.31,527.77 L550.17,528.1 L549.03,528.38 L547.89,528.61 L546.75,528.79 L545.6,528.9 L544.43,528.95 L543.24,528.93 L542.02,528.86 L540.8,528.73 L539.59,528.56 L538.39,528.35 L537.22,528.1 L536.09,527.82 L535.02,527.52 L534,527.2 L533.05,526.85 L532.15,526.45 L531.29,526.02 L530.48,525.55 L529.69,525.06 L528.93,524.54 L528.19,524 L527.46,523.44 L526.73,522.87 L526,522.3 L525.27,521.7 L524.55,521.07 L523.85,520.4 L523.16,519.72 L522.48,519.02 L521.82,518.32 L521.17,517.63 L520.53,516.96 L519.91,516.31 L519.3,515.7 L518.75,515.1 L518.27,514.5 L517.85,513.9 L517.45,513.32 L517.04,512.75 L516.61,512.21 L516.11,511.71 L515.53,511.25 L514.84,510.84 L514,510.5 L513,510.24 L511.86,510.06 L510.6,509.94 L509.26,509.87 L507.86,509.83 L506.43,509.81 L505,509.78 L503.6,509.73 L502.25,509.64 L501,509.5 L499.77,509.34 L498.5,509.18 L497.21,509.03 L495.93,508.87 L494.69,508.69 L493.51,508.47 L492.43,508.2 L491.46,507.88 L490.65,507.48 L490,507 L489.5,506.39 L489.12,505.63 L488.84,504.77 L488.67,503.84 L488.61,502.88 L488.66,501.92 L488.82,501.02 L489.1,500.21 L489.49,499.52Z" fill="none" stroke="#e01a1a" stroke-width="1.5" stroke-dasharray="2.5 1.2 1 1.8 3.5 1" filter="url(#bl03)"/>
<g filter="url(#bl03)">
<circle cx="573.19" cy="517.3" r="1.58" fill="#e01a1a"/>
<circle cx="568.95" cy="485.73" r="1.03" fill="#e01a1a"/>
<circle cx="587.06" cy="496.49" r="1.67" fill="#e01a1a"/>
<circle cx="578.41" cy="488.63" r="1.3" fill="#e01a1a"/>
<circle cx="532.3" cy="526.74" r="1.45" fill="#e01a1a"/>
<circle cx="524.62" cy="485.35" r="0.78" fill="#e01a1a"/>
<circle cx="486.57" cy="505.2" r="1.2" fill="#e01a1a"/>
<circle cx="510.09" cy="508.09" r="1.42" fill="#e01a1a"/>
<circle cx="537.14" cy="529.53" r="0.57" fill="#e01a1a"/>
<circle cx="504.41" cy="496.14" r="1.1" fill="#e01a1a"/>
<circle cx="516.81" cy="488.21" r="0.95" fill="#e01a1a"/>
<circle cx="517.43" cy="489.98" r="0.91" fill="#e01a1a"/>
<circle cx="520.16" cy="487.15" r="0.44" fill="#e01a1a"/>
<circle cx="574.49" cy="518.09" r="0.65" fill="#e01a1a"/>
<circle cx="510.1" cy="494.38" r="1.29" fill="#e01a1a"/>
<circle cx="525.16" cy="524.8" r="0.44" fill="#e01a1a"/>
<circle cx="488.85" cy="500.22" r="0.89" fill="#e01a1a"/>
<circle cx="535.83" cy="477.43" r="1.66" fill="#e01a1a"/>
<circle cx="569.16" cy="518.04" r="1.53" fill="#e01a1a"/>
<circle cx="519.49" cy="517.96" r="0.56" fill="#e01a1a"/>
<circle cx="496.15" cy="497.68" r="0.67" fill="#e01a1a"/>
<circle cx="488.77" cy="501.34" r="0.82" fill="#e01a1a"/>
<circle cx="511.67" cy="494.42" r="0.54" fill="#e01a1a"/>
<circle cx="586.67" cy="505.75" r="1.6" fill="#e01a1a"/>
<circle cx="532.33" cy="480.74" r="1.18" fill="#e01a1a"/>
<circle cx="533.26" cy="481.59" r="0.62" fill="#e01a1a"/>
<circle cx="490.11" cy="500.72" r="0.7" fill="#e01a1a"/>
<circle cx="577.82" cy="510.93" r="0.9" fill="#e01a1a"/>
<circle cx="519.46" cy="512.31" r="1.38" fill="#e01a1a"/>
<circle cx="494.63" cy="509.73" r="0.84" fill="#e01a1a"/>
<circle cx="575.06" cy="515.86" r="1.23" fill="#e01a1a"/>
<circle cx="541.16" cy="528.96" r="1.64" fill="#e01a1a"/>
<circle cx="488.88" cy="509.31" r="1.28" fill="#e01a1a"/>
<circle cx="567.51" cy="480.93" r="0.78" fill="#e01a1a"/>
<circle cx="527.14" cy="483.65" r="1.1" fill="#e01a1a"/>
<circle cx="528.69" cy="522.6" r="0.8" fill="#e01a1a"/>
<circle cx="518.1" cy="516.03" r="0.73" fill="#e01a1a"/>
<circle cx="547.3" cy="528.96" r="1.06" fill="#e01a1a"/>
<circle cx="503.59" cy="511.32" r="1.36" fill="#e01a1a"/>
<circle cx="583.74" cy="512.52" r="0.87" fill="#e01a1a"/>
<circle cx="537.24" cy="529.45" r="0.68" fill="#e01a1a"/>
<circle cx="588.15" cy="498.23" r="0.77" fill="#e01a1a"/>
<circle cx="545.52" cy="526.46" r="1.01" fill="#e01a1a"/>
<circle cx="530.59" cy="480.45" r="0.65" fill="#e01a1a"/>
<circle cx="514.25" cy="490.73" r="1.1" fill="#e01a1a"/>
<circle cx="566.74" cy="482.45" r="0.44" fill="#e01a1a"/>
<circle cx="541.65" cy="527.84" r="0.82" fill="#e01a1a"/>
<circle cx="535.99" cy="528.26" r="0.9" fill="#e01a1a"/>
<circle cx="488.65" cy="506.39" r="1.47" fill="#e01a1a"/>
<circle cx="545.77" cy="530.43" r="1.13" fill="#e01a1a"/>
<circle cx="524.67" cy="523.39" r="0.47" fill="#e01a1a"/>
<circle cx="499.59" cy="499.55" r="0.55" fill="#e01a1a"/>
<circle cx="535.24" cy="526.93" r="1.45" fill="#e01a1a"/>
<circle cx="554.7" cy="475.2" r="1.11" fill="#e01a1a"/>
<circle cx="492.68" cy="508.52" r="0.5" fill="#e01a1a"/>
<circle cx="580.84" cy="495.15" r="0.92" fill="#e01a1a"/>
<circle cx="514.72" cy="492.35" r="0.66" fill="#e01a1a"/>
<circle cx="552.08" cy="476.03" r="1.46" fill="#e01a1a"/>
<circle cx="511.32" cy="512.08" r="1.57" fill="#e01a1a"/>
<circle cx="556.76" cy="475.01" r="0.54" fill="#e01a1a"/>
<circle cx="488.37" cy="506.32" r="0.43" fill="#e01a1a"/>
<circle cx="489.34" cy="505.42" r="0.61" fill="#e01a1a"/>
<circle cx="490.51" cy="507.05" r="1.3" fill="#e01a1a"/>
<circle cx="540.32" cy="529" r="0.79" fill="#e01a1a"/>
<circle cx="528" cy="485.63" r="0.46" fill="#e01a1a"/>
<circle cx="559.61" cy="476.58" r="0.41" fill="#e01a1a"/>
<circle cx="531.81" cy="527.6" r="0.6" fill="#e01a1a"/>
<circle cx="517.64" cy="491.46" r="1.14" fill="#e01a1a"/>
<circle cx="583.01" cy="492.68" r="1.19" fill="#e01a1a"/>
<circle cx="514.69" cy="512.52" r="1.55" fill="#e01a1a"/>
<circle cx="554.6" cy="525.08" r="1.56" fill="#e01a1a"/>
<circle cx="547.46" cy="475.94" r="1.34" fill="#e01a1a"/>
<circle cx="559.59" cy="477.26" r="1.57" fill="#e01a1a"/>
<circle cx="528.32" cy="482.27" r="0.72" fill="#e01a1a"/>
<circle cx="540.4" cy="531.03" r="0.49" fill="#e01a1a"/>
<circle cx="587.96" cy="502.55" r="0.74" fill="#e01a1a"/>
<circle cx="586.95" cy="494.38" r="1.51" fill="#e01a1a"/>
<circle cx="586.32" cy="496.49" r="0.48" fill="#e01a1a"/>
<circle cx="563.76" cy="522.86" r="0.71" fill="#e01a1a"/>
<circle cx="568.57" cy="483.92" r="1.4" fill="#e01a1a"/>
<circle cx="554.82" cy="478.61" r="1.7" fill="#e01a1a"/>
<circle cx="557.82" cy="522.88" r="1.32" fill="#e01a1a"/>
<circle cx="588.58" cy="502.37" r="1.55" fill="#e01a1a"/>
<circle cx="510.36" cy="510.54" r="0.5" fill="#e01a1a"/>
<circle cx="580.18" cy="511.72" r="0.95" fill="#e01a1a"/>
<circle cx="588.97" cy="504.46" r="1.28" fill="#e01a1a"/>
<circle cx="511.78" cy="495.13" r="1.67" fill="#e01a1a"/>
<circle cx="532.88" cy="481.55" r="1.05" fill="#e01a1a"/>
<circle cx="546.86" cy="528.73" r="1.7" fill="#e01a1a"/>
<circle cx="516.22" cy="511.76" r="1.6" fill="#e01a1a"/>
<circle cx="539.19" cy="477.5" r="1.7" fill="#e01a1a"/>
<circle cx="586.18" cy="499.79" r="0.42" fill="#e01a1a"/>
<circle cx="497.33" cy="498.9" r="1.05" fill="#e01a1a"/>
<circle cx="519.42" cy="493.12" r="1.7" fill="#e01a1a"/>
<circle cx="549.64" cy="475.73" r="0.97" fill="#e01a1a"/>
<circle cx="493.41" cy="508.21" r="1.44" fill="#e01a1a"/>
<circle cx="583.52" cy="511.75" r="1.54" fill="#e01a1a"/>
<circle cx="489.28" cy="499.16" r="1.07" fill="#e01a1a"/>
<circle cx="550.81" cy="477.12" r="1.33" fill="#e01a1a"/>
<circle cx="518.17" cy="515.36" r="1.48" fill="#e01a1a"/>
<circle cx="578.93" cy="489.4" r="0.55" fill="#e01a1a"/>
<circle cx="518.07" cy="512.61" r="0.42" fill="#e01a1a"/>
<circle cx="507.71" cy="509.9" r="1.23" fill="#e01a1a"/>
<circle cx="579.93" cy="489.76" r="1.13" fill="#e01a1a"/>
<circle cx="523.48" cy="519.23" r="1.59" fill="#e01a1a"/>
<circle cx="523.86" cy="520.86" r="0.48" fill="#e01a1a"/>
<circle cx="564.08" cy="522.22" r="0.84" fill="#e01a1a"/>
<circle cx="510.73" cy="511.07" r="0.92" fill="#e01a1a"/>
<circle cx="499.92" cy="510.06" r="0.66" fill="#e01a1a"/>
<circle cx="536.34" cy="478.14" r="0.73" fill="#e01a1a"/>
<circle cx="578.69" cy="491.88" r="0.5" fill="#e01a1a"/>
<circle cx="533.07" cy="480.17" r="1.44" fill="#e01a1a"/>
<circle cx="540.39" cy="529.75" r="0.59" fill="#e01a1a"/>
<circle cx="553.71" cy="526.12" r="1.23" fill="#e01a1a"/>
<circle cx="539.81" cy="478.98" r="0.42" fill="#e01a1a"/>
<circle cx="546.76" cy="476.1" r="1.05" fill="#e01a1a"/>
<circle cx="527.76" cy="523.7" r="0.64" fill="#e01a1a"/>
<circle cx="549.67" cy="528.02" r="0.82" fill="#e01a1a"/>
<circle cx="532.66" cy="527.01" r="0.81" fill="#e01a1a"/>
<circle cx="498.37" cy="508.16" r="1.55" fill="#e01a1a"/>
</g>
<circle cx="559" cy="474" r="1.8" fill="#e81c1c" filter="url(#bl03)"/>
<circle cx="553" cy="472.5" r="1.2" fill="#e81c1c" filter="url(#bl03)"/>
<circle cx="571" cy="481" r="1.4" fill="#e81c1c" filter="url(#bl03)"/>
<circle cx="585" cy="492" r="1.6" fill="#e81c1c" filter="url(#bl03)"/>
<circle cx="587" cy="502" r="2" fill="#e81c1c" filter="url(#bl03)"/>
<circle cx="586" cy="507" r="1.8" fill="#e81c1c" filter="url(#bl03)"/>
<circle cx="546" cy="476" r="1.2" fill="#e81c1c" filter="url(#bl03)"/>
<circle cx="538" cy="478" r="1.3" fill="#e81c1c" filter="url(#bl03)"/>
<circle cx="560" cy="521" r="1.4" fill="#e81c1c" filter="url(#bl03)"/>
<path d="M507,510 C503,515 503,521 507,526.5 C512,524 515,518 513,511" fill="none" stroke="#f41c1c" stroke-width="2" filter="url(#bl03)"/>
<g fill="none" stroke-linecap="round" filter="url(#bl03)">
<path d="M497,503 C525,502.5 555,502 585,501.2" stroke="#d8d8d8" stroke-width="1.1"/>
<path d="M497,508.5 C525,508 550,506.5 579,505" stroke="#c4c4c4" stroke-width="1.1"/>
<path d="M573,497 C567,496.5 564.5,492 566,488 C567.5,485 572,485.5 577,488.5 C581,491 584.5,494 582,496 C579,497.5 576,497 573,497" stroke="#f4f4f4" stroke-width="1.9"/>
</g>
<path d="M500,500 C494,499 490,501 490.5,504.5 C491,508 496,509 500.5,508" fill="none" stroke="#fff" stroke-width="2.6" filter="url(#bl03)"/>
<ellipse cx="494" cy="504" rx="3" ry="2.5" fill="#e8e8e8" filter="url(#bl03)"/>
<circle cx="529.93" cy="508.8" r="0.3" fill="#aaa"/>
<circle cx="580.68" cy="516.89" r="0.6" fill="#aaa"/>
<circle cx="525.28" cy="491.98" r="0.32" fill="#aaa"/>
<circle cx="519.92" cy="484.97" r="0.51" fill="#aaa"/>
<circle cx="533.16" cy="516.62" r="0.53" fill="#aaa"/>
<circle cx="531.9" cy="490.67" r="0.4" fill="#aaa"/>
<circle cx="507.33" cy="509.93" r="0.36" fill="#aaa"/>
<circle cx="516.45" cy="519.54" r="0.43" fill="#aaa"/>
<circle cx="577.85" cy="523.21" r="0.5" fill="#aaa"/>
<circle cx="524.23" cy="489.91" r="0.37" fill="#aaa"/>
<circle cx="561.72" cy="504.47" r="0.39" fill="#aaa"/>
<circle cx="506.34" cy="498.04" r="0.42" fill="#aaa"/>
<circle cx="510.34" cy="493.98" r="0.39" fill="#aaa"/>
<circle cx="537.03" cy="503.76" r="0.47" fill="#aaa"/>
<circle cx="570.42" cy="495.8" r="0.33" fill="#aaa"/>
<circle cx="528.34" cy="492.64" r="0.47" fill="#aaa"/>
<circle cx="541.67" cy="496.84" r="0.33" fill="#aaa"/>
<circle cx="562.83" cy="508.96" r="0.49" fill="#aaa"/>
<circle cx="559.13" cy="518.2" r="0.31" fill="#aaa"/>
<circle cx="519.54" cy="502.87" r="0.51" fill="#aaa"/>
<circle cx="543.82" cy="504.2" r="0.39" fill="#aaa"/>
<circle cx="523.77" cy="518.96" r="0.59" fill="#aaa"/>
<circle cx="543.48" cy="502.7" r="0.34" fill="#aaa"/>
<circle cx="551.29" cy="492.47" r="0.49" fill="#aaa"/>
<circle cx="526.44" cy="502.69" r="0.56" fill="#aaa"/>
<circle cx="529.01" cy="505.4" r="0.4" fill="#aaa"/>
<circle cx="542.39" cy="518.69" r="0.45" fill="#aaa"/>
<circle cx="579.28" cy="500.31" r="0.44" fill="#aaa"/>
<circle cx="554.66" cy="504.04" r="0.5" fill="#aaa"/>
<circle cx="527.37" cy="484.54" r="0.43" fill="#aaa"/>
<circle cx="509.96" cy="493.93" r="0.48" fill="#aaa"/>
<circle cx="558.15" cy="520.39" r="0.5" fill="#aaa"/>
<circle cx="547.76" cy="497.77" r="0.44" fill="#aaa"/>
<circle cx="527.19" cy="488.1" r="0.46" fill="#aaa"/>
<circle cx="553.58" cy="496.3" r="0.52" fill="#aaa"/>
<circle cx="545.8" cy="496.37" r="0.56" fill="#aaa"/>
<circle cx="506.7" cy="494.75" r="0.4" fill="#aaa"/>
<circle cx="556.8" cy="494.11" r="0.59" fill="#aaa"/>
<circle cx="513.1" cy="502" r="0.44" fill="#aaa"/>
<circle cx="562.32" cy="494.17" r="0.35" fill="#aaa"/>
<circle cx="562.3" cy="515.49" r="0.47" fill="#aaa"/>
<circle cx="574.53" cy="499.8" r="0.43" fill="#aaa"/>
<circle cx="543.39" cy="489.08" r="0.55" fill="#aaa"/>
<circle cx="509.76" cy="487.09" r="0.57" fill="#aaa"/>
<circle cx="539.79" cy="489.84" r="0.57" fill="#aaa"/>
<line x1="565.4" y1="566.4" x2="598.2" y2="566.4" stroke="#c8c8c8" stroke-width="1.4" />
</svg>
<rect x="605.7" y="425" width="126.3" height="16" fill="#000" />
<text x="669.3" y="438.4" font-size="14.5" text-anchor="middle" fill="#fff" >siArp2</text>
<svg x="605.7" y="444" width="126.3" height="125.5" viewBox="605.7 444 126.3 125.5" overflow="hidden">
<rect x="605.7" y="444" width="126.3" height="125.5" fill="#000" />
<path d="M612.6,474 L613.76,474.16 L615.26,474.36 L617.04,474.61 L619.03,474.89 L621.18,475.19 L623.41,475.49 L625.67,475.78 L627.9,476.06 L630.03,476.3 L632,476.5 L633.86,476.67 L635.69,476.83 L637.5,476.97 L639.3,477.1 L641.09,477.22 L642.87,477.32 L644.64,477.39 L646.42,477.45 L648.21,477.49 L650,477.5 L651.83,477.44 L653.7,477.29 L655.59,477.08 L657.49,476.84 L659.38,476.59 L661.23,476.38 L663.04,476.24 L664.78,476.19 L666.44,476.26 L668,476.5 L669.44,476.89 L670.78,477.42 L672.04,478.05 L673.23,478.77 L674.38,479.56 L675.49,480.41 L676.59,481.3 L677.7,482.2 L678.83,483.11 L680,484 L681.2,484.9 L682.42,485.84 L683.63,486.82 L684.85,487.82 L686.06,488.84 L687.27,489.88 L688.47,490.92 L689.66,491.96 L690.84,492.99 L692,494 L693.15,495 L694.3,496 L695.44,497 L696.57,498 L697.69,499 L698.79,500 L699.88,501 L700.94,502 L701.99,503 L703,504 L703.98,504.99 L704.93,505.95 L705.85,506.91 L706.74,507.86 L707.62,508.81 L708.5,509.78 L709.36,510.78 L710.23,511.81 L711.11,512.88 L712,514 L712.93,515.18 L713.9,516.41 L714.89,517.68 L715.89,518.98 L716.88,520.31 L717.83,521.66 L718.74,523.01 L719.58,524.35 L720.34,525.69 L721,527 L721.56,528.36 L722.03,529.81 L722.44,531.31 L722.78,532.82 L723.06,534.31 L723.3,535.74 L723.51,537.06 L723.69,538.23 L723.85,539.23 L724,540" fill="none" stroke="#dd1a1a" stroke-width="1" stroke-dasharray="1.5 2.5 1 3 2 2.5" filter="url(#bl03)"/>
<g filter="url(#bl03)">
<circle cx="717.11" cy="521.91" r="0.69" fill="#dd1a1a"/>
<circle cx="701" cy="505.5" r="0.61" fill="#dd1a1a"/>
<circle cx="658.01" cy="480.98" r="1.58" fill="#dd1a1a"/>
<circle cx="652.12" cy="477.11" r="0.97" fill="#dd1a1a"/>
<circle cx="615.52" cy="472.74" r="1.11" fill="#dd1a1a"/>
<circle cx="648.97" cy="474.82" r="0.79" fill="#dd1a1a"/>
<circle cx="697.58" cy="500.04" r="1.52" fill="#dd1a1a"/>
<circle cx="680.19" cy="482.08" r="1.48" fill="#dd1a1a"/>
<circle cx="613.23" cy="475.55" r="0.91" fill="#dd1a1a"/>
<circle cx="722.77" cy="537.48" r="1.12" fill="#dd1a1a"/>
<circle cx="614.93" cy="473.54" r="0.42" fill="#dd1a1a"/>
<circle cx="671.12" cy="478.88" r="0.94" fill="#dd1a1a"/>
<circle cx="708.4" cy="505.71" r="0.84" fill="#dd1a1a"/>
<circle cx="714.63" cy="515.64" r="0.57" fill="#dd1a1a"/>
<circle cx="710.74" cy="511.27" r="0.97" fill="#dd1a1a"/>
<circle cx="683.55" cy="488.95" r="0.49" fill="#dd1a1a"/>
<circle cx="615.19" cy="472.38" r="1.26" fill="#dd1a1a"/>
<circle cx="663.74" cy="474.95" r="1.22" fill="#dd1a1a"/>
<circle cx="645.46" cy="477.16" r="0.73" fill="#dd1a1a"/>
<circle cx="646.63" cy="476.92" r="1.56" fill="#dd1a1a"/>
<circle cx="707.11" cy="505.11" r="1.41" fill="#dd1a1a"/>
<circle cx="695.03" cy="494.27" r="1.59" fill="#dd1a1a"/>
<circle cx="721.47" cy="530.1" r="0.68" fill="#dd1a1a"/>
<circle cx="653.44" cy="480.32" r="0.44" fill="#dd1a1a"/>
<circle cx="692.13" cy="496.54" r="0.82" fill="#dd1a1a"/>
<circle cx="621.7" cy="475.4" r="0.49" fill="#dd1a1a"/>
<circle cx="675.63" cy="479.09" r="1.31" fill="#dd1a1a"/>
<circle cx="654.5" cy="474.52" r="1.13" fill="#dd1a1a"/>
<circle cx="633.95" cy="474.62" r="1.46" fill="#dd1a1a"/>
<circle cx="670.67" cy="475.6" r="0.77" fill="#dd1a1a"/>
<circle cx="672.63" cy="480.49" r="1.22" fill="#dd1a1a"/>
<circle cx="709.3" cy="511.8" r="0.9" fill="#dd1a1a"/>
<circle cx="708.92" cy="508.56" r="1.53" fill="#dd1a1a"/>
<circle cx="689.43" cy="491.09" r="1.26" fill="#dd1a1a"/>
<circle cx="683.53" cy="486.54" r="0.86" fill="#dd1a1a"/>
<circle cx="687.07" cy="490.48" r="1.04" fill="#dd1a1a"/>
<circle cx="676.72" cy="481.73" r="1.43" fill="#dd1a1a"/>
<circle cx="706.48" cy="505.99" r="1.31" fill="#dd1a1a"/>
<circle cx="665.24" cy="473.48" r="0.47" fill="#dd1a1a"/>
<circle cx="651.5" cy="477.4" r="0.73" fill="#dd1a1a"/>
<circle cx="721.99" cy="529.57" r="0.87" fill="#dd1a1a"/>
<circle cx="697.92" cy="497.21" r="1.56" fill="#dd1a1a"/>
<circle cx="681.43" cy="484.66" r="1.31" fill="#dd1a1a"/>
<circle cx="685.88" cy="491.57" r="1.13" fill="#dd1a1a"/>
<circle cx="653.48" cy="478.88" r="0.69" fill="#dd1a1a"/>
</g>
<path d="M614,476 L614.74,476.42 L615.71,476.95 L616.88,477.59 L618.18,478.3 L619.56,479.06 L620.98,479.86 L622.39,480.68 L623.73,481.49 L624.95,482.27 L626,483 L626.91,483.7 L627.75,484.38 L628.53,485.07 L629.26,485.75 L629.94,486.44 L630.58,487.13 L631.2,487.83 L631.81,488.54 L632.4,489.26 L633,490 L633.58,490.76 L634.11,491.54 L634.62,492.33 L635.1,493.13 L635.56,493.94 L636.02,494.75 L636.49,495.57 L636.97,496.38 L637.47,497.2 L638,498 L638.56,498.8 L639.14,499.58 L639.73,500.37 L640.33,501.15 L640.94,501.94 L641.55,502.73 L642.17,503.53 L642.78,504.34 L643.4,505.16 L644,506 L644.6,506.86 L645.18,507.74 L645.77,508.63 L646.35,509.53 L646.94,510.44 L647.53,511.35 L648.13,512.27 L648.74,513.18 L649.36,514.1 L650,515 L650.65,515.91 L651.32,516.83 L652,517.76 L652.68,518.7 L653.38,519.62 L654.08,520.54 L654.79,521.45 L655.52,522.33 L656.25,523.18 L657,524 L657.71,524.8 L658.38,525.59 L659.01,526.37 L659.65,527.14 L660.31,527.88 L661.03,528.58 L661.83,529.26 L662.74,529.89 L663.79,530.47 L665,531 L666.39,531.48 L667.94,531.94 L669.63,532.35 L671.43,532.73 L673.31,533.06 L675.25,533.35 L677.21,533.59 L679.18,533.78 L681.11,533.92 L683,534 L684.89,533.97 L686.83,533.81 L688.82,533.55 L690.82,533.22 L692.81,532.88 L694.78,532.54 L696.71,532.24 L698.57,532.03 L700.34,531.94 L702,532 L703.6,532.24 L705.19,532.63 L706.75,533.14 L708.26,533.74 L709.69,534.38 L711.02,535.02 L712.24,535.65 L713.33,536.21 L714.25,536.67 L715,537" fill="none" stroke="#dd1a1a" stroke-width="1.2" stroke-dasharray="2 2 1 2.5 2.5 1.5" filter="url(#bl03)"/>
<g filter="url(#bl03)">
<circle cx="650.61" cy="521.81" r="0.7" fill="#dd1a1a"/>
<circle cx="693.09" cy="534.61" r="0.49" fill="#dd1a1a"/>
<circle cx="634.8" cy="496.83" r="0.77" fill="#dd1a1a"/>
<circle cx="708.82" cy="533.64" r="1.41" fill="#dd1a1a"/>
<circle cx="629.98" cy="488.26" r="1.21" fill="#dd1a1a"/>
<circle cx="620.97" cy="476.59" r="1.26" fill="#dd1a1a"/>
<circle cx="637.63" cy="495.16" r="0.92" fill="#dd1a1a"/>
<circle cx="646.44" cy="511.44" r="1.48" fill="#dd1a1a"/>
<circle cx="620.41" cy="478.27" r="1.3" fill="#dd1a1a"/>
<circle cx="633.5" cy="486.93" r="0.6" fill="#dd1a1a"/>
<circle cx="616.18" cy="475.71" r="0.93" fill="#dd1a1a"/>
<circle cx="648.61" cy="512.46" r="0.91" fill="#dd1a1a"/>
<circle cx="641.73" cy="499.34" r="1.21" fill="#dd1a1a"/>
<circle cx="664.46" cy="530.68" r="1.09" fill="#dd1a1a"/>
<circle cx="652.11" cy="515.25" r="1.29" fill="#dd1a1a"/>
<circle cx="619.92" cy="478.01" r="1.3" fill="#dd1a1a"/>
<circle cx="693.49" cy="532.21" r="0.55" fill="#dd1a1a"/>
<circle cx="653.69" cy="519.83" r="0.55" fill="#dd1a1a"/>
<circle cx="620.55" cy="479.88" r="0.9" fill="#dd1a1a"/>
<circle cx="635.26" cy="488.3" r="1.36" fill="#dd1a1a"/>
<circle cx="658.43" cy="527.08" r="1.11" fill="#dd1a1a"/>
<circle cx="659.16" cy="525.09" r="1.58" fill="#dd1a1a"/>
<circle cx="703.99" cy="532.16" r="0.88" fill="#dd1a1a"/>
<circle cx="629.19" cy="484.65" r="1.13" fill="#dd1a1a"/>
<circle cx="653.9" cy="527.45" r="0.68" fill="#dd1a1a"/>
<circle cx="657.64" cy="526.29" r="0.85" fill="#dd1a1a"/>
<circle cx="666.58" cy="532.18" r="0.9" fill="#dd1a1a"/>
<circle cx="633.67" cy="491.81" r="1.06" fill="#dd1a1a"/>
<circle cx="654.13" cy="517.85" r="1.44" fill="#dd1a1a"/>
<circle cx="646.57" cy="513.24" r="1.28" fill="#dd1a1a"/>
<circle cx="655.55" cy="523.71" r="0.42" fill="#dd1a1a"/>
<circle cx="674.82" cy="534.27" r="0.77" fill="#dd1a1a"/>
<circle cx="677.83" cy="533.43" r="1.4" fill="#dd1a1a"/>
<circle cx="632.8" cy="486.02" r="0.44" fill="#dd1a1a"/>
<circle cx="645.14" cy="511.05" r="1.14" fill="#dd1a1a"/>
<circle cx="616.18" cy="477.4" r="1.53" fill="#dd1a1a"/>
<circle cx="632.66" cy="493.56" r="0.66" fill="#dd1a1a"/>
<circle cx="628.11" cy="481.96" r="0.43" fill="#dd1a1a"/>
<circle cx="653.19" cy="521.94" r="0.64" fill="#dd1a1a"/>
<circle cx="664.91" cy="532.91" r="1.07" fill="#dd1a1a"/>
<circle cx="633.02" cy="493.77" r="1.44" fill="#dd1a1a"/>
<circle cx="688.56" cy="532.29" r="0.66" fill="#dd1a1a"/>
<circle cx="617.76" cy="479.56" r="1.15" fill="#dd1a1a"/>
<circle cx="622.22" cy="483.84" r="0.54" fill="#dd1a1a"/>
<circle cx="643.34" cy="504.19" r="1.21" fill="#dd1a1a"/>
<circle cx="657.99" cy="522.87" r="0.64" fill="#dd1a1a"/>
<circle cx="672.03" cy="531.89" r="0.73" fill="#dd1a1a"/>
<circle cx="705.7" cy="532.68" r="1.52" fill="#dd1a1a"/>
<circle cx="678.29" cy="535.37" r="0.76" fill="#dd1a1a"/>
<circle cx="652.49" cy="516.9" r="0.92" fill="#dd1a1a"/>
<circle cx="673.32" cy="534.61" r="1.04" fill="#dd1a1a"/>
<circle cx="642.86" cy="506" r="0.43" fill="#dd1a1a"/>
<circle cx="652.55" cy="519.79" r="1.44" fill="#dd1a1a"/>
<circle cx="625.71" cy="480.86" r="1.1" fill="#dd1a1a"/>
<circle cx="640.84" cy="504.71" r="1.19" fill="#dd1a1a"/>
<circle cx="644.77" cy="509.69" r="0.8" fill="#dd1a1a"/>
<circle cx="664.31" cy="531.14" r="1.21" fill="#dd1a1a"/>
<circle cx="631.16" cy="488.48" r="0.74" fill="#dd1a1a"/>
<circle cx="634.27" cy="494.12" r="0.85" fill="#dd1a1a"/>
<circle cx="649.95" cy="515.15" r="1.01" fill="#dd1a1a"/>
<circle cx="692.35" cy="532.97" r="1.19" fill="#dd1a1a"/>
<circle cx="631.74" cy="489.05" r="1" fill="#dd1a1a"/>
<circle cx="631.29" cy="488.3" r="0.4" fill="#dd1a1a"/>
<circle cx="636.35" cy="492.02" r="0.44" fill="#dd1a1a"/>
<circle cx="628.34" cy="486.65" r="0.97" fill="#dd1a1a"/>
<circle cx="668.45" cy="532.36" r="1.01" fill="#dd1a1a"/>
<circle cx="635.09" cy="490.66" r="1.53" fill="#dd1a1a"/>
<circle cx="651.13" cy="515.23" r="1.53" fill="#dd1a1a"/>
<circle cx="617.31" cy="479.25" r="0.9" fill="#dd1a1a"/>
<circle cx="711.32" cy="533.79" r="1.2" fill="#dd1a1a"/>
<circle cx="617.51" cy="479.66" r="1.15" fill="#dd1a1a"/>
<circle cx="634.95" cy="492.17" r="1.44" fill="#dd1a1a"/>
<circle cx="641.72" cy="507.52" r="0.96" fill="#dd1a1a"/>
<circle cx="628.65" cy="485.64" r="1.53" fill="#dd1a1a"/>
<circle cx="631.5" cy="486.7" r="0.97" fill="#dd1a1a"/>
</g>
<g fill="none" stroke-linecap="round" filter="url(#bl03)">
<path d="M612.9,473.8 L614.98,474.35 L617.86,475.12 L621.27,476.02 L624.93,477 L628.53,477.99 L631.8,478.9 L634.77,479.76 L637.66,480.63 L640.51,481.49 L643.33,482.36 L646.15,483.23 L649,484.1 L651.93,484.97 L654.92,485.84 L657.92,486.71 L660.84,487.57 L663.63,488.44 L666.2,489.3 L668.53,490.13 L670.68,490.94 L672.68,491.74 L674.59,492.57 L676.45,493.45 L678.3,494.4 L680.12,495.42 L681.86,496.5 L683.56,497.62 L685.23,498.8 L686.9,500.02 L688.6,501.3 L690.33,502.65 L692.06,504.07 L693.8,505.55 L695.54,507.05 L697.27,508.54 L699,510 L700.76,511.43 L702.57,512.87 L704.38,514.29 L706.14,515.71 L707.79,517.11 L709.3,518.5 L710.7,519.95 L712.05,521.5 L713.29,523.03 L714.4,524.44 L715.31,525.64 L716,526.5" stroke="#e0e0e0" stroke-width="1.2"/>
<path d="M614,476.5 L616.09,477.1 L619,477.93 L622.44,478.91 L626.11,479.96 L629.73,481.02 L633,482 L635.96,482.92 L638.85,483.85 L641.69,484.78 L644.48,485.7 L647.25,486.61 L650,487.5 L652.78,488.36 L655.57,489.2 L658.34,490.03 L661.04,490.85 L663.61,491.67 L666,492.5 L668.2,493.32 L670.24,494.11 L672.16,494.91 L673.98,495.72 L675.75,496.58 L677.5,497.5 L679.19,498.47 L680.8,499.48 L682.34,500.53 L683.87,501.63 L685.41,502.78 L687,504 L688.64,505.3 L690.3,506.69 L691.97,508.12 L693.65,509.59 L695.33,511.06 L697,512.5 L698.71,513.93 L700.48,515.39 L702.25,516.84 L703.96,518.28 L705.56,519.67 L707,521 L708.3,522.33 L709.52,523.7 L710.62,525.03 L711.59,526.24 L712.39,527.26 L713,528" stroke="#c8c8c8" stroke-width="1.1"/>
<path d="M616.5,474.5 L617.86,475.26 L619.8,476.31 L622.06,477.56 L624.43,478.91 L626.65,480.25 L628.5,481.5 L629.98,482.66 L631.28,483.8 L632.44,484.94 L633.5,486.09 L634.51,487.28 L635.5,488.5 L636.44,489.78 L637.28,491.09 L638.06,492.44 L638.83,493.8 L639.63,495.16 L640.5,496.5 L641.44,497.82 L642.43,499.13 L643.44,500.44 L644.46,501.76 L645.49,503.11 L646.5,504.5 L647.49,505.94 L648.46,507.43 L649.44,508.94 L650.43,510.46 L651.44,511.99 L652.5,513.5 L653.6,515.02 L654.72,516.57 L655.88,518.12 L657.06,519.65 L658.26,521.12 L659.5,522.5 L660.66,523.83 L661.72,525.13 L662.81,526.38 L664.06,527.54 L665.58,528.59 L667.5,529.5 L669.91,530.29 L672.72,530.98 L675.81,531.56 L679.06,532.02 L682.33,532.34 L685.5,532.5 L688.68,532.38 L691.98,531.94 L695.31,531.38 L698.57,530.83 L701.67,530.49 L704.5,530.5 L707.16,530.99 L709.76,531.83 L712.19,532.88 L714.35,533.94 L716.16,534.88 L717.5,535.5" stroke="#9a9a9a" stroke-width="0.7" stroke-dasharray="1 2"/>
<circle cx="718.5" cy="530" r="4.3" stroke="#f4f4f4" stroke-width="2"/>
</g>
<ellipse cx="613.5" cy="474.5" rx="2" ry="1.7" fill="#fff"/>
<circle cx="635.51" cy="514.96" r="0.6" fill="#aaa"/>
<circle cx="655.8" cy="512.85" r="0.41" fill="#aaa"/>
<circle cx="685.47" cy="518.79" r="0.48" fill="#aaa"/>
<circle cx="703.21" cy="519.52" r="0.4" fill="#aaa"/>
<circle cx="658.5" cy="516.61" r="0.51" fill="#aaa"/>
<circle cx="646.65" cy="523.98" r="0.43" fill="#aaa"/>
<circle cx="687.93" cy="493.83" r="0.4" fill="#aaa"/>
<circle cx="631.33" cy="507.51" r="0.38" fill="#aaa"/>
<circle cx="656.02" cy="499.27" r="0.56" fill="#aaa"/>
<circle cx="677.64" cy="504.69" r="0.45" fill="#aaa"/>
<circle cx="643.86" cy="529.58" r="0.57" fill="#aaa"/>
<circle cx="672.85" cy="496.44" r="0.59" fill="#aaa"/>
<circle cx="646.25" cy="492.31" r="0.43" fill="#aaa"/>
<circle cx="658.3" cy="525.71" r="0.34" fill="#aaa"/>
<circle cx="634.57" cy="508.54" r="0.31" fill="#aaa"/>
<circle cx="679.72" cy="510.49" r="0.56" fill="#aaa"/>
<circle cx="700.15" cy="499.84" r="0.54" fill="#aaa"/>
<circle cx="667.46" cy="529.92" r="0.32" fill="#aaa"/>
<circle cx="664.24" cy="531.17" r="0.32" fill="#aaa"/>
<circle cx="652.84" cy="503.01" r="0.41" fill="#aaa"/>
<circle cx="704.44" cy="498.02" r="0.55" fill="#aaa"/>
<circle cx="650.01" cy="526.73" r="0.34" fill="#aaa"/>
<circle cx="637.54" cy="531.41" r="0.3" fill="#aaa"/>
<circle cx="678.16" cy="498.56" r="0.47" fill="#aaa"/>
<circle cx="653.83" cy="516.22" r="0.5" fill="#aaa"/>
<circle cx="686.23" cy="495.11" r="0.55" fill="#aaa"/>
<circle cx="647.91" cy="514.92" r="0.54" fill="#aaa"/>
<circle cx="687.88" cy="512.29" r="0.45" fill="#aaa"/>
<circle cx="641.56" cy="526.93" r="0.48" fill="#aaa"/>
<circle cx="687.87" cy="530.58" r="0.51" fill="#aaa"/>
<circle cx="652.51" cy="510.18" r="0.35" fill="#aaa"/>
<circle cx="650.8" cy="526.01" r="0.5" fill="#aaa"/>
<circle cx="642.52" cy="511.91" r="0.42" fill="#aaa"/>
<circle cx="691.21" cy="524.93" r="0.41" fill="#aaa"/>
<circle cx="636.25" cy="497.9" r="0.47" fill="#aaa"/>
<circle cx="657.32" cy="491.48" r="0.52" fill="#aaa"/>
<circle cx="676.09" cy="503.71" r="0.31" fill="#aaa"/>
<circle cx="656.59" cy="514.61" r="0.32" fill="#aaa"/>
<circle cx="638.03" cy="491.73" r="0.31" fill="#aaa"/>
<circle cx="675.91" cy="519.97" r="0.49" fill="#aaa"/>
<line x1="695.9" y1="566.4" x2="730" y2="566.4" stroke="#c8c8c8" stroke-width="1.4" />
</svg>
</svg>
</body></html>
